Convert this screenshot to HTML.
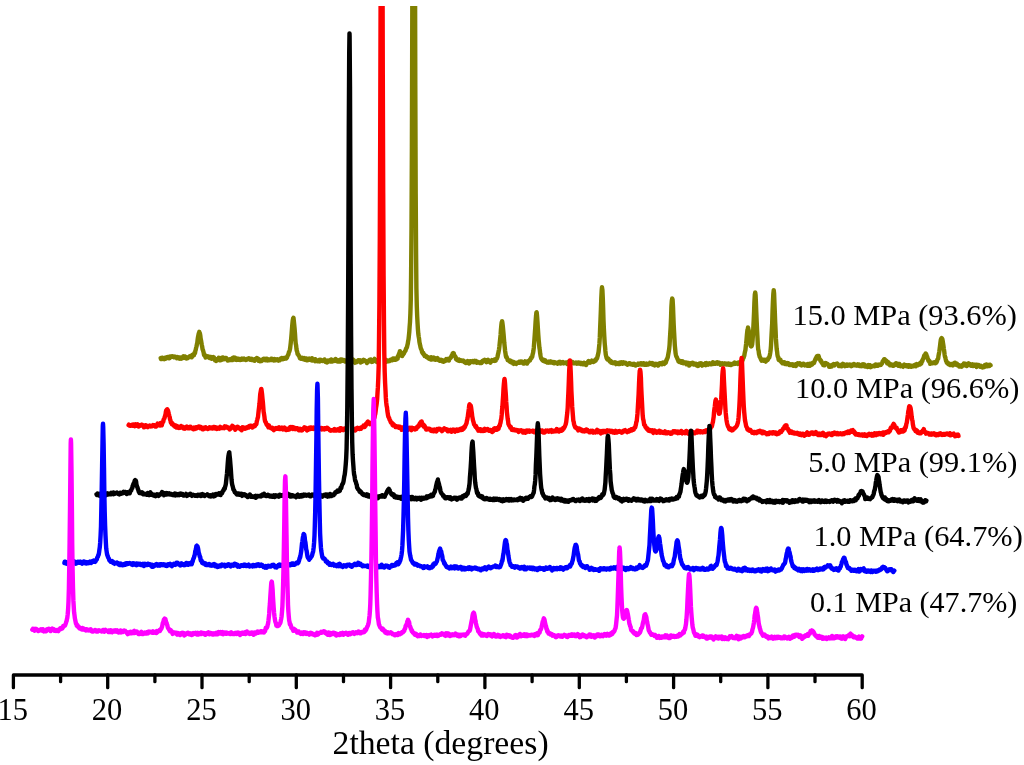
<!DOCTYPE html>
<html lang="en"><head><meta charset="utf-8"><title>XRD patterns</title>
<style>
html,body{margin:0;padding:0;background:#fff;}
body{width:1024px;height:765px;overflow:hidden;}
svg{display:block;}
svg text{font-family:"Liberation Serif","Times New Roman",serif;fill:#000;}
</style></head><body>
<svg width="1024" height="765" viewBox="0 0 1024 765">
<rect width="1024" height="765" fill="#fff"/>
<defs><clipPath id="plot"><rect x="0" y="6" width="1024" height="700"/></clipPath></defs>
<g clip-path="url(#plot)">
<polyline fill="#fff" stroke="#808000" stroke-width="4.4" stroke-linejoin="round" stroke-linecap="round" points="160.7,358.1 161.0,359.0 161.4,359.1 161.8,359.0 162.2,357.7 162.5,358.6 162.9,358.5 163.3,358.4 163.7,358.3 164.1,358.6 164.4,359.1 164.8,357.8 165.2,357.8 165.6,358.7 165.9,357.5 166.3,357.8 166.7,357.2 167.1,357.3 167.5,357.9 167.8,356.9 168.2,357.4 168.6,357.4 169.0,358.1 169.3,357.4 169.7,358.1 170.1,356.6 170.5,357.2 170.8,356.6 171.2,356.6 171.6,356.9 172.0,356.8 172.4,356.4 172.7,356.7 173.1,356.6 173.5,356.9 173.9,357.2 174.2,356.6 174.6,356.8 175.0,356.8 175.4,356.7 175.8,357.3 176.1,357.1 176.5,357.4 176.9,358.3 177.3,357.5 177.6,357.2 178.0,358.1 178.4,358.0 178.8,358.3 179.1,357.4 179.5,358.7 179.9,357.8 180.3,357.5 180.7,358.0 181.0,358.7 181.4,358.4 181.8,358.5 182.2,357.5 182.5,357.3 182.9,356.8 183.3,356.4 183.7,357.3 184.1,357.9 184.4,357.5 184.8,356.4 185.2,357.6 185.6,356.9 185.9,357.4 186.3,358.4 186.7,357.7 187.1,357.6 187.4,358.2 187.8,357.6 188.2,357.6 188.6,357.5 189.0,357.0 189.3,357.0 189.7,356.3 190.1,357.0 190.5,356.1 190.8,356.7 191.2,355.7 191.6,357.3 192.0,356.8 192.4,356.4 192.7,354.8 193.1,355.5 193.5,354.9 193.9,355.3 194.2,353.3 194.6,353.7 195.0,353.2 195.4,350.7 195.7,349.9 196.1,347.9 196.5,346.5 196.9,344.4 197.3,342.8 197.6,339.9 198.0,337.1 198.4,335.1 198.8,333.3 199.1,332.9 199.3,331.8 199.5,333.0 199.9,333.4 200.3,335.4 200.6,338.2 201.0,340.1 201.4,342.6 201.8,344.9 202.2,346.7 202.5,349.1 202.9,350.0 203.3,351.3 203.7,353.0 204.0,355.0 204.4,354.2 204.8,355.8 205.2,356.3 205.6,357.5 205.9,357.3 206.3,357.0 206.7,356.8 207.1,356.9 207.4,356.3 207.8,357.0 208.2,357.1 208.6,356.9 208.9,357.4 209.3,356.7 209.7,358.1 210.1,357.5 210.5,357.3 210.8,358.0 211.2,357.1 211.6,358.8 212.0,358.2 212.3,357.7 212.7,357.3 213.1,357.0 213.5,357.9 213.9,357.3 214.2,358.3 214.6,359.0 215.0,360.2 215.4,359.4 215.7,359.9 216.1,360.9 216.5,360.0 216.9,360.0 217.2,359.1 217.6,360.1 218.0,359.2 218.4,358.6 218.8,357.7 219.1,358.0 219.5,359.1 219.9,359.6 220.3,360.3 220.6,359.0 221.0,359.6 221.4,359.9 221.8,357.6 222.2,359.6 222.5,357.4 222.9,357.5 223.3,358.8 223.7,358.5 224.0,359.3 224.4,359.0 224.8,359.1 225.2,358.6 225.5,358.0 225.9,359.1 226.3,358.0 226.7,359.1 227.1,359.7 227.4,359.2 227.8,360.5 228.2,360.4 228.6,359.8 228.9,359.8 229.3,360.2 229.7,360.1 230.1,359.3 230.5,359.8 230.8,360.1 231.2,359.9 231.6,359.7 232.0,359.9 232.3,358.2 232.7,360.0 233.1,357.6 233.5,358.0 233.8,357.5 234.2,358.2 234.6,359.0 235.0,359.0 235.4,357.8 235.7,359.7 236.1,359.4 236.5,358.3 236.9,359.9 237.2,359.3 237.6,358.8 238.0,359.6 238.4,359.2 238.8,359.6 239.1,359.0 239.5,358.9 239.9,358.9 240.3,360.0 240.6,359.3 241.0,358.9 241.4,359.0 241.8,358.7 242.1,359.7 242.5,358.8 242.9,359.1 243.3,359.5 243.7,358.8 244.0,358.5 244.4,359.3 244.8,359.6 245.2,359.5 245.5,359.9 245.9,360.0 246.3,359.6 246.7,359.2 247.0,359.7 247.4,359.1 247.8,358.8 248.2,359.0 248.6,359.1 248.9,358.4 249.3,358.7 249.7,358.5 250.1,358.8 250.4,359.8 250.8,359.2 251.2,359.1 251.6,358.8 252.0,359.9 252.3,359.4 252.7,359.6 253.1,360.0 253.5,359.6 253.8,360.4 254.2,360.2 254.6,360.7 255.0,360.3 255.3,358.9 255.7,359.2 256.1,359.2 256.5,359.0 256.9,358.0 257.2,358.2 257.6,359.1 258.0,359.4 258.4,358.8 258.7,360.9 259.1,360.7 259.5,359.7 259.9,361.3 260.3,359.9 260.6,360.0 261.0,359.9 261.4,361.1 261.8,360.1 262.1,360.3 262.5,360.0 262.9,359.6 263.3,359.6 263.6,358.8 264.0,359.9 264.4,359.0 264.8,358.8 265.2,359.8 265.5,359.4 265.9,360.2 266.3,360.1 266.7,358.7 267.0,359.3 267.4,359.1 267.8,360.5 268.2,359.5 268.6,359.5 268.9,359.8 269.3,360.2 269.7,359.8 270.1,360.0 270.4,359.2 270.8,358.9 271.2,360.1 271.6,359.2 271.9,358.7 272.3,358.9 272.7,359.3 273.1,359.2 273.5,359.3 273.8,360.5 274.2,359.8 274.6,359.0 275.0,359.5 275.3,359.2 275.7,359.5 276.1,360.2 276.5,359.4 276.9,359.3 277.2,359.3 277.6,360.3 278.0,360.0 278.4,360.6 278.7,359.8 279.1,360.2 279.5,359.8 279.9,360.1 280.2,359.0 280.6,358.5 281.0,359.1 281.4,358.8 281.8,357.9 282.1,357.9 282.5,359.2 282.9,359.3 283.3,358.2 283.6,358.0 284.0,358.6 284.4,358.8 284.8,358.6 285.2,358.5 285.5,358.4 285.9,357.5 286.3,358.4 286.7,357.6 287.0,357.5 287.4,356.2 287.8,355.4 288.2,354.8 288.5,354.1 288.9,352.1 289.3,351.6 289.7,350.3 290.1,348.6 290.4,346.1 290.8,342.5 291.2,338.5 291.6,333.7 291.9,329.7 292.3,324.8 292.7,320.7 293.1,318.6 293.3,318.2 293.5,317.7 293.8,320.8 294.2,324.4 294.6,328.8 295.0,333.8 295.3,338.6 295.7,343.4 296.1,345.2 296.5,349.2 296.8,350.7 297.2,351.8 297.6,354.0 298.0,354.4 298.4,354.9 298.7,355.6 299.1,356.0 299.5,356.6 299.9,358.2 300.2,357.9 300.6,358.0 301.0,358.9 301.4,358.9 301.7,358.4 302.1,358.5 302.5,357.8 302.9,359.1 303.3,358.6 303.6,359.3 304.0,358.7 304.4,358.1 304.8,358.8 305.1,359.8 305.5,358.7 305.9,359.5 306.3,358.4 306.7,359.2 307.0,360.3 307.4,359.0 307.8,359.9 308.2,359.6 308.5,359.1 308.9,359.9 309.3,358.6 309.7,359.6 310.0,359.0 310.4,359.3 310.8,360.1 311.2,360.0 311.6,359.4 311.9,358.2 312.3,360.6 312.7,359.1 313.1,359.9 313.4,359.3 313.8,359.7 314.2,360.4 314.6,360.3 315.0,361.3 315.3,359.3 315.7,359.9 316.1,360.2 316.5,360.4 316.8,360.3 317.2,360.5 317.6,361.3 318.0,360.5 318.3,361.0 318.7,361.1 319.1,361.1 319.5,359.8 319.9,361.4 320.2,360.2 320.6,359.8 321.0,360.0 321.4,360.1 321.7,360.7 322.1,360.7 322.5,361.0 322.9,361.0 323.3,360.3 323.6,360.1 324.0,360.5 324.4,359.4 324.8,360.4 325.1,361.5 325.5,361.9 325.9,361.2 326.3,360.7 326.6,361.5 327.0,362.4 327.4,362.2 327.8,361.3 328.2,360.6 328.5,361.3 328.9,361.2 329.3,361.4 329.7,361.2 330.0,361.5 330.4,360.0 330.8,361.4 331.2,359.5 331.6,360.9 331.9,361.2 332.3,361.5 332.7,360.9 333.1,361.0 333.4,360.5 333.8,361.1 334.2,360.9 334.6,360.8 334.9,359.5 335.3,360.0 335.7,359.1 336.1,360.3 336.5,359.9 336.8,361.2 337.2,360.9 337.6,361.4 338.0,360.9 338.3,361.0 338.7,361.1 339.1,360.3 339.5,361.4 339.9,360.2 340.2,361.5 340.6,359.5 341.0,360.2 341.4,360.8 341.7,360.7 342.1,359.6 342.5,360.7 342.9,360.3 343.2,360.6 343.6,360.5 344.0,360.1 344.4,360.9 344.8,360.7 345.1,361.5 345.5,360.9 345.9,360.8 346.3,361.5 346.6,360.3 347.0,360.9 347.4,360.8 347.8,361.1 348.2,361.2 348.5,361.6 348.9,361.1 349.3,361.1 349.7,360.6 350.0,360.2 350.4,360.6 350.8,361.3 351.2,362.4 351.5,361.9 351.9,361.2 352.3,360.6 352.7,359.5 353.1,359.6 353.4,360.0 353.8,360.1 354.2,361.2 354.6,362.5 354.9,362.8 355.3,361.7 355.7,361.8 356.1,362.0 356.4,361.6 356.8,362.1 357.2,361.3 357.6,360.8 358.0,360.9 358.3,360.2 358.7,360.2 359.1,361.0 359.5,361.3 359.8,360.9 360.2,360.3 360.6,362.5 361.0,361.5 361.4,361.6 361.7,360.9 362.1,361.7 362.5,361.5 362.9,360.8 363.2,361.1 363.6,359.8 364.0,360.8 364.4,360.2 364.7,360.4 365.1,360.9 365.5,361.3 365.9,361.1 366.3,361.4 366.6,361.9 367.0,363.1 367.4,361.9 367.8,361.4 368.1,361.8 368.5,361.5 368.9,360.5 369.3,361.3 369.7,359.7 370.0,360.6 370.4,361.2 370.8,359.5 371.2,360.3 371.5,360.3 371.9,361.9 372.3,361.0 372.7,361.0 373.0,361.6 373.4,361.4 373.8,360.9 374.2,359.5 374.6,358.8 374.9,360.6 375.3,360.2 375.7,360.3 376.1,360.1 376.4,360.5 376.8,361.9 377.2,360.7 377.6,361.5 378.0,360.8 378.3,362.2 378.7,361.6 379.1,361.1 379.5,360.3 379.8,361.1 380.2,361.3 380.6,361.2 381.0,361.8 381.3,360.3 381.7,361.3 382.1,361.1 382.5,360.6 382.9,361.2 383.2,361.4 383.6,360.1 384.0,360.2 384.4,360.0 384.7,360.3 385.1,360.9 385.5,359.5 385.9,360.4 386.3,361.8 386.6,360.3 387.0,361.1 387.4,361.3 387.8,360.6 388.1,360.9 388.5,360.8 388.9,361.2 389.3,360.5 389.6,360.9 390.0,360.1 390.4,359.6 390.8,359.7 391.2,359.6 391.5,360.1 391.9,359.2 392.3,360.2 392.7,359.4 393.0,358.4 393.4,359.2 393.8,359.3 394.2,359.6 394.6,358.5 394.9,358.8 395.3,359.7 395.7,359.0 396.1,359.6 396.4,359.5 396.8,358.0 397.2,358.3 397.6,358.7 397.9,356.1 398.3,356.5 398.7,354.8 399.1,353.5 399.5,353.7 399.8,351.3 400.0,351.3 400.2,351.8 400.6,352.9 401.0,354.4 401.3,354.8 401.7,354.0 402.1,356.1 402.5,355.4 402.9,354.8 403.2,354.1 403.6,353.0 404.0,353.5 404.4,352.1 404.7,351.7 405.1,351.2 405.5,350.8 405.9,349.0 406.2,348.3 406.6,348.1 407.0,347.0 407.4,345.1 407.8,343.6 408.1,341.4 408.5,339.4 408.9,335.8 409.3,331.8 409.6,327.2 410.0,322.1 410.4,313.2 410.8,299.8 411.1,274.7 411.5,228.7 411.9,146.3 412.3,8.8 412.7,-185.7 413.0,-412.2 413.4,-598.3 413.7,-651.1 413.8,-644.6 414.2,-515.5 414.5,-297.8 414.9,-81.4 415.3,84.7 415.7,193.4 416.1,255.0 416.4,288.6 416.8,306.0 417.2,316.7 417.6,324.0 417.9,329.0 418.3,333.9 418.7,336.6 419.1,338.9 419.4,341.9 419.8,343.9 420.2,345.5 420.6,347.6 421.0,348.9 421.3,349.4 421.7,350.3 422.1,352.3 422.5,352.6 422.8,353.4 423.2,352.8 423.6,354.4 424.0,354.3 424.4,355.1 424.7,356.1 425.1,355.6 425.5,356.1 425.9,356.3 426.2,355.9 426.6,357.1 427.0,356.7 427.4,357.3 427.7,357.2 428.1,358.1 428.5,357.8 428.9,358.6 429.3,357.8 429.6,357.8 430.0,357.6 430.4,357.8 430.8,359.4 431.1,357.1 431.5,359.5 431.9,359.4 432.3,358.5 432.7,359.3 433.0,359.3 433.4,358.9 433.8,357.6 434.2,358.1 434.5,359.6 434.9,358.2 435.3,359.8 435.7,358.7 436.0,359.1 436.4,359.1 436.8,358.8 437.2,359.4 437.6,358.1 437.9,359.8 438.3,359.2 438.7,360.1 439.1,359.9 439.4,359.9 439.8,360.8 440.2,360.1 440.6,359.8 441.0,359.9 441.3,360.0 441.7,360.8 442.1,360.1 442.5,361.4 442.8,360.3 443.2,360.8 443.6,361.7 444.0,360.7 444.3,360.9 444.7,360.5 445.1,360.4 445.5,360.9 445.9,360.1 446.2,359.1 446.6,359.5 447.0,359.6 447.4,359.0 447.7,358.9 448.1,360.2 448.5,359.8 448.9,360.5 449.3,359.2 449.6,358.4 450.0,358.4 450.4,358.1 450.8,357.6 451.1,357.3 451.5,355.7 451.9,355.7 452.3,355.6 452.6,353.5 453.0,354.0 453.0,353.7 453.4,353.1 453.8,353.3 454.2,355.6 454.5,355.2 454.9,356.2 455.3,356.7 455.7,357.0 456.0,359.1 456.4,359.4 456.8,359.8 457.2,360.0 457.5,360.0 457.9,359.6 458.3,360.5 458.7,359.4 459.1,360.8 459.4,360.6 459.8,360.9 460.2,360.7 460.6,360.1 460.9,360.1 461.3,360.7 461.7,360.9 462.1,361.0 462.5,360.8 462.8,361.0 463.2,360.5 463.6,361.4 464.0,361.2 464.3,362.1 464.7,362.3 465.1,362.4 465.5,361.8 465.8,363.1 466.2,361.7 466.6,362.2 467.0,362.4 467.4,362.1 467.7,361.1 468.1,361.5 468.5,362.7 468.9,362.6 469.2,363.5 469.6,361.6 470.0,361.2 470.4,361.2 470.8,361.3 471.1,361.5 471.5,361.7 471.9,362.0 472.3,361.5 472.6,361.2 473.0,361.9 473.4,361.5 473.8,362.3 474.1,361.3 474.5,360.9 474.9,362.0 475.3,361.8 475.7,362.1 476.0,360.9 476.4,361.9 476.8,362.8 477.2,362.0 477.5,361.8 477.9,362.0 478.3,362.4 478.7,362.2 479.1,362.5 479.4,362.7 479.8,363.0 480.2,363.1 480.6,362.5 480.9,362.1 481.3,363.0 481.7,363.0 482.1,362.0 482.4,361.0 482.8,361.8 483.2,360.6 483.6,360.5 484.0,360.7 484.3,360.8 484.7,359.7 485.1,360.0 485.5,360.8 485.8,360.8 486.2,360.2 486.6,362.2 487.0,361.6 487.4,361.4 487.7,360.9 488.1,359.8 488.5,360.7 488.9,361.2 489.2,361.4 489.6,361.9 490.0,362.2 490.4,362.6 490.7,362.1 491.1,360.9 491.5,361.3 491.9,360.1 492.3,360.2 492.6,360.2 493.0,360.0 493.4,360.4 493.8,360.7 494.1,360.9 494.5,359.5 494.9,360.2 495.3,359.9 495.7,360.6 496.0,359.6 496.4,358.5 496.8,358.7 497.2,357.7 497.5,356.9 497.9,354.6 498.3,353.2 498.7,351.0 499.0,349.6 499.4,346.5 499.8,342.5 500.2,338.6 500.6,334.7 500.9,329.9 501.3,325.6 501.7,322.2 502.1,322.0 502.1,321.1 502.4,322.9 502.8,326.0 503.2,330.1 503.6,334.5 504.0,339.4 504.3,343.1 504.7,346.7 505.1,350.8 505.5,353.3 505.8,355.6 506.2,357.1 506.6,356.8 507.0,358.1 507.3,358.7 507.7,360.1 508.1,359.9 508.5,360.6 508.9,360.8 509.2,361.0 509.6,361.5 510.0,361.7 510.4,360.6 510.7,362.2 511.1,361.0 511.5,361.3 511.9,361.4 512.2,362.4 512.6,362.1 513.0,363.5 513.4,362.0 513.8,363.9 514.1,362.9 514.5,363.5 514.9,363.1 515.3,363.3 515.6,362.8 516.0,362.7 516.4,363.9 516.8,363.3 517.2,363.1 517.5,362.7 517.9,362.8 518.3,362.6 518.7,362.6 519.0,361.7 519.4,362.0 519.8,362.8 520.2,361.9 520.5,362.6 520.9,361.6 521.3,361.9 521.7,361.6 522.1,362.6 522.4,362.2 522.8,362.2 523.2,363.4 523.6,363.0 523.9,363.4 524.3,362.6 524.7,362.0 525.1,361.3 525.5,362.0 525.8,362.1 526.2,362.2 526.6,362.2 527.0,363.6 527.3,361.5 527.7,361.7 528.1,361.6 528.5,361.7 528.8,360.7 529.2,360.8 529.6,360.1 530.0,360.4 530.4,359.0 530.7,358.8 531.1,357.6 531.5,358.1 531.9,356.9 532.2,356.9 532.6,354.4 533.0,353.1 533.4,350.9 533.8,347.7 534.1,343.7 534.5,338.5 534.9,332.6 535.3,326.9 535.6,321.5 536.0,316.3 536.4,312.4 536.6,312.3 536.8,313.3 537.1,316.6 537.5,322.2 537.9,328.7 538.3,334.9 538.7,340.2 539.0,343.3 539.4,347.6 539.8,350.0 540.2,353.7 540.5,355.4 540.9,357.2 541.3,358.8 541.7,358.9 542.1,359.8 542.4,360.2 542.8,359.4 543.2,360.8 543.6,360.4 543.9,360.5 544.3,361.2 544.7,360.1 545.1,360.3 545.4,361.4 545.8,361.9 546.2,361.8 546.6,361.8 547.0,362.3 547.3,362.6 547.7,362.5 548.1,361.7 548.5,362.6 548.8,361.9 549.2,361.6 549.6,361.9 550.0,361.7 550.4,361.6 550.7,362.5 551.1,361.5 551.5,361.7 551.9,362.2 552.2,362.2 552.6,362.8 553.0,362.8 553.4,362.2 553.7,362.1 554.1,363.3 554.5,362.3 554.9,362.3 555.3,362.9 555.6,363.0 556.0,362.9 556.4,363.0 556.8,362.7 557.1,362.8 557.5,363.7 557.9,362.7 558.3,363.0 558.7,362.7 559.0,361.9 559.4,363.0 559.8,362.7 560.2,361.9 560.5,363.5 560.9,363.4 561.3,363.1 561.7,362.6 562.0,362.3 562.4,362.5 562.8,362.2 563.2,363.2 563.6,363.0 563.9,363.3 564.3,362.6 564.7,362.7 565.1,362.6 565.4,362.5 565.8,362.8 566.2,363.0 566.6,363.0 566.9,362.7 567.3,364.1 567.7,362.8 568.1,362.6 568.5,361.9 568.8,362.9 569.2,362.6 569.6,362.4 570.0,363.1 570.3,362.9 570.7,362.2 571.1,361.6 571.5,361.9 571.9,362.4 572.2,362.1 572.6,362.0 573.0,362.5 573.4,363.0 573.7,363.4 574.1,363.4 574.5,363.0 574.9,363.1 575.2,363.1 575.6,363.0 576.0,362.5 576.4,363.2 576.8,363.6 577.1,362.8 577.5,362.7 577.9,363.5 578.3,363.6 578.6,363.5 579.0,362.6 579.4,362.8 579.8,363.3 580.2,363.6 580.5,363.9 580.9,362.8 581.3,364.0 581.7,364.1 582.0,363.8 582.4,364.1 582.8,363.3 583.2,363.8 583.5,364.3 583.9,362.7 584.3,363.1 584.7,363.2 585.1,363.4 585.4,363.6 585.8,363.8 586.2,364.9 586.6,363.2 586.9,363.6 587.3,362.9 587.7,362.4 588.1,361.6 588.5,361.1 588.8,361.2 589.2,361.9 589.6,361.7 590.0,362.7 590.3,361.8 590.7,362.3 591.1,361.6 591.5,361.1 591.8,360.7 592.2,361.5 592.6,361.0 593.0,361.1 593.4,362.0 593.7,361.0 594.1,361.6 594.5,360.6 594.9,360.4 595.2,360.3 595.6,360.7 596.0,359.1 596.4,359.3 596.8,358.7 597.1,358.3 597.5,356.6 597.9,355.1 598.3,353.2 598.6,351.7 599.0,347.8 599.4,343.9 599.8,337.7 600.1,329.1 600.5,319.5 600.9,309.3 601.3,298.0 601.7,290.1 602.0,287.1 602.0,287.7 602.4,289.8 602.8,298.1 603.2,309.8 603.5,320.0 603.9,329.0 604.3,336.7 604.7,343.1 605.1,347.2 605.4,351.0 605.8,354.7 606.2,356.2 606.6,357.9 606.9,358.5 607.3,359.4 607.7,358.6 608.1,359.0 608.4,358.8 608.8,359.7 609.2,359.8 609.6,361.3 610.0,361.7 610.3,360.8 610.7,361.0 611.1,362.7 611.5,362.8 611.8,361.8 612.2,362.4 612.6,363.0 613.0,362.7 613.3,363.2 613.7,362.7 614.1,362.6 614.5,362.7 614.9,362.3 615.2,363.1 615.6,363.2 616.0,364.1 616.4,362.8 616.7,363.5 617.1,363.0 617.5,363.2 617.9,363.1 618.3,364.0 618.6,363.4 619.0,363.3 619.4,363.7 619.8,364.0 620.1,362.5 620.5,362.9 620.9,363.1 621.3,363.0 621.6,363.3 622.0,362.3 622.4,363.8 622.8,362.9 623.2,363.1 623.5,362.3 623.9,363.1 624.3,363.4 624.7,363.3 625.0,363.4 625.4,362.7 625.8,363.8 626.2,363.8 626.6,364.2 626.9,364.2 627.3,364.7 627.7,363.9 628.1,364.0 628.4,363.8 628.8,363.9 629.2,363.2 629.6,363.6 629.9,363.3 630.3,364.2 630.7,363.8 631.1,364.0 631.5,363.9 631.8,364.6 632.2,364.6 632.6,364.8 633.0,364.0 633.3,364.5 633.7,363.9 634.1,363.8 634.5,364.1 634.9,365.1 635.2,364.8 635.6,365.5 636.0,364.5 636.4,364.9 636.7,364.7 637.1,364.8 637.5,364.8 637.9,364.7 638.2,363.6 638.6,364.7 639.0,364.0 639.4,363.9 639.8,364.1 640.1,363.7 640.5,364.3 640.9,363.4 641.3,364.5 641.6,364.2 642.0,363.3 642.4,363.4 642.8,364.4 643.2,364.3 643.5,363.2 643.9,364.0 644.3,364.8 644.7,364.3 645.0,364.8 645.4,364.4 645.8,364.5 646.2,363.6 646.5,363.5 646.9,364.7 647.3,364.5 647.7,364.3 648.1,364.5 648.4,364.5 648.8,364.1 649.2,363.9 649.6,363.5 649.9,362.9 650.3,363.7 650.7,363.4 651.1,363.3 651.5,363.7 651.8,364.2 652.2,363.1 652.6,363.8 653.0,364.7 653.3,363.4 653.7,364.2 654.1,364.2 654.5,364.3 654.8,365.4 655.2,365.0 655.6,364.3 656.0,363.8 656.4,364.4 656.7,364.0 657.1,364.6 657.5,364.2 657.9,365.0 658.2,365.5 658.6,364.9 659.0,364.0 659.4,364.1 659.8,363.2 660.1,364.0 660.5,363.3 660.9,363.2 661.3,363.0 661.6,363.6 662.0,364.3 662.4,362.8 662.8,362.5 663.1,362.5 663.5,362.8 663.9,363.0 664.3,363.9 664.7,363.2 665.0,362.6 665.4,361.9 665.8,362.7 666.2,361.2 666.5,359.8 666.9,359.7 667.3,358.3 667.7,357.5 668.0,355.8 668.4,353.6 668.8,351.4 669.2,348.9 669.6,344.6 669.9,339.1 670.3,332.4 670.7,326.1 671.1,316.9 671.4,306.9 671.8,300.9 672.2,298.5 672.2,298.4 672.6,299.6 673.0,306.7 673.3,314.7 673.7,324.7 674.1,332.4 674.5,339.6 674.8,345.1 675.2,349.2 675.6,353.4 676.0,355.3 676.3,356.3 676.7,357.0 677.1,357.9 677.5,359.1 677.9,359.7 678.2,360.6 678.6,361.5 679.0,361.8 679.4,361.1 679.7,361.3 680.1,362.0 680.5,361.0 680.9,362.1 681.3,361.9 681.6,362.7 682.0,361.4 682.4,361.9 682.8,361.4 683.1,362.2 683.5,363.3 683.9,362.3 684.3,363.0 684.6,362.6 685.0,363.0 685.4,362.4 685.8,362.4 686.2,362.4 686.5,364.3 686.9,362.8 687.3,363.3 687.7,363.0 688.0,364.1 688.4,364.0 688.8,363.1 689.2,365.6 689.6,364.1 689.9,364.1 690.3,364.6 690.7,363.2 691.1,364.0 691.4,363.7 691.8,363.6 692.2,363.6 692.6,362.8 692.9,363.8 693.3,364.4 693.7,363.6 694.1,364.2 694.5,363.8 694.8,364.4 695.2,363.7 695.6,363.9 696.0,363.8 696.3,364.2 696.7,365.4 697.1,364.8 697.5,365.0 697.9,365.0 698.2,366.0 698.6,364.1 699.0,364.8 699.4,363.6 699.7,364.0 700.1,363.8 700.5,363.8 700.9,363.2 701.2,364.7 701.6,365.0 702.0,365.6 702.4,364.0 702.8,365.1 703.1,364.8 703.5,364.3 703.9,364.2 704.3,364.2 704.6,364.8 705.0,364.2 705.4,363.3 705.8,365.2 706.2,364.0 706.5,363.0 706.9,363.4 707.3,363.7 707.7,363.7 708.0,363.8 708.4,364.6 708.8,363.5 709.2,363.4 709.5,363.3 709.9,363.5 710.3,363.4 710.7,363.8 711.1,364.3 711.4,364.2 711.8,363.9 712.2,363.3 712.6,362.9 712.9,362.3 713.3,363.9 713.7,362.6 714.1,362.6 714.5,363.2 714.8,363.2 715.2,363.7 715.6,363.2 716.0,362.8 716.3,363.0 716.7,363.1 717.1,363.1 717.5,362.2 717.8,363.7 718.2,362.5 718.6,363.0 719.0,362.9 719.4,363.3 719.7,362.9 720.1,363.7 720.5,364.8 720.9,364.5 721.2,363.9 721.6,364.2 722.0,364.2 722.4,363.3 722.7,364.1 723.1,364.3 723.5,364.2 723.9,363.8 724.3,363.6 724.6,364.1 725.0,363.5 725.4,364.2 725.8,364.4 726.1,363.8 726.5,364.4 726.9,363.7 727.3,364.1 727.7,364.5 728.0,363.7 728.4,363.5 728.8,363.5 729.2,364.8 729.5,363.8 729.9,364.4 730.3,364.1 730.7,364.9 731.0,364.4 731.4,364.9 731.8,364.1 732.2,364.5 732.6,363.8 732.9,364.0 733.3,363.7 733.7,363.9 734.1,362.8 734.4,362.6 734.8,363.7 735.2,363.5 735.6,362.8 736.0,363.6 736.3,363.4 736.7,363.5 737.1,363.2 737.5,363.1 737.8,363.9 738.2,362.5 738.6,362.5 739.0,362.6 739.3,362.7 739.7,362.3 740.1,363.3 740.5,362.8 740.9,362.3 741.2,361.6 741.6,361.9 742.0,361.6 742.4,359.2 742.7,359.9 743.1,358.1 743.5,357.9 743.9,356.8 744.3,355.6 744.6,353.7 745.0,351.6 745.4,350.2 745.8,346.4 746.1,344.0 746.5,339.9 746.9,335.0 747.3,331.1 747.6,329.9 748.0,327.9 748.0,327.4 748.4,329.2 748.8,330.9 749.2,334.3 749.5,337.8 749.9,341.2 750.3,344.1 750.7,345.9 751.0,345.6 751.4,346.4 751.8,345.7 752.2,344.1 752.6,340.1 752.9,335.3 753.3,328.4 753.7,320.3 754.1,311.2 754.4,302.4 754.8,294.8 755.2,292.8 755.2,292.4 755.6,295.1 755.9,302.7 756.3,312.7 756.7,322.1 757.1,330.6 757.5,338.0 757.8,344.5 758.2,349.4 758.6,350.7 759.0,354.0 759.3,355.0 759.7,356.8 760.1,357.3 760.5,358.0 760.9,359.4 761.2,359.1 761.6,360.7 762.0,359.5 762.4,360.5 762.7,360.1 763.1,359.9 763.5,360.6 763.9,360.0 764.2,360.6 764.6,359.7 765.0,360.7 765.4,360.8 765.8,361.6 766.1,360.8 766.5,360.5 766.9,359.5 767.3,359.8 767.6,360.0 768.0,359.3 768.4,358.1 768.8,357.8 769.2,357.7 769.5,356.4 769.9,354.9 770.3,352.5 770.7,349.4 771.0,345.6 771.4,337.6 771.8,330.1 772.2,323.1 772.5,312.1 772.9,302.2 773.3,294.3 773.7,290.4 773.7,290.1 774.1,293.6 774.4,301.8 774.8,311.8 775.2,322.6 775.6,330.8 775.9,338.7 776.3,344.0 776.7,349.1 777.1,351.6 777.4,354.6 777.8,356.7 778.2,356.9 778.6,359.8 779.0,358.7 779.3,360.2 779.7,360.1 780.1,360.2 780.5,359.9 780.8,361.4 781.2,361.9 781.6,361.8 782.0,362.4 782.4,363.2 782.7,362.4 783.1,362.6 783.5,363.2 783.9,362.4 784.2,362.9 784.6,362.3 785.0,364.0 785.4,363.5 785.7,364.1 786.1,364.1 786.5,363.3 786.9,364.3 787.3,363.7 787.6,363.1 788.0,363.8 788.4,363.3 788.8,363.8 789.1,364.0 789.5,365.1 789.9,364.5 790.3,364.6 790.7,365.0 791.0,364.2 791.4,364.5 791.8,364.9 792.2,364.6 792.5,364.4 792.9,364.9 793.3,365.8 793.7,365.0 794.0,365.2 794.4,364.7 794.8,364.6 795.2,365.5 795.6,364.3 795.9,366.1 796.3,365.2 796.7,365.1 797.1,364.8 797.4,363.9 797.8,363.2 798.2,363.8 798.6,364.1 799.0,364.1 799.3,363.9 799.7,363.2 800.1,363.5 800.5,364.8 800.8,364.0 801.2,364.1 801.6,365.4 802.0,365.2 802.3,365.1 802.7,364.0 803.1,363.6 803.5,363.7 803.9,364.4 804.2,364.8 804.6,365.4 805.0,364.7 805.4,365.1 805.7,364.6 806.1,364.7 806.5,364.5 806.9,364.3 807.3,364.1 807.6,365.9 808.0,364.2 808.4,365.5 808.8,364.3 809.1,364.9 809.5,363.8 809.9,365.8 810.3,364.7 810.6,363.8 811.0,364.3 811.4,364.9 811.8,363.6 812.2,364.5 812.5,363.8 812.9,363.5 813.3,362.5 813.7,362.4 814.0,363.1 814.4,361.8 814.8,360.8 815.2,359.6 815.6,358.7 815.9,359.2 816.3,357.5 816.7,356.6 817.1,357.0 817.4,356.0 817.5,356.8 817.8,356.4 818.2,355.9 818.6,356.0 818.9,357.1 819.3,358.9 819.7,359.3 820.1,359.6 820.5,360.9 820.8,361.1 821.2,360.9 821.6,362.3 822.0,362.6 822.3,363.4 822.7,363.5 823.1,365.0 823.5,364.5 823.8,364.1 824.2,364.6 824.6,365.3 825.0,363.7 825.4,363.0 825.7,363.1 826.1,363.2 826.5,363.5 826.9,363.6 827.2,363.9 827.6,363.9 828.0,364.5 828.4,364.9 828.8,365.4 829.1,366.7 829.5,365.6 829.9,366.4 830.3,366.7 830.6,365.6 831.0,366.5 831.4,365.4 831.8,366.5 832.1,365.0 832.5,365.6 832.9,364.4 833.3,364.8 833.7,364.1 834.0,365.3 834.4,365.4 834.8,364.3 835.2,364.3 835.5,364.3 835.9,364.2 836.3,363.8 836.7,363.8 837.1,364.0 837.4,363.7 837.8,364.2 838.2,364.7 838.6,364.9 838.9,366.1 839.3,365.5 839.7,366.0 840.1,366.1 840.4,365.8 840.8,365.4 841.2,365.1 841.6,366.3 842.0,364.3 842.3,364.1 842.7,364.8 843.1,363.9 843.5,365.1 843.8,364.6 844.2,365.0 844.6,364.8 845.0,366.2 845.4,364.9 845.7,365.5 846.1,365.0 846.5,365.3 846.9,364.5 847.2,365.8 847.6,365.6 848.0,365.6 848.4,364.7 848.7,365.1 849.1,365.6 849.5,365.6 849.9,364.5 850.3,364.9 850.6,365.1 851.0,365.6 851.4,366.2 851.8,365.9 852.1,364.7 852.5,365.0 852.9,364.8 853.3,364.4 853.7,364.1 854.0,363.9 854.4,364.1 854.8,365.3 855.2,364.6 855.5,364.8 855.9,365.5 856.3,365.4 856.7,365.6 857.0,364.7 857.4,365.5 857.8,364.3 858.2,364.6 858.6,365.1 858.9,365.2 859.3,364.7 859.7,366.0 860.1,365.5 860.4,365.6 860.8,365.7 861.2,366.1 861.6,365.1 862.0,364.7 862.3,365.8 862.7,366.0 863.1,365.3 863.5,364.4 863.8,365.4 864.2,365.1 864.6,364.6 865.0,365.6 865.3,366.5 865.7,365.5 866.1,366.5 866.5,366.1 866.9,366.5 867.2,366.6 867.6,366.9 868.0,366.4 868.4,365.0 868.7,365.9 869.1,366.2 869.5,366.6 869.9,365.2 870.3,365.7 870.6,367.2 871.0,366.2 871.4,366.4 871.8,366.3 872.1,366.5 872.5,366.1 872.9,366.0 873.3,365.7 873.6,365.8 874.0,366.2 874.4,366.3 874.8,365.0 875.2,365.3 875.5,365.2 875.9,364.5 876.3,365.1 876.7,365.7 877.0,365.6 877.4,365.5 877.8,365.7 878.2,364.8 878.5,365.4 878.9,365.0 879.3,364.6 879.7,365.0 880.1,365.1 880.4,364.6 880.8,364.8 881.2,364.1 881.6,363.9 881.9,363.7 882.3,362.8 882.7,361.2 883.1,361.3 883.5,360.5 883.8,359.9 884.2,359.2 884.6,359.2 884.6,359.2 885.0,359.9 885.3,360.3 885.7,360.8 886.1,360.5 886.5,360.9 886.8,361.9 887.2,363.3 887.6,361.9 888.0,362.3 888.4,362.3 888.7,363.6 889.1,364.4 889.5,364.5 889.9,365.3 890.2,364.0 890.6,364.1 891.0,364.4 891.4,365.3 891.8,364.5 892.1,364.9 892.5,365.0 892.9,365.8 893.3,365.6 893.6,365.8 894.0,364.6 894.4,365.0 894.8,365.1 895.1,365.0 895.5,364.7 895.9,363.2 896.3,364.5 896.7,363.5 897.0,365.1 897.4,363.7 897.8,365.0 898.2,364.8 898.5,365.8 898.9,365.1 899.3,363.9 899.7,365.3 900.1,365.0 900.4,365.0 900.8,366.2 901.2,365.9 901.6,365.7 901.9,365.9 902.3,366.0 902.7,366.4 903.1,366.8 903.4,365.2 903.8,364.9 904.2,364.5 904.6,365.0 905.0,365.8 905.3,365.1 905.7,365.5 906.1,365.4 906.5,366.3 906.8,365.6 907.2,366.0 907.6,366.4 908.0,365.2 908.4,366.8 908.7,366.3 909.1,366.3 909.5,365.2 909.9,365.8 910.2,365.5 910.6,366.2 911.0,366.9 911.4,366.8 911.7,366.1 912.1,366.3 912.5,366.2 912.9,365.7 913.3,365.7 913.6,366.3 914.0,366.1 914.4,365.8 914.8,365.9 915.1,364.7 915.5,365.4 915.9,366.2 916.3,364.8 916.7,364.1 917.0,364.8 917.4,364.4 917.8,364.6 918.2,365.1 918.5,364.5 918.9,364.6 919.3,363.7 919.7,363.7 920.0,364.4 920.4,362.7 920.8,363.0 921.2,363.7 921.6,362.2 921.9,360.9 922.3,361.3 922.7,359.7 923.1,358.8 923.4,358.5 923.8,357.1 924.2,355.6 924.6,355.8 925.0,355.4 925.3,354.1 925.7,354.0 925.7,353.4 926.1,354.0 926.5,355.1 926.8,356.1 927.2,356.7 927.6,358.6 928.0,358.9 928.3,360.5 928.7,360.2 929.1,361.5 929.5,361.0 929.9,362.0 930.2,363.9 930.6,362.4 931.0,363.5 931.4,363.1 931.7,363.2 932.1,362.7 932.5,362.7 932.9,363.2 933.2,363.0 933.6,363.0 934.0,363.1 934.4,362.3 934.8,363.1 935.1,363.2 935.5,362.0 935.9,361.7 936.3,362.7 936.6,361.9 937.0,361.4 937.4,359.5 937.8,359.1 938.2,358.5 938.5,355.8 938.9,354.0 939.3,351.6 939.7,348.6 940.0,346.2 940.4,342.7 940.8,339.9 941.2,338.6 941.5,338.7 941.7,338.0 941.9,338.4 942.3,339.0 942.7,341.0 943.1,343.6 943.4,345.5 943.8,348.6 944.2,351.1 944.6,354.6 944.9,356.4 945.3,357.2 945.7,359.2 946.1,360.9 946.5,361.2 946.8,362.9 947.2,362.9 947.6,362.9 948.0,363.8 948.3,364.1 948.7,363.9 949.1,363.6 949.5,364.5 949.8,364.9 950.2,364.5 950.6,364.9 951.0,365.0 951.4,364.7 951.7,364.0 952.1,364.0 952.5,364.8 952.9,365.4 953.2,364.4 953.6,363.7 954.0,363.8 954.4,362.9 954.8,362.7 955.1,362.7 955.5,363.3 955.7,363.6 955.9,363.6 956.3,363.8 956.6,365.1 957.0,363.7 957.4,364.5 957.8,365.2 958.1,365.7 958.5,365.6 958.9,365.4 959.3,366.6 959.7,365.6 960.0,366.0 960.4,366.6 960.8,366.4 961.2,366.2 961.5,365.9 961.9,366.6 962.3,364.9 962.7,365.4 963.1,365.1 963.4,365.2 963.8,363.5 964.2,364.5 964.6,364.6 964.9,364.2 965.3,364.3 965.7,363.8 966.1,365.8 966.4,365.6 966.8,365.9 967.2,364.9 967.6,365.2 968.0,365.0 968.3,365.1 968.7,363.3 969.1,364.6 969.5,364.6 969.8,364.8 970.2,365.1 970.6,364.4 971.0,365.7 971.4,365.2 971.7,364.7 972.1,365.6 972.5,364.3 972.9,366.0 973.2,365.5 973.6,365.1 974.0,365.5 974.4,364.8 974.7,365.6 975.1,364.9 975.5,365.9 975.9,364.7 976.3,365.1 976.6,367.0 977.0,365.6 977.4,365.0 977.8,365.7 978.1,365.0 978.5,365.6 978.9,365.2 979.3,365.7 979.3,366.2 979.7,366.3 980.0,366.7 980.4,366.0 980.8,365.8 981.2,366.4 981.5,366.6 981.9,367.2 982.3,366.5 982.7,367.5 983.0,366.7 983.4,366.4 983.8,366.4 984.2,365.8 984.6,366.9 984.9,365.0 985.3,365.5 985.7,365.9 986.1,364.9 986.4,366.3 986.8,364.6 987.2,366.2 987.6,366.2 987.9,365.8 988.3,365.9 988.7,365.1 989.1,366.1 989.5,366.1 989.8,364.7 990.2,365.3 990.6,365.2"/>
<polyline fill="#fff" stroke="#ff0000" stroke-width="4.4" stroke-linejoin="round" stroke-linecap="round" points="128.6,425.1 128.9,424.6 129.3,425.6 129.7,425.7 130.1,425.6 130.4,425.3 130.8,425.7 131.2,425.5 131.6,425.5 132.0,425.4 132.3,424.7 132.7,425.7 133.1,424.7 133.5,425.2 133.8,425.3 134.2,424.5 134.6,425.5 135.0,426.2 135.4,425.0 135.7,424.2 136.1,424.6 136.5,425.3 136.9,425.0 137.2,424.8 137.6,424.4 138.0,425.8 138.4,425.7 138.7,426.5 139.1,426.3 139.5,426.2 139.9,425.3 140.3,425.3 140.6,425.5 141.0,425.3 141.4,424.8 141.8,425.4 142.1,424.8 142.5,425.1 142.9,425.4 143.3,426.0 143.7,425.6 144.0,427.4 144.4,427.2 144.8,426.8 145.2,425.8 145.5,425.1 145.9,425.1 146.3,425.5 146.7,426.2 147.0,426.5 147.4,427.1 147.8,427.2 148.2,426.5 148.6,426.2 148.9,426.0 149.3,426.1 149.7,425.5 150.1,426.2 150.4,426.4 150.8,426.0 151.2,425.8 151.6,425.9 152.0,426.3 152.3,425.7 152.7,425.7 153.1,425.1 153.5,425.4 153.8,425.4 154.2,425.2 154.6,425.2 155.0,425.5 155.3,426.5 155.7,425.3 156.1,426.6 156.5,425.8 156.9,425.7 157.2,424.3 157.6,423.6 158.0,424.9 158.4,424.4 158.7,425.4 159.1,425.4 159.5,425.0 159.9,425.5 160.3,424.8 160.6,422.9 161.0,423.8 161.4,424.7 161.8,425.3 162.1,423.8 162.5,423.0 162.9,421.9 163.3,421.6 163.6,419.7 164.0,419.0 164.4,418.3 164.8,417.0 165.2,415.4 165.5,414.5 165.9,411.6 166.3,410.2 166.7,409.9 167.0,409.4 167.2,409.3 167.4,410.5 167.8,410.1 168.2,411.6 168.5,412.4 168.9,414.2 169.3,415.8 169.7,417.2 170.1,419.6 170.4,420.0 170.8,422.5 171.2,422.3 171.6,422.9 171.9,424.3 172.3,423.1 172.7,423.8 173.1,424.9 173.5,425.3 173.8,425.7 174.2,425.3 174.6,425.3 175.0,426.8 175.3,426.4 175.7,425.5 176.1,426.3 176.5,427.6 176.8,426.7 177.2,426.1 177.6,426.8 178.0,427.2 178.4,427.9 178.7,428.0 179.1,427.1 179.5,427.2 179.9,427.8 180.2,427.5 180.6,427.5 181.0,426.0 181.4,426.3 181.8,427.2 182.1,426.7 182.5,427.6 182.9,427.5 183.3,427.1 183.6,428.5 184.0,428.0 184.4,427.8 184.8,428.2 185.1,428.6 185.5,427.2 185.9,427.2 186.3,426.9 186.7,426.6 187.0,427.8 187.4,427.7 187.8,428.3 188.2,427.4 188.5,427.8 188.9,427.7 189.3,427.2 189.7,428.2 190.1,426.9 190.4,426.8 190.8,427.7 191.2,427.9 191.6,427.8 191.9,428.6 192.3,427.9 192.7,428.2 193.1,427.9 193.4,429.3 193.8,427.7 194.2,428.5 194.6,429.0 195.0,427.5 195.3,427.6 195.7,427.9 196.1,427.2 196.5,428.4 196.8,427.2 197.2,427.7 197.6,427.4 198.0,426.9 198.4,427.3 198.7,426.4 199.1,427.5 199.5,426.6 199.9,427.0 200.2,428.3 200.6,426.9 201.0,428.1 201.4,427.8 201.7,427.9 202.1,428.5 202.5,429.2 202.9,427.7 203.3,429.3 203.6,428.6 204.0,428.2 204.4,427.9 204.8,428.0 205.1,427.5 205.5,427.3 205.9,428.4 206.3,428.2 206.7,428.3 207.0,428.3 207.4,428.6 207.8,428.9 208.2,428.0 208.5,427.9 208.9,428.5 209.3,428.3 209.7,427.3 210.0,427.7 210.4,427.6 210.8,428.1 211.2,428.4 211.6,428.4 211.9,427.6 212.3,428.4 212.7,427.7 213.1,428.4 213.4,427.7 213.8,427.0 214.2,426.9 214.6,427.6 214.9,427.6 215.3,428.4 215.7,427.3 216.1,428.5 216.5,428.0 216.8,428.9 217.2,428.6 217.6,427.8 218.0,428.1 218.3,428.2 218.7,428.4 219.1,428.0 219.5,428.7 219.9,427.7 220.2,426.8 220.6,428.0 221.0,427.5 221.4,427.9 221.7,428.0 222.1,427.9 222.5,428.0 222.9,427.5 223.2,427.5 223.6,427.4 224.0,427.6 224.4,428.1 224.8,426.3 225.1,427.5 225.5,427.1 225.9,427.2 226.3,426.6 226.6,426.8 227.0,427.5 227.4,427.8 227.8,427.2 228.2,427.7 228.5,427.9 228.9,427.7 229.3,427.7 229.7,429.4 230.0,429.2 230.4,428.4 230.8,428.5 231.2,427.6 231.5,427.2 231.9,426.9 232.3,425.9 232.7,427.5 233.1,427.2 233.4,427.5 233.8,427.7 234.2,427.7 234.6,427.2 234.9,428.5 235.3,429.7 235.7,428.7 236.1,427.8 236.5,427.4 236.8,427.6 237.2,427.5 237.6,426.7 238.0,427.5 238.3,427.2 238.7,428.2 239.1,428.0 239.5,427.9 239.8,428.4 240.2,429.1 240.6,429.4 241.0,429.3 241.4,429.6 241.7,430.2 242.1,428.1 242.5,427.2 242.9,428.0 243.2,427.6 243.6,428.3 244.0,427.6 244.4,428.4 244.8,428.7 245.1,428.8 245.5,427.8 245.9,427.7 246.3,428.1 246.6,428.2 247.0,427.3 247.4,427.3 247.8,427.7 248.1,427.1 248.5,426.6 248.9,427.5 249.3,426.0 249.7,426.2 250.0,426.5 250.4,425.8 250.8,426.6 251.2,425.8 251.5,426.8 251.9,426.8 252.3,427.5 252.7,426.4 253.1,426.2 253.4,426.1 253.8,426.6 254.2,425.3 254.6,425.7 254.9,426.2 255.3,425.3 255.7,425.0 256.1,423.9 256.4,424.0 256.8,421.4 257.2,420.0 257.6,418.3 258.0,417.1 258.3,413.9 258.7,410.2 259.1,407.1 259.5,403.6 259.8,399.9 260.2,394.4 260.6,392.1 261.0,390.0 261.2,389.0 261.4,389.0 261.7,391.3 262.1,394.4 262.5,398.8 262.9,402.6 263.2,406.2 263.6,411.7 264.0,413.8 264.4,416.5 264.7,419.3 265.1,421.2 265.5,422.2 265.9,422.2 266.3,423.8 266.6,424.6 267.0,425.1 267.4,425.1 267.8,426.0 268.1,426.6 268.5,427.3 268.9,425.4 269.3,426.9 269.6,427.1 270.0,427.6 270.4,427.5 270.8,427.4 271.2,428.3 271.5,428.3 271.9,427.8 272.3,427.7 272.7,429.0 273.0,428.4 273.4,429.7 273.8,430.1 274.2,429.5 274.6,429.2 274.9,428.5 275.3,429.1 275.7,428.7 276.1,428.2 276.4,428.5 276.8,428.2 277.2,428.0 277.6,428.7 277.9,428.2 278.3,427.6 278.7,427.4 279.1,429.0 279.5,428.2 279.8,427.8 280.2,428.5 280.6,428.9 281.0,427.7 281.3,428.8 281.7,428.2 282.1,427.6 282.5,427.6 282.9,428.5 283.2,429.5 283.6,428.0 284.0,428.9 284.4,429.1 284.7,427.6 285.1,428.4 285.5,429.3 285.9,429.1 286.2,430.1 286.6,429.1 287.0,429.3 287.4,429.6 287.8,429.6 288.1,429.0 288.5,429.7 288.9,428.2 289.3,428.9 289.6,429.4 290.0,427.3 290.4,428.3 290.8,427.0 291.2,427.3 291.5,427.3 291.9,427.0 292.3,428.2 292.7,428.2 293.0,429.0 293.4,428.3 293.8,427.4 294.2,428.7 294.5,427.8 294.9,427.9 295.3,429.2 295.7,428.7 296.1,428.7 296.4,428.8 296.8,428.2 297.2,429.0 297.6,428.4 297.9,429.1 298.3,429.2 298.7,430.2 299.1,429.6 299.5,430.3 299.8,429.7 300.2,428.7 300.6,429.2 301.0,429.5 301.3,430.1 301.7,429.6 302.1,430.4 302.5,429.4 302.8,429.7 303.2,429.0 303.6,428.3 304.0,428.8 304.4,427.3 304.7,427.4 305.1,427.4 305.5,428.0 305.9,428.1 306.2,428.8 306.6,429.4 307.0,430.4 307.4,428.4 307.8,428.7 308.1,429.9 308.5,428.5 308.9,428.0 309.3,427.9 309.6,427.7 310.0,428.1 310.4,429.0 310.8,427.4 311.1,427.9 311.5,428.8 311.9,428.5 312.3,428.5 312.7,428.1 313.0,428.7 313.4,427.6 313.8,428.9 314.2,428.3 314.5,428.1 314.9,427.9 315.3,428.5 315.7,428.4 316.1,428.2 316.4,428.5 316.8,428.4 317.2,429.5 317.6,429.7 317.9,429.4 318.3,429.0 318.7,428.9 319.1,427.9 319.4,428.3 319.8,428.3 320.2,428.3 320.6,428.7 321.0,428.0 321.3,427.9 321.7,429.4 322.1,428.6 322.5,429.2 322.8,428.3 323.2,428.6 323.6,429.2 324.0,429.4 324.3,428.2 324.7,428.8 325.1,428.9 325.5,428.4 325.9,428.7 326.2,429.0 326.6,428.3 327.0,427.7 327.4,428.3 327.7,428.0 328.1,428.5 328.5,429.0 328.9,429.3 329.3,429.5 329.6,430.2 330.0,430.0 330.4,430.7 330.8,430.6 331.1,430.6 331.5,430.2 331.9,430.3 332.3,430.3 332.6,430.1 333.0,430.0 333.4,430.4 333.8,429.8 334.2,430.3 334.5,429.1 334.9,429.8 335.3,430.6 335.7,430.5 336.0,429.5 336.4,430.5 336.8,430.3 337.2,429.6 337.6,429.3 337.9,429.9 338.3,429.7 338.7,430.6 339.1,430.6 339.4,430.6 339.8,430.7 340.2,428.1 340.6,429.1 340.9,429.1 341.3,428.3 341.7,428.5 342.1,428.6 342.5,429.7 342.8,429.5 343.2,430.1 343.6,429.7 344.0,429.1 344.3,428.8 344.7,428.4 345.1,428.5 345.5,429.0 345.9,428.6 346.2,427.9 346.6,427.6 347.0,428.6 347.4,428.5 347.7,428.4 348.1,427.8 348.5,427.9 348.9,427.9 349.2,427.5 349.6,428.1 350.0,427.5 350.4,427.8 350.8,427.4 351.1,428.3 351.5,429.8 351.9,428.9 352.3,430.0 352.6,429.6 353.0,429.6 353.4,429.4 353.8,429.3 354.2,429.9 354.5,429.1 354.9,429.3 355.3,430.5 355.7,428.9 356.0,428.5 356.4,429.4 356.8,428.7 357.2,428.2 357.5,427.9 357.9,428.8 358.3,428.5 358.7,428.3 359.1,428.5 359.4,428.9 359.8,428.2 360.2,428.6 360.6,428.6 360.9,427.6 361.3,428.6 361.7,427.5 362.1,427.6 362.5,426.9 362.8,426.8 363.2,426.3 363.6,425.5 364.0,427.0 364.3,427.0 364.7,427.1 365.1,426.0 365.5,425.9 365.8,425.3 366.2,423.6 366.6,423.2 367.0,422.8 367.4,422.6 367.7,421.8 367.9,421.6 368.1,422.0 368.5,422.9 368.9,422.6 369.2,423.8 369.6,424.1 370.0,423.0 370.4,424.1 370.8,423.5 371.1,423.7 371.5,422.9 371.9,422.4 372.3,422.2 372.6,421.8 373.0,421.5 373.4,421.0 373.8,418.4 374.1,418.3 374.5,417.5 374.9,415.2 375.3,413.6 375.7,410.6 376.0,407.9 376.4,405.6 376.8,402.8 377.2,398.5 377.5,393.2 377.9,387.2 378.3,378.0 378.7,365.4 379.0,341.2 379.4,303.3 379.8,238.6 380.2,138.9 380.6,1.1 380.9,-157.0 381.3,-291.6 381.6,-328.7 381.7,-325.1 382.1,-232.4 382.4,-76.1 382.8,75.7 383.2,193.0 383.6,276.1 384.0,325.4 384.3,354.1 384.7,372.3 385.1,383.0 385.5,390.5 385.8,397.2 386.2,402.2 386.6,405.8 387.0,407.4 387.3,410.6 387.7,413.1 388.1,415.7 388.5,417.0 388.9,417.5 389.2,418.2 389.6,419.8 390.0,420.2 390.4,421.0 390.7,422.1 391.1,422.7 391.5,422.5 391.9,422.9 392.3,423.3 392.6,425.0 393.0,425.4 393.4,424.2 393.8,424.9 394.1,424.9 394.5,425.8 394.9,425.5 395.3,425.9 395.6,427.1 396.0,426.9 396.4,426.6 396.8,427.0 397.2,426.5 397.5,427.0 397.9,426.6 398.3,426.6 398.7,427.6 399.0,426.5 399.4,426.7 399.8,426.6 400.2,426.6 400.6,427.9 400.9,428.2 401.3,427.5 401.7,429.9 402.1,429.4 402.4,428.2 402.8,428.7 403.2,428.4 403.6,427.7 403.9,427.0 404.3,427.7 404.7,427.9 405.1,428.9 405.5,428.5 405.8,428.6 406.2,429.1 406.6,429.4 407.0,430.0 407.3,429.1 407.7,430.0 408.1,429.4 408.5,428.1 408.9,429.3 409.2,428.3 409.6,428.7 410.0,427.7 410.4,429.0 410.7,429.1 411.1,428.9 411.5,430.2 411.9,427.7 412.2,428.6 412.6,428.0 413.0,428.3 413.4,428.5 413.8,428.6 414.1,428.4 414.5,428.5 414.9,429.4 415.3,428.6 415.6,428.7 416.0,428.5 416.4,428.9 416.8,427.1 417.2,426.9 417.5,427.4 417.9,426.7 418.3,425.7 418.7,426.3 419.0,425.4 419.4,424.4 419.8,423.6 420.2,423.3 420.5,422.3 420.9,422.5 420.9,421.9 421.3,421.6 421.7,421.5 422.1,423.8 422.4,423.6 422.8,425.5 423.2,425.7 423.6,424.5 423.9,426.6 424.3,426.3 424.7,426.1 425.1,427.8 425.4,427.6 425.8,428.6 426.2,429.5 426.6,429.5 427.0,429.3 427.3,429.2 427.7,429.2 428.1,428.6 428.5,428.8 428.8,429.1 429.2,429.3 429.6,428.8 430.0,429.5 430.4,430.1 430.7,429.5 431.1,430.8 431.5,430.5 431.9,431.0 432.2,430.6 432.6,430.2 433.0,429.8 433.4,431.3 433.7,431.1 434.1,430.2 434.5,429.7 434.9,430.3 435.3,430.8 435.6,430.5 436.0,429.8 436.4,431.4 436.8,429.9 437.1,429.0 437.5,429.9 437.9,429.7 438.3,429.6 438.7,429.6 439.0,428.9 439.4,429.3 439.8,428.8 440.2,429.5 440.5,429.4 440.9,430.0 441.3,430.1 441.7,430.0 442.0,431.2 442.4,429.4 442.8,429.9 443.2,429.9 443.6,429.7 443.9,429.3 444.3,428.2 444.7,428.9 445.1,429.3 445.4,429.0 445.8,429.4 446.2,429.2 446.6,429.3 447.0,429.4 447.3,430.5 447.7,431.3 448.1,431.3 448.5,429.9 448.8,430.9 449.2,431.1 449.6,430.9 450.0,430.9 450.3,430.5 450.7,430.8 451.1,429.9 451.5,431.8 451.9,430.8 452.2,431.3 452.6,430.1 453.0,429.7 453.4,431.0 453.7,429.7 454.1,430.4 454.5,431.3 454.9,431.6 455.3,430.7 455.6,430.9 456.0,430.3 456.4,430.5 456.8,429.5 457.1,430.5 457.5,430.8 457.9,430.0 458.3,429.7 458.6,430.7 459.0,429.8 459.4,429.2 459.8,429.8 460.2,429.8 460.5,428.8 460.9,428.8 461.3,429.9 461.7,429.5 462.0,429.6 462.4,429.8 462.8,428.1 463.2,427.6 463.6,428.9 463.9,428.4 464.3,427.5 464.7,427.5 465.1,426.5 465.4,425.3 465.8,424.8 466.2,423.9 466.6,423.0 466.9,420.8 467.3,419.5 467.7,417.4 468.1,414.1 468.5,411.2 468.8,409.1 469.2,405.5 469.6,404.3 470.0,404.8 470.0,405.4 470.3,405.2 470.7,405.6 471.1,407.2 471.5,410.4 471.9,413.3 472.2,416.2 472.6,418.1 473.0,420.3 473.4,421.6 473.7,422.8 474.1,424.4 474.5,424.8 474.9,425.5 475.2,426.0 475.6,427.0 476.0,426.1 476.4,427.4 476.8,427.4 477.1,428.7 477.5,429.1 477.9,429.2 478.3,430.7 478.6,429.2 479.0,429.6 479.4,429.4 479.8,429.3 480.1,430.7 480.5,429.3 480.9,431.1 481.3,430.8 481.7,430.2 482.0,429.8 482.4,430.1 482.8,429.8 483.2,431.0 483.5,429.6 483.9,429.7 484.3,430.1 484.7,428.8 485.1,430.7 485.4,429.5 485.8,429.9 486.2,429.8 486.6,429.2 486.9,430.1 487.3,430.0 487.7,429.1 488.1,429.8 488.4,429.7 488.8,430.6 489.2,429.8 489.6,430.1 490.0,430.8 490.3,430.6 490.7,430.2 491.1,431.2 491.5,431.4 491.8,430.3 492.2,432.0 492.6,431.2 493.0,431.5 493.4,431.0 493.7,429.1 494.1,428.5 494.5,429.0 494.9,428.3 495.2,429.9 495.6,428.4 496.0,429.2 496.4,428.2 496.7,429.9 497.1,429.7 497.5,428.2 497.9,428.7 498.3,428.2 498.6,428.8 499.0,426.1 499.4,426.3 499.8,425.7 500.1,423.9 500.5,422.8 500.9,420.2 501.3,418.8 501.7,414.9 502.0,410.4 502.4,406.6 502.8,400.3 503.2,395.0 503.5,388.7 503.9,383.8 504.3,379.9 504.5,378.9 504.7,379.9 505.0,382.9 505.4,389.1 505.8,394.2 506.2,401.7 506.6,406.7 506.9,412.0 507.3,415.5 507.7,419.0 508.1,421.0 508.4,424.0 508.8,424.6 509.2,425.6 509.6,426.2 510.0,426.2 510.3,427.7 510.7,426.7 511.1,428.0 511.5,429.0 511.8,429.8 512.2,429.3 512.6,429.9 513.0,430.1 513.3,429.9 513.7,430.0 514.1,429.4 514.5,430.1 514.9,429.6 515.2,429.6 515.6,430.0 516.0,430.5 516.4,430.0 516.7,429.9 517.1,430.4 517.5,430.8 517.9,430.2 518.3,431.1 518.6,431.9 519.0,430.9 519.4,431.1 519.8,430.5 520.1,430.4 520.5,430.8 520.9,431.1 521.3,431.0 521.6,430.4 522.0,431.2 522.4,430.9 522.8,432.4 523.2,431.6 523.5,432.5 523.9,430.9 524.3,431.3 524.7,432.3 525.0,431.6 525.4,432.6 525.8,432.1 526.2,432.3 526.6,430.6 526.9,431.3 527.3,430.8 527.7,431.4 528.1,430.6 528.4,430.9 528.8,430.8 529.2,430.6 529.6,431.7 529.9,431.5 530.3,431.6 530.7,431.0 531.1,431.3 531.5,431.1 531.8,431.1 532.2,431.3 532.6,430.7 533.0,431.7 533.3,430.8 533.7,431.3 534.1,432.3 534.5,431.2 534.8,431.2 535.2,432.1 535.6,431.3 536.0,430.4 536.4,430.3 536.7,431.1 537.1,429.9 537.5,429.9 537.9,430.8 538.2,430.5 538.6,430.6 539.0,430.2 539.4,430.7 539.8,430.1 540.1,430.4 540.5,430.8 540.9,431.3 541.3,431.7 541.6,431.5 542.0,430.4 542.4,431.0 542.8,431.8 543.1,432.5 543.5,432.2 543.9,432.2 544.3,432.5 544.7,432.4 545.0,432.3 545.4,431.2 545.8,430.7 546.2,431.2 546.5,430.7 546.9,431.0 547.3,430.7 547.7,431.3 548.1,431.2 548.4,431.3 548.8,431.7 549.2,431.2 549.6,430.6 549.9,431.1 550.3,430.6 550.7,430.3 551.1,430.3 551.4,430.0 551.8,431.9 552.2,431.3 552.6,431.5 553.0,430.9 553.3,431.2 553.7,431.4 554.1,430.7 554.5,431.4 554.8,431.4 555.2,430.7 555.6,430.5 556.0,431.3 556.4,430.4 556.7,429.1 557.1,429.2 557.5,429.6 557.9,430.0 558.2,430.4 558.6,430.5 559.0,431.6 559.4,431.0 559.7,430.9 560.1,430.1 560.5,429.5 560.9,430.6 561.3,430.5 561.6,430.7 562.0,429.8 562.4,430.2 562.8,429.2 563.1,428.1 563.5,428.9 563.9,428.2 564.3,427.5 564.7,426.8 565.0,426.0 565.4,425.0 565.8,423.9 566.2,422.0 566.5,419.6 566.9,416.0 567.3,412.6 567.7,407.8 568.0,400.3 568.4,392.0 568.8,381.8 569.2,370.5 569.6,364.7 569.9,360.5 569.9,360.5 570.3,363.7 570.7,371.3 571.1,381.5 571.4,391.0 571.8,398.4 572.2,406.7 572.6,411.7 573.0,416.7 573.3,420.7 573.7,421.7 574.1,424.4 574.5,425.6 574.8,426.2 575.2,427.4 575.6,427.1 576.0,427.4 576.3,427.5 576.7,428.5 577.1,428.8 577.5,428.2 577.9,429.4 578.2,430.4 578.6,429.2 579.0,429.7 579.4,428.5 579.7,429.8 580.1,429.3 580.5,429.8 580.9,430.4 581.2,429.4 581.6,430.2 582.0,430.9 582.4,430.7 582.8,431.2 583.1,430.6 583.5,431.0 583.9,430.3 584.3,430.2 584.6,431.4 585.0,430.7 585.4,430.6 585.8,430.5 586.2,429.4 586.5,430.9 586.9,430.4 587.3,430.5 587.7,430.2 588.0,431.3 588.4,431.1 588.8,431.3 589.2,432.1 589.5,432.3 589.9,431.8 590.3,432.1 590.7,431.5 591.1,430.8 591.4,431.0 591.8,431.0 592.2,431.9 592.6,430.9 592.9,431.7 593.3,432.6 593.7,431.6 594.1,431.5 594.5,432.3 594.8,432.0 595.2,432.5 595.6,432.0 596.0,432.1 596.3,431.3 596.7,430.9 597.1,429.8 597.5,430.9 597.8,432.2 598.2,431.5 598.6,432.0 599.0,432.1 599.4,430.9 599.7,431.7 600.1,432.0 600.5,432.8 600.9,433.3 601.2,431.7 601.6,432.0 602.0,431.8 602.4,431.0 602.8,432.2 603.1,432.4 603.5,431.0 603.9,431.8 604.3,431.0 604.6,432.0 605.0,431.9 605.4,431.1 605.8,431.4 606.1,432.3 606.5,431.2 606.9,431.6 607.3,430.3 607.7,430.5 608.0,431.5 608.4,431.0 608.8,431.1 609.2,430.8 609.5,431.3 609.9,430.7 610.3,431.4 610.7,432.0 611.1,431.5 611.4,431.0 611.8,431.1 612.2,431.8 612.6,431.0 612.9,432.6 613.3,432.0 613.7,431.9 614.1,431.8 614.4,431.7 614.8,432.8 615.2,431.4 615.6,430.9 616.0,431.9 616.3,431.4 616.7,432.6 617.1,432.1 617.5,431.6 617.8,432.1 618.2,431.7 618.6,431.3 619.0,431.6 619.4,431.2 619.7,431.6 620.1,431.4 620.5,431.9 620.9,431.7 621.2,432.4 621.6,432.0 622.0,432.7 622.4,431.6 622.7,431.9 623.1,431.8 623.5,430.9 623.9,431.5 624.3,430.7 624.6,430.3 625.0,430.1 625.4,430.8 625.8,431.1 626.1,431.3 626.5,431.4 626.9,431.6 627.3,432.1 627.7,431.0 628.0,431.4 628.4,430.8 628.8,431.5 629.2,430.4 629.5,430.0 629.9,430.5 630.3,430.8 630.7,429.8 631.0,430.4 631.4,429.4 631.8,430.4 632.2,429.5 632.6,429.0 632.9,429.2 633.3,429.8 633.7,429.6 634.1,428.0 634.4,428.0 634.8,427.3 635.2,427.4 635.6,425.8 635.9,424.7 636.3,422.0 636.7,421.3 637.1,417.4 637.5,413.5 637.8,408.3 638.2,401.1 638.6,394.3 639.0,384.6 639.3,377.7 639.7,371.1 640.1,370.0 640.1,369.6 640.5,371.8 640.9,377.6 641.2,386.8 641.6,395.1 642.0,402.3 642.4,410.1 642.7,415.3 643.1,418.9 643.5,420.3 643.9,423.0 644.2,424.8 644.6,425.2 645.0,425.3 645.4,427.0 645.8,426.9 646.1,427.8 646.5,428.3 646.9,429.0 647.3,428.4 647.6,429.8 648.0,429.5 648.4,430.6 648.8,430.4 649.2,430.9 649.5,431.0 649.9,430.1 650.3,430.7 650.7,430.5 651.0,431.1 651.4,430.5 651.8,430.2 652.2,430.2 652.5,430.4 652.9,432.0 653.3,432.9 653.7,431.7 654.1,431.8 654.4,430.5 654.8,432.0 655.2,430.9 655.6,431.2 655.9,431.4 656.3,431.9 656.7,432.8 657.1,432.5 657.5,432.2 657.8,431.7 658.2,431.5 658.6,431.8 659.0,432.4 659.3,430.6 659.7,431.8 660.1,432.8 660.5,432.3 660.8,431.5 661.2,431.7 661.6,432.5 662.0,431.8 662.4,432.2 662.7,432.8 663.1,432.5 663.5,432.3 663.9,432.8 664.2,432.5 664.6,432.0 665.0,431.4 665.4,432.9 665.8,433.2 666.1,432.2 666.5,432.2 666.9,432.5 667.3,432.6 667.6,433.3 668.0,432.3 668.4,432.3 668.8,432.8 669.1,432.6 669.5,432.9 669.9,432.9 670.3,432.5 670.7,433.8 671.0,433.2 671.4,433.0 671.8,433.5 672.2,432.1 672.5,432.1 672.9,432.0 673.3,431.2 673.7,431.4 674.1,431.4 674.4,432.3 674.8,431.3 675.2,431.9 675.6,431.8 675.9,432.6 676.3,431.6 676.7,432.1 677.1,432.4 677.4,432.7 677.8,433.1 678.2,431.6 678.6,432.8 679.0,432.6 679.3,432.3 679.7,432.9 680.1,432.0 680.5,431.9 680.8,432.8 681.2,431.0 681.6,433.1 682.0,431.6 682.4,433.4 682.7,432.0 683.1,432.9 683.5,432.8 683.9,432.2 684.2,432.7 684.6,432.2 685.0,433.2 685.4,432.8 685.7,431.4 686.1,431.0 686.5,433.0 686.9,431.1 687.3,432.2 687.6,432.2 688.0,432.3 688.4,432.2 688.8,433.9 689.1,433.0 689.5,431.9 689.9,432.3 690.3,432.0 690.6,433.0 691.0,431.8 691.4,431.4 691.8,433.0 692.2,433.1 692.5,433.3 692.9,433.2 693.3,432.0 693.7,432.4 694.0,432.8 694.4,433.2 694.8,433.2 695.2,433.0 695.6,432.3 695.9,432.2 696.3,432.1 696.7,431.8 697.1,430.8 697.4,432.6 697.8,430.8 698.2,430.9 698.6,431.3 698.9,431.0 699.3,432.1 699.7,432.0 700.1,432.3 700.5,431.3 700.8,431.2 701.2,431.7 701.6,431.5 702.0,431.9 702.3,432.3 702.7,431.9 703.1,431.6 703.5,432.2 703.9,431.9 704.2,431.5 704.6,430.9 705.0,431.0 705.4,431.9 705.7,430.5 706.1,430.2 706.5,430.7 706.9,430.6 707.2,430.5 707.6,430.2 708.0,430.4 708.4,430.7 708.8,430.1 709.1,429.6 709.5,429.8 709.9,429.5 710.3,428.6 710.6,427.5 711.0,427.5 711.4,426.4 711.8,426.6 712.2,424.9 712.5,423.4 712.9,422.1 713.3,419.3 713.7,416.6 714.0,412.5 714.4,409.1 714.8,406.5 715.2,402.6 715.5,400.6 715.9,399.6 715.9,400.6 716.3,401.9 716.7,401.3 717.1,404.4 717.4,406.1 717.8,409.6 718.2,409.6 718.6,411.9 718.9,413.7 719.3,413.7 719.7,413.4 720.1,410.4 720.5,408.2 720.8,403.8 721.2,399.4 721.6,391.7 722.0,384.0 722.3,375.9 722.7,371.0 723.1,368.3 723.1,368.1 723.5,370.3 723.8,377.6 724.2,385.7 724.6,393.1 725.0,400.6 725.4,408.1 725.7,412.7 726.1,416.4 726.5,420.1 726.9,422.4 727.2,423.8 727.6,425.1 728.0,426.5 728.4,427.0 728.8,427.8 729.1,428.7 729.5,429.4 729.9,429.6 730.3,428.7 730.6,428.5 731.0,429.1 731.4,429.8 731.8,430.3 732.1,429.7 732.5,430.3 732.9,430.1 733.3,428.8 733.7,428.9 734.0,428.6 734.4,428.7 734.8,428.0 735.2,427.5 735.5,427.4 735.9,427.1 736.3,426.5 736.7,425.9 737.1,425.2 737.4,424.1 737.8,423.0 738.2,420.6 738.6,417.2 738.9,413.1 739.3,407.1 739.7,399.1 740.1,390.1 740.4,379.2 740.8,369.8 741.2,361.6 741.6,358.0 741.6,358.4 742.0,361.9 742.3,370.3 742.7,380.5 743.1,391.2 743.5,400.3 743.8,406.5 744.2,412.0 744.6,416.3 745.0,420.2 745.3,421.7 745.7,423.6 746.1,425.8 746.5,426.9 746.9,427.5 747.2,428.6 747.6,429.6 748.0,429.8 748.4,429.6 748.7,429.7 749.1,430.6 749.5,430.8 749.9,429.8 750.3,429.9 750.6,430.3 751.0,431.1 751.4,431.2 751.8,431.6 752.1,432.7 752.5,432.5 752.9,431.8 753.3,432.7 753.6,432.3 754.0,433.2 754.4,431.9 754.8,432.6 755.2,432.9 755.5,432.9 755.9,432.5 756.3,433.2 756.7,433.1 757.0,431.8 757.4,432.1 757.8,432.0 758.2,432.2 758.6,431.2 758.9,432.0 759.3,431.6 759.7,431.9 760.1,430.9 760.4,432.3 760.8,432.3 761.2,431.4 761.6,432.1 761.9,432.4 762.3,433.3 762.7,431.6 763.1,432.4 763.5,432.1 763.8,433.0 764.2,432.1 764.6,432.3 765.0,432.7 765.3,433.2 765.7,433.1 766.1,432.9 766.5,433.1 766.9,434.2 767.2,434.1 767.6,433.3 768.0,433.6 768.4,433.9 768.7,434.0 769.1,433.9 769.5,432.4 769.9,433.2 770.2,432.8 770.6,433.0 771.0,432.6 771.4,432.8 771.8,433.2 772.1,432.4 772.5,433.5 772.9,432.2 773.3,433.3 773.6,432.6 774.0,433.2 774.4,432.4 774.8,432.4 775.2,433.3 775.5,433.7 775.9,432.6 776.3,433.3 776.7,434.2 777.0,433.8 777.4,434.0 777.8,433.1 778.2,433.7 778.5,433.4 778.9,433.5 779.3,432.6 779.7,432.4 780.1,431.3 780.4,432.1 780.8,431.8 781.2,432.0 781.6,430.9 781.9,430.6 782.3,430.4 782.7,429.4 783.1,428.8 783.5,428.2 783.8,428.5 784.2,427.6 784.6,426.4 785.0,426.0 785.3,426.0 785.4,425.6 785.7,425.8 786.1,425.3 786.5,425.4 786.8,427.0 787.2,428.6 787.6,428.4 788.0,428.8 788.4,430.1 788.7,430.9 789.1,430.3 789.5,431.5 789.9,432.7 790.2,431.4 790.6,432.2 791.0,431.9 791.4,431.5 791.7,431.5 792.1,432.9 792.5,432.8 792.9,432.3 793.3,433.2 793.6,432.4 794.0,433.1 794.4,433.4 794.8,432.7 795.1,432.9 795.5,433.2 795.9,433.4 796.3,433.6 796.7,433.7 797.0,433.5 797.4,432.9 797.8,434.1 798.2,433.2 798.5,434.1 798.9,434.5 799.3,434.8 799.7,434.8 800.0,433.5 800.4,434.8 800.8,434.2 801.2,434.6 801.6,435.2 801.9,434.6 802.3,434.6 802.7,433.6 803.1,433.6 803.4,433.9 803.8,435.2 804.2,435.7 804.6,434.9 805.0,434.8 805.3,435.0 805.7,434.9 806.1,434.7 806.5,434.7 806.8,432.9 807.2,432.4 807.6,433.6 808.0,434.0 808.3,434.2 808.7,434.8 809.1,433.9 809.5,434.6 809.9,433.4 810.2,433.9 810.6,432.9 811.0,432.7 811.4,432.5 811.7,433.4 812.1,433.4 812.5,433.5 812.9,432.5 813.3,433.2 813.6,434.1 814.0,433.7 814.4,433.4 814.8,433.6 815.1,433.4 815.5,433.4 815.9,432.1 816.3,434.0 816.6,434.1 817.0,433.7 817.4,433.9 817.8,433.9 818.2,435.1 818.5,433.6 818.9,433.4 819.3,434.0 819.7,433.8 820.0,434.0 820.4,435.1 820.8,434.0 821.2,435.0 821.6,433.8 821.9,434.2 822.3,434.5 822.7,434.1 823.1,432.8 823.4,433.6 823.8,434.4 824.2,435.6 824.6,434.7 824.9,434.4 825.3,434.9 825.7,435.1 826.1,436.1 826.5,435.4 826.8,434.2 827.2,434.4 827.6,434.9 828.0,433.9 828.3,434.4 828.7,434.4 829.1,434.4 829.5,433.5 829.9,433.7 830.2,433.8 830.6,434.4 831.0,434.8 831.4,434.1 831.7,435.1 832.1,434.4 832.5,433.4 832.9,433.7 833.2,434.2 833.6,434.2 834.0,433.1 834.4,432.6 834.8,433.0 835.1,433.1 835.5,433.5 835.9,433.0 836.3,433.6 836.6,434.1 837.0,433.7 837.4,433.0 837.8,433.8 838.2,433.8 838.5,434.3 838.9,433.6 839.3,434.1 839.7,433.9 840.0,433.7 840.4,433.4 840.8,434.1 841.2,434.2 841.5,433.9 841.9,433.7 842.3,434.2 842.7,433.8 843.1,433.4 843.4,433.9 843.8,433.2 844.2,434.1 844.6,433.3 844.9,433.0 845.3,432.9 845.7,432.6 846.1,432.3 846.4,433.1 846.8,432.6 847.2,432.4 847.6,433.0 848.0,431.5 848.3,432.9 848.7,432.6 849.1,432.5 849.5,432.8 849.8,432.4 850.2,431.7 850.6,431.8 851.0,430.6 851.4,431.1 851.7,430.7 852.1,431.6 852.5,430.9 852.5,430.5 852.9,430.2 853.2,431.1 853.6,431.8 854.0,431.3 854.4,431.8 854.7,433.5 855.1,433.5 855.5,433.2 855.9,434.6 856.3,434.3 856.6,433.9 857.0,434.2 857.4,434.6 857.8,434.3 858.1,434.3 858.5,434.8 858.9,434.2 859.3,434.7 859.7,434.7 860.0,435.2 860.4,435.0 860.8,435.2 861.2,435.2 861.5,435.3 861.9,434.5 862.3,435.0 862.7,434.6 863.0,435.7 863.4,435.3 863.8,434.8 864.2,435.0 864.6,434.4 864.9,435.7 865.3,434.9 865.7,435.3 866.1,435.4 866.4,435.0 866.8,436.1 867.2,435.3 867.6,434.7 868.0,434.4 868.3,435.0 868.7,434.3 869.1,433.9 869.5,435.0 869.8,434.4 870.2,434.6 870.6,434.4 871.0,435.1 871.3,433.9 871.7,434.0 872.1,435.7 872.5,435.0 872.9,435.2 873.2,435.2 873.6,435.5 874.0,433.9 874.4,433.8 874.7,433.2 875.1,434.7 875.5,434.4 875.9,434.3 876.3,435.1 876.6,433.8 877.0,433.4 877.4,433.7 877.8,434.5 878.1,433.4 878.5,433.7 878.9,433.7 879.3,433.0 879.6,433.2 880.0,433.4 880.4,434.1 880.8,433.2 881.2,434.3 881.5,433.6 881.9,434.0 882.3,433.1 882.7,433.9 883.0,432.4 883.4,434.8 883.8,433.9 884.2,432.6 884.6,433.0 884.9,433.2 885.3,433.0 885.7,432.3 886.1,432.9 886.4,432.2 886.8,431.8 887.2,432.0 887.6,432.1 887.9,431.3 888.3,431.6 888.7,432.3 889.1,431.3 889.5,430.5 889.8,431.0 890.2,430.1 890.6,428.3 891.0,427.5 891.3,428.3 891.7,427.9 892.1,426.8 892.5,426.1 892.9,425.0 893.2,425.1 893.6,423.8 893.6,424.8 894.0,425.0 894.4,425.0 894.7,425.8 895.1,426.5 895.5,427.7 895.9,427.3 896.2,428.6 896.6,427.8 897.0,429.5 897.4,429.6 897.8,430.5 898.1,431.4 898.5,431.7 898.9,432.5 899.3,432.3 899.6,431.9 900.0,432.1 900.4,432.0 900.8,430.2 901.1,431.0 901.5,430.4 901.9,431.6 902.3,431.5 902.7,431.3 903.0,431.6 903.4,431.4 903.8,430.5 904.2,428.9 904.5,430.6 904.9,429.1 905.3,427.1 905.7,427.6 906.1,425.6 906.4,423.7 906.8,422.7 907.2,419.6 907.6,416.8 907.9,414.7 908.3,411.3 908.7,409.7 909.1,406.9 909.4,406.2 909.6,407.1 909.8,407.1 910.2,406.9 910.6,408.1 911.0,410.9 911.3,413.1 911.7,417.2 912.1,419.5 912.5,420.8 912.8,424.0 913.2,426.0 913.6,428.2 914.0,428.3 914.4,429.4 914.7,429.5 915.1,429.9 915.5,431.1 915.9,429.8 916.2,431.1 916.6,431.7 917.0,430.5 917.4,431.3 917.7,432.7 918.1,432.2 918.5,432.7 918.9,432.6 919.3,433.3 919.6,433.3 920.0,432.5 920.4,432.5 920.8,433.3 921.1,432.2 921.5,432.2 921.9,432.1 922.3,431.6 922.7,430.6 923.0,430.5 923.4,430.8 923.6,429.5 923.8,429.1 924.2,430.7 924.5,431.6 924.9,432.2 925.3,432.3 925.7,432.4 926.0,433.7 926.4,433.2 926.8,432.9 927.2,433.3 927.6,433.2 927.9,433.0 928.3,433.2 928.7,433.3 929.1,433.7 929.4,434.6 929.8,433.5 930.2,434.0 930.6,434.3 931.0,434.6 931.3,433.4 931.7,434.0 932.1,433.8 932.5,434.3 932.8,433.9 933.2,433.7 933.6,433.5 934.0,434.1 934.3,433.4 934.7,434.7 935.1,434.4 935.5,434.5 935.9,434.2 936.2,435.3 936.6,434.2 937.0,434.2 937.4,435.0 937.7,434.2 938.1,434.0 938.5,434.9 938.9,434.3 939.3,434.7 939.6,434.5 940.0,433.4 940.4,433.3 940.8,433.6 941.1,433.7 941.5,434.5 941.9,434.2 942.3,434.9 942.6,434.3 943.0,434.6 943.4,434.8 943.8,434.1 944.2,434.5 944.5,433.9 944.9,433.9 945.3,434.6 945.7,433.9 946.0,434.0 946.4,433.8 946.8,433.9 947.2,433.6 947.2,433.6 947.6,434.0 947.9,433.9 948.3,434.5 948.7,434.0 949.1,434.8 949.4,434.4 949.8,433.2 950.2,434.6 950.6,435.3 950.9,434.8 951.3,434.2 951.7,434.5 952.1,434.7 952.5,433.9 952.8,434.0 953.2,433.8 953.6,433.6 954.0,434.3 954.3,434.8 954.7,435.0 955.1,436.2 955.5,435.5 955.8,435.9 956.2,435.6 956.6,435.2 957.0,434.7 957.4,434.6 957.7,435.1 958.1,434.6 958.5,436.0"/>
<polyline fill="#fff" stroke="#000000" stroke-width="4.4" stroke-linejoin="round" stroke-linecap="round" points="96.5,494.3 96.8,495.1 97.2,494.5 97.6,493.6 98.0,493.9 98.3,494.9 98.7,494.8 99.1,495.5 99.5,493.9 99.9,495.9 100.2,495.6 100.6,493.6 101.0,494.1 101.4,493.8 101.7,493.8 102.1,494.8 102.5,494.5 102.9,494.8 103.3,495.8 103.6,496.3 104.0,495.2 104.4,495.3 104.8,494.4 105.1,495.2 105.5,495.5 105.9,494.6 106.3,494.6 106.6,493.7 107.0,494.7 107.4,493.3 107.8,494.2 108.2,494.5 108.5,494.2 108.9,493.7 109.3,493.9 109.7,494.0 110.0,494.3 110.4,494.3 110.8,494.0 111.2,492.8 111.6,494.2 111.9,493.7 112.3,493.6 112.7,493.9 113.1,494.1 113.4,492.5 113.8,494.2 114.2,493.7 114.6,493.1 114.9,493.8 115.3,493.5 115.7,493.5 116.1,492.8 116.5,492.7 116.8,492.6 117.2,493.4 117.6,493.4 118.0,493.3 118.3,494.1 118.7,493.7 119.1,493.8 119.5,494.3 119.9,493.2 120.2,492.7 120.6,492.8 121.0,493.8 121.4,493.7 121.7,493.6 122.1,493.4 122.5,493.4 122.9,492.2 123.2,493.1 123.6,491.8 124.0,492.5 124.4,492.8 124.8,492.5 125.1,492.1 125.5,492.8 125.9,492.1 126.3,493.2 126.6,494.0 127.0,493.9 127.4,492.2 127.8,493.2 128.2,493.1 128.5,492.1 128.9,492.1 129.3,492.6 129.7,493.3 130.0,492.4 130.4,490.8 130.8,491.0 131.2,490.5 131.5,489.3 131.9,488.4 132.3,488.1 132.7,485.7 133.1,486.0 133.4,483.9 133.8,483.4 134.2,482.7 134.6,481.1 134.9,480.4 135.1,480.2 135.3,481.2 135.7,480.5 136.1,481.6 136.4,484.2 136.8,485.8 137.2,486.9 137.6,487.8 138.0,489.5 138.3,489.8 138.7,491.6 139.1,492.1 139.5,493.0 139.8,492.1 140.2,492.3 140.6,492.4 141.0,492.4 141.4,492.8 141.7,493.3 142.1,492.2 142.5,493.3 142.9,494.2 143.2,493.6 143.6,494.2 144.0,494.1 144.4,493.8 144.7,493.8 145.1,494.4 145.5,494.3 145.9,494.2 146.3,494.0 146.6,494.1 147.0,494.8 147.4,494.0 147.8,493.0 148.1,493.9 148.5,494.9 148.9,495.1 149.3,493.0 149.7,493.8 150.0,493.6 150.4,492.3 150.8,493.9 151.2,494.6 151.5,493.8 151.9,494.4 152.3,495.0 152.7,494.5 153.0,494.8 153.4,495.3 153.8,494.8 154.2,495.7 154.6,494.7 154.9,495.2 155.3,495.6 155.7,496.2 156.1,494.8 156.4,495.2 156.8,495.4 157.2,494.3 157.6,494.9 158.0,494.8 158.3,495.3 158.7,495.8 159.1,494.4 159.5,494.4 159.8,494.2 160.2,493.9 160.6,493.9 161.0,494.3 161.3,493.1 161.7,493.1 162.1,492.1 162.5,492.7 162.9,493.4 163.2,492.7 163.6,494.1 164.0,495.2 164.4,493.7 164.7,493.4 165.1,494.1 165.5,493.6 165.9,493.5 166.3,493.0 166.6,494.5 167.0,494.4 167.4,494.3 167.8,493.3 168.1,494.0 168.5,494.4 168.9,494.4 169.3,493.3 169.6,494.0 170.0,494.5 170.4,493.9 170.8,494.5 171.2,494.1 171.5,494.0 171.9,494.5 172.3,494.9 172.7,494.7 173.0,494.6 173.4,495.1 173.8,495.2 174.2,495.0 174.6,494.2 174.9,493.5 175.3,493.9 175.7,495.4 176.1,495.0 176.4,493.9 176.8,495.0 177.2,494.1 177.6,494.8 177.9,495.1 178.3,494.3 178.7,494.9 179.1,495.1 179.5,493.8 179.8,494.3 180.2,494.6 180.6,494.1 181.0,493.5 181.3,494.7 181.7,494.2 182.1,494.0 182.5,494.0 182.8,494.8 183.2,495.3 183.6,494.9 184.0,495.4 184.4,495.1 184.7,495.0 185.1,495.2 185.5,495.3 185.9,494.6 186.2,493.9 186.6,495.2 187.0,495.9 187.4,495.6 187.8,494.8 188.1,495.2 188.5,495.1 188.9,494.7 189.3,494.2 189.6,494.0 190.0,494.5 190.4,493.7 190.8,494.5 191.1,494.3 191.5,495.5 191.9,495.8 192.3,495.2 192.7,495.2 193.0,495.3 193.4,494.9 193.8,495.2 194.2,495.4 194.5,495.2 194.9,495.8 195.3,495.7 195.7,495.4 196.1,495.9 196.4,495.9 196.8,495.9 197.2,495.2 197.6,495.9 197.9,494.7 198.3,494.8 198.7,495.5 199.1,495.3 199.4,494.9 199.8,494.7 200.2,494.9 200.6,494.9 201.0,496.0 201.3,494.4 201.7,494.2 202.1,495.7 202.5,494.1 202.8,494.4 203.2,495.1 203.6,494.5 204.0,494.8 204.4,495.4 204.7,496.0 205.1,495.5 205.5,495.3 205.9,494.9 206.2,495.0 206.6,494.9 207.0,495.0 207.4,494.4 207.7,495.3 208.1,495.5 208.5,495.2 208.9,495.8 209.3,496.3 209.6,496.3 210.0,496.2 210.4,496.4 210.8,495.4 211.1,496.4 211.5,495.6 211.9,495.5 212.3,496.2 212.7,495.6 213.0,494.6 213.4,495.8 213.8,496.4 214.2,495.0 214.5,494.9 214.9,495.9 215.3,494.3 215.7,495.5 216.0,494.0 216.4,494.5 216.8,494.7 217.2,494.2 217.6,494.4 217.9,494.5 218.3,493.8 218.7,494.0 219.1,493.2 219.4,493.9 219.8,494.7 220.2,493.4 220.6,495.1 221.0,493.8 221.3,492.7 221.7,493.1 222.1,493.2 222.5,491.9 222.8,491.3 223.2,490.5 223.6,490.4 224.0,488.8 224.3,489.0 224.7,488.7 225.1,486.8 225.5,485.6 225.9,483.7 226.2,480.7 226.6,477.1 227.0,473.4 227.4,468.4 227.7,463.9 228.1,458.8 228.5,455.5 228.9,453.8 229.1,452.6 229.3,452.4 229.6,455.6 230.0,459.1 230.4,464.1 230.8,468.9 231.1,473.7 231.5,479.3 231.9,483.0 232.3,485.2 232.6,485.9 233.0,487.6 233.4,489.4 233.8,489.7 234.2,490.7 234.5,491.4 234.9,492.4 235.3,492.6 235.7,492.7 236.0,493.5 236.4,493.8 236.8,494.3 237.2,493.8 237.5,494.4 237.9,494.5 238.3,493.4 238.7,494.5 239.1,493.9 239.4,494.7 239.8,494.5 240.2,493.9 240.6,494.8 240.9,494.8 241.3,494.3 241.7,493.9 242.1,495.9 242.5,494.4 242.8,494.3 243.2,494.2 243.6,494.4 244.0,495.0 244.3,494.9 244.7,494.3 245.1,494.9 245.5,495.6 245.8,495.5 246.2,496.0 246.6,495.7 247.0,496.4 247.4,495.9 247.7,497.1 248.1,495.6 248.5,495.4 248.9,495.4 249.2,495.1 249.6,495.6 250.0,494.6 250.4,495.5 250.8,496.6 251.1,496.8 251.5,495.9 251.9,496.4 252.3,496.4 252.6,496.4 253.0,496.4 253.4,497.0 253.8,496.7 254.1,496.7 254.5,496.8 254.9,496.1 255.3,495.9 255.7,497.8 256.0,496.1 256.4,497.0 256.8,496.9 257.2,496.2 257.5,496.0 257.9,495.9 258.3,495.9 258.7,496.2 259.1,496.1 259.4,496.0 259.8,496.1 260.2,496.3 260.6,495.7 260.9,495.6 261.3,496.4 261.7,494.9 262.1,495.2 262.4,494.5 262.8,494.5 263.2,495.0 263.6,495.4 264.0,493.7 264.3,495.3 264.7,495.2 265.1,495.0 265.5,495.8 265.8,495.1 266.2,495.9 266.6,495.3 267.0,495.9 267.4,495.7 267.7,495.7 268.1,494.7 268.5,496.0 268.9,496.1 269.2,496.2 269.6,495.7 270.0,496.4 270.4,495.9 270.7,496.4 271.1,495.9 271.5,495.7 271.9,495.7 272.3,496.8 272.6,496.5 273.0,495.9 273.4,495.7 273.8,496.0 274.1,495.4 274.5,497.0 274.9,495.8 275.3,495.5 275.7,496.0 276.0,495.4 276.4,495.8 276.8,496.1 277.2,495.6 277.5,496.0 277.9,495.7 278.3,495.4 278.7,495.5 279.0,496.7 279.4,495.4 279.8,494.7 280.2,495.0 280.6,495.1 280.9,495.6 281.3,495.3 281.7,495.8 282.1,495.8 282.4,495.3 282.8,495.1 283.2,495.7 283.6,494.9 284.0,494.8 284.3,494.2 284.7,495.2 285.1,494.4 285.5,495.0 285.8,495.8 286.2,494.3 286.6,494.6 287.0,494.4 287.3,494.0 287.7,494.9 288.1,493.9 288.5,495.2 288.9,495.3 289.2,495.8 289.6,494.8 290.0,495.2 290.4,496.5 290.7,494.9 291.1,495.8 291.5,496.3 291.9,495.2 292.2,495.3 292.6,496.1 293.0,495.4 293.4,496.3 293.8,496.2 294.1,495.9 294.5,496.0 294.9,496.2 295.3,496.1 295.6,496.9 296.0,497.3 296.4,496.4 296.8,496.0 297.2,494.9 297.5,495.2 297.9,494.7 298.3,495.2 298.7,496.6 299.0,496.7 299.4,496.5 299.8,496.0 300.2,495.5 300.5,496.4 300.9,495.4 301.3,496.5 301.7,496.0 302.1,495.0 302.4,496.2 302.8,496.2 303.2,495.2 303.6,495.8 303.9,494.6 304.3,494.8 304.7,494.7 305.1,494.9 305.5,494.7 305.8,495.5 306.2,495.0 306.6,495.6 307.0,495.3 307.3,495.5 307.7,495.2 308.1,495.3 308.5,494.7 308.8,494.6 309.2,495.3 309.6,496.0 310.0,495.0 310.4,495.8 310.7,496.3 311.1,495.3 311.5,495.7 311.9,495.5 312.2,494.6 312.6,495.3 313.0,495.3 313.4,494.9 313.8,495.5 314.1,494.8 314.5,496.0 314.9,495.8 315.3,496.3 315.6,496.3 316.0,496.2 316.4,497.4 316.8,495.7 317.1,495.5 317.5,496.0 317.9,496.3 318.3,495.7 318.7,496.6 319.0,495.5 319.4,495.5 319.8,494.9 320.2,494.8 320.5,495.0 320.9,495.1 321.3,495.4 321.7,496.3 322.1,496.6 322.4,496.0 322.8,496.4 323.2,495.6 323.6,495.7 323.9,495.1 324.3,495.2 324.7,494.9 325.1,495.6 325.4,495.6 325.8,495.5 326.2,494.6 326.6,496.3 327.0,494.9 327.3,494.5 327.7,496.7 328.1,495.3 328.5,496.0 328.8,495.7 329.2,496.3 329.6,495.8 330.0,493.9 330.4,495.3 330.7,494.8 331.1,495.5 331.5,495.9 331.9,495.6 332.2,494.8 332.6,495.2 333.0,495.1 333.4,495.2 333.7,495.2 334.1,494.1 334.5,493.5 334.9,493.7 335.3,492.2 335.6,492.6 335.8,492.2 336.0,492.3 336.4,491.7 336.8,491.6 337.1,491.9 337.5,490.6 337.9,490.8 338.3,491.3 338.7,490.8 339.0,491.4 339.4,490.6 339.8,490.8 340.2,489.4 340.5,487.8 340.9,487.7 341.3,487.9 341.7,485.9 342.0,485.1 342.4,484.1 342.8,483.7 343.2,482.7 343.6,481.0 343.9,479.0 344.3,476.4 344.7,474.8 345.1,471.6 345.4,468.4 345.8,463.8 346.2,457.8 346.6,448.1 346.9,432.6 347.3,407.2 347.7,365.2 348.1,302.9 348.5,219.2 348.8,126.9 349.2,52.7 349.5,33.4 349.6,36.1 350.0,86.3 350.3,174.7 350.7,263.8 351.1,336.3 351.5,388.7 351.9,421.8 352.2,441.9 352.6,454.2 353.0,460.9 353.4,466.1 353.7,470.4 354.1,474.4 354.5,475.8 354.9,478.8 355.2,480.7 355.6,481.3 356.0,482.5 356.4,484.1 356.8,485.0 357.1,487.7 357.5,487.8 357.9,489.0 358.3,489.0 358.6,489.9 359.0,490.2 359.4,491.4 359.8,490.6 360.2,492.3 360.5,492.3 360.9,492.5 361.3,492.2 361.7,493.3 362.0,493.7 362.4,494.2 362.8,493.9 363.2,494.3 363.5,495.1 363.9,494.9 364.3,494.6 364.7,495.2 365.1,495.3 365.4,495.2 365.8,495.0 366.2,495.8 366.6,495.3 366.9,494.3 367.3,496.1 367.7,496.3 368.1,496.6 368.5,496.6 368.8,495.1 369.2,495.5 369.6,496.5 370.0,496.6 370.3,496.5 370.7,496.0 371.1,496.8 371.5,497.3 371.8,498.2 372.2,498.6 372.6,496.3 373.0,497.1 373.4,496.2 373.7,497.1 374.1,496.4 374.5,496.5 374.9,496.4 375.2,495.8 375.6,495.9 376.0,495.9 376.4,496.7 376.8,497.6 377.1,497.5 377.5,497.1 377.9,498.2 378.3,497.5 378.6,497.4 379.0,497.1 379.4,496.2 379.8,496.1 380.1,496.3 380.5,496.6 380.9,496.4 381.3,495.8 381.7,496.1 382.0,495.2 382.4,496.6 382.8,495.7 383.2,495.7 383.5,496.2 383.9,496.1 384.3,495.7 384.7,496.7 385.1,494.9 385.4,495.0 385.8,493.9 386.2,493.8 386.6,492.8 386.9,491.7 387.3,490.9 387.7,491.1 388.1,489.7 388.4,489.5 388.8,488.9 388.8,489.7 389.2,489.7 389.6,490.1 390.0,491.9 390.3,491.9 390.7,493.0 391.1,493.5 391.5,494.4 391.8,493.6 392.2,494.6 392.6,494.8 393.0,495.3 393.3,495.2 393.7,494.5 394.1,495.8 394.5,497.0 394.9,496.7 395.2,496.2 395.6,496.3 396.0,497.4 396.4,496.9 396.7,496.6 397.1,497.1 397.5,497.7 397.9,497.6 398.3,497.7 398.6,496.9 399.0,497.2 399.4,498.1 399.8,498.0 400.1,497.3 400.5,497.4 400.9,497.6 401.3,498.7 401.6,496.8 402.0,497.3 402.4,498.8 402.8,497.2 403.2,497.8 403.5,497.2 403.9,498.2 404.3,497.1 404.7,497.6 405.0,497.9 405.4,497.3 405.8,496.8 406.2,496.8 406.6,497.3 406.9,497.2 407.3,497.4 407.7,496.9 408.1,498.0 408.4,498.0 408.8,497.8 409.2,497.6 409.6,497.6 409.9,497.2 410.3,497.9 410.7,498.1 411.1,499.1 411.5,498.1 411.8,497.0 412.2,497.8 412.6,497.1 413.0,498.9 413.3,498.8 413.7,498.4 414.1,498.5 414.5,499.2 414.9,498.7 415.2,498.4 415.6,498.5 416.0,497.8 416.4,498.4 416.7,499.4 417.1,498.6 417.5,498.0 417.9,498.1 418.2,498.7 418.6,498.8 419.0,497.9 419.4,497.8 419.8,499.0 420.1,498.8 420.5,498.8 420.9,499.7 421.3,499.4 421.6,497.6 422.0,498.3 422.4,499.1 422.8,498.2 423.2,497.9 423.5,498.5 423.9,498.6 424.3,498.5 424.7,498.4 425.0,498.2 425.4,498.0 425.8,498.1 426.2,498.2 426.5,496.5 426.9,498.0 427.3,496.4 427.7,496.7 428.1,497.4 428.4,497.3 428.8,496.9 429.2,496.1 429.6,496.2 429.9,495.7 430.3,495.7 430.7,496.5 431.1,494.8 431.5,496.1 431.8,496.1 432.2,495.4 432.6,496.1 433.0,495.9 433.3,494.2 433.7,493.3 434.1,493.1 434.5,492.2 434.8,491.8 435.2,489.6 435.6,489.0 436.0,486.5 436.4,484.8 436.7,483.5 437.1,481.9 437.5,481.2 437.9,479.5 437.9,481.3 438.2,481.4 438.6,482.8 439.0,484.2 439.4,486.2 439.8,487.3 440.1,488.8 440.5,491.0 440.9,492.2 441.3,493.0 441.6,493.5 442.0,494.0 442.4,494.4 442.8,494.6 443.1,495.9 443.5,495.9 443.9,496.7 444.3,496.2 444.7,497.7 445.0,497.5 445.4,498.3 445.8,498.2 446.2,498.2 446.5,497.6 446.9,497.3 447.3,497.3 447.7,497.4 448.0,497.2 448.4,497.8 448.8,497.8 449.2,497.7 449.6,498.6 449.9,498.1 450.3,497.3 450.7,498.2 451.1,498.6 451.4,498.6 451.8,499.4 452.2,498.6 452.6,498.7 453.0,498.3 453.3,498.6 453.7,498.1 454.1,497.7 454.5,497.8 454.8,498.1 455.2,498.2 455.6,498.2 456.0,497.8 456.3,499.2 456.7,498.2 457.1,499.7 457.5,498.3 457.9,498.8 458.2,498.1 458.6,498.5 459.0,498.0 459.4,498.1 459.7,497.6 460.1,497.9 460.5,497.5 460.9,498.6 461.3,497.6 461.6,498.6 462.0,497.2 462.4,496.4 462.8,497.5 463.1,497.0 463.5,495.7 463.9,496.1 464.3,495.9 464.6,496.2 465.0,495.1 465.4,495.2 465.8,496.0 466.2,495.6 466.5,493.9 466.9,494.0 467.3,493.2 467.7,493.7 468.0,491.7 468.4,490.6 468.8,488.8 469.2,486.2 469.6,483.1 469.9,477.5 470.3,472.7 470.7,467.1 471.1,460.7 471.4,453.6 471.8,446.9 472.2,442.8 472.4,442.5 472.6,441.6 472.9,446.4 473.3,451.8 473.7,459.0 474.1,466.3 474.5,472.4 474.8,478.6 475.2,482.4 475.6,485.4 476.0,488.3 476.3,488.5 476.7,491.2 477.1,493.1 477.5,493.5 477.9,493.1 478.2,495.3 478.6,495.9 479.0,495.5 479.4,495.4 479.7,496.4 480.1,496.1 480.5,496.1 480.9,496.0 481.2,497.2 481.6,496.5 482.0,496.7 482.4,496.6 482.8,498.3 483.1,497.8 483.5,498.1 483.9,498.9 484.3,498.5 484.6,499.2 485.0,499.2 485.4,498.4 485.8,498.2 486.2,498.5 486.5,498.0 486.9,498.4 487.3,499.0 487.7,498.5 488.0,499.4 488.4,499.4 488.8,499.3 489.2,499.1 489.5,499.8 489.9,499.1 490.3,498.8 490.7,499.8 491.1,499.3 491.4,499.7 491.8,499.5 492.2,499.9 492.6,500.0 492.9,500.0 493.3,498.8 493.7,498.5 494.1,500.0 494.5,500.0 494.8,499.0 495.2,498.9 495.6,498.7 496.0,499.8 496.3,498.8 496.7,499.8 497.1,499.4 497.5,498.9 497.8,499.1 498.2,499.1 498.6,499.3 499.0,500.0 499.4,500.1 499.7,499.0 500.1,499.4 500.5,499.9 500.9,500.6 501.2,500.8 501.6,499.6 502.0,500.7 502.4,501.2 502.7,500.5 503.1,500.3 503.5,499.4 503.9,500.8 504.3,500.3 504.6,499.8 505.0,499.9 505.4,500.2 505.8,500.3 506.1,499.8 506.5,499.0 506.9,500.0 507.3,499.2 507.7,499.9 508.0,500.0 508.4,499.4 508.8,500.6 509.2,499.1 509.5,500.6 509.9,499.2 510.3,499.6 510.7,499.8 511.0,499.9 511.4,499.1 511.8,500.4 512.2,499.6 512.6,500.3 512.9,500.2 513.3,499.9 513.7,499.6 514.1,500.1 514.4,499.9 514.8,499.6 515.2,499.8 515.6,500.0 516.0,500.1 516.3,500.0 516.7,500.1 517.1,499.3 517.5,499.1 517.8,500.2 518.2,499.7 518.6,499.0 519.0,499.7 519.3,499.6 519.7,498.2 520.1,497.8 520.5,499.0 520.9,498.8 521.2,499.4 521.6,498.2 522.0,499.3 522.4,499.5 522.7,499.0 523.1,500.8 523.5,499.4 523.9,499.7 524.3,498.8 524.6,499.1 525.0,498.8 525.4,498.5 525.8,499.1 526.1,497.8 526.5,498.6 526.9,498.1 527.3,498.3 527.6,498.2 528.0,498.7 528.4,497.6 528.8,497.2 529.2,497.0 529.5,497.2 529.9,497.0 530.3,496.2 530.7,496.3 531.0,496.2 531.4,497.0 531.8,496.7 532.2,496.2 532.6,494.9 532.9,494.3 533.3,493.4 533.7,492.7 534.1,489.8 534.4,486.4 534.8,484.4 535.2,480.5 535.6,474.9 535.9,464.9 536.3,456.8 536.7,446.5 537.1,435.0 537.5,426.4 537.8,423.5 537.8,423.2 538.2,426.8 538.6,434.1 539.0,446.0 539.3,455.6 539.7,464.9 540.1,474.1 540.5,479.6 540.9,484.7 541.2,487.7 541.6,489.8 542.0,491.6 542.4,493.4 542.7,493.3 543.1,494.8 543.5,495.8 543.9,496.2 544.2,496.7 544.6,496.6 545.0,497.7 545.4,498.4 545.8,497.5 546.1,498.3 546.5,498.0 546.9,497.7 547.3,498.3 547.6,498.0 548.0,498.8 548.4,499.0 548.8,497.9 549.1,498.9 549.5,499.5 549.9,500.1 550.3,499.3 550.7,499.9 551.0,499.4 551.4,500.0 551.8,499.1 552.2,499.2 552.5,497.4 552.9,498.3 553.3,498.4 553.7,498.5 554.1,498.9 554.4,499.6 554.8,499.3 555.2,500.0 555.6,498.9 555.9,500.0 556.3,498.4 556.7,498.5 557.1,499.4 557.4,498.9 557.8,498.4 558.2,499.1 558.6,499.1 559.0,499.7 559.3,499.0 559.7,499.6 560.1,498.7 560.5,499.1 560.8,500.4 561.2,499.4 561.6,498.9 562.0,499.5 562.4,499.5 562.7,500.6 563.1,499.8 563.5,501.2 563.9,501.3 564.2,500.8 564.6,501.4 565.0,500.0 565.4,501.5 565.7,501.0 566.1,501.4 566.5,500.5 566.9,500.9 567.3,500.7 567.6,501.5 568.0,500.4 568.4,501.8 568.8,500.6 569.1,501.1 569.5,500.2 569.9,500.2 570.3,500.0 570.7,500.5 571.0,500.4 571.4,499.7 571.8,499.7 572.2,500.0 572.5,499.3 572.9,499.7 573.3,499.0 573.7,500.0 574.0,499.8 574.4,500.1 574.8,500.0 575.2,500.9 575.6,500.3 575.9,501.1 576.3,499.9 576.7,500.4 577.1,499.8 577.4,500.2 577.8,500.0 578.2,500.2 578.6,499.7 579.0,500.4 579.3,499.7 579.7,499.9 580.1,501.0 580.5,499.6 580.8,500.2 581.2,499.6 581.6,499.9 582.0,500.2 582.3,498.5 582.7,499.8 583.1,500.3 583.5,499.2 583.9,499.7 584.2,500.0 584.6,499.9 585.0,500.8 585.4,500.1 585.7,500.5 586.1,500.4 586.5,499.2 586.9,499.5 587.3,499.9 587.6,500.4 588.0,500.0 588.4,500.0 588.8,498.9 589.1,501.0 589.5,500.1 589.9,500.4 590.3,500.3 590.6,500.0 591.0,499.2 591.4,498.9 591.8,499.9 592.2,498.4 592.5,499.8 592.9,500.3 593.3,499.2 593.7,498.9 594.0,499.5 594.4,499.2 594.8,499.1 595.2,500.9 595.6,499.2 595.9,500.1 596.3,500.8 596.7,499.8 597.1,499.1 597.4,499.8 597.8,498.4 598.2,499.1 598.6,497.6 598.9,498.2 599.3,496.9 599.7,497.2 600.1,497.0 600.5,497.8 600.8,497.9 601.2,497.2 601.6,496.2 602.0,495.2 602.3,494.3 602.7,495.5 603.1,495.0 603.5,494.4 603.8,493.8 604.2,491.9 604.6,489.9 605.0,486.3 605.4,482.6 605.7,476.3 606.1,469.6 606.5,461.4 606.9,453.3 607.2,445.5 607.6,437.3 608.0,435.8 608.0,436.0 608.4,439.3 608.8,444.1 609.1,452.2 609.5,460.8 609.9,469.7 610.3,474.4 610.6,481.1 611.0,484.2 611.4,487.3 611.8,490.3 612.1,491.0 612.5,492.9 612.9,493.5 613.3,494.5 613.7,496.8 614.0,496.8 614.4,497.7 614.8,497.3 615.2,497.7 615.5,497.7 615.9,498.1 616.3,496.9 616.7,497.1 617.1,497.8 617.4,497.5 617.8,498.0 618.2,498.2 618.6,499.0 618.9,498.6 619.3,498.1 619.7,498.6 620.1,499.7 620.4,500.4 620.8,499.1 621.2,499.2 621.6,500.4 622.0,501.4 622.3,500.0 622.7,500.1 623.1,500.0 623.5,500.3 623.8,498.8 624.2,500.3 624.6,499.5 625.0,499.7 625.4,499.2 625.7,499.8 626.1,499.8 626.5,498.8 626.9,499.6 627.2,499.8 627.6,499.1 628.0,500.5 628.4,500.7 628.7,500.1 629.1,499.3 629.5,499.7 629.9,500.1 630.3,500.3 630.6,500.0 631.0,500.2 631.4,500.7 631.8,499.9 632.1,499.8 632.5,499.4 632.9,499.6 633.3,498.7 633.7,498.3 634.0,499.1 634.4,499.3 634.8,498.9 635.2,499.8 635.5,499.7 635.9,499.2 636.3,500.4 636.7,500.1 637.0,498.9 637.4,500.3 637.8,500.3 638.2,498.9 638.6,500.3 638.9,500.0 639.3,499.9 639.7,500.3 640.1,499.7 640.4,500.5 640.8,499.5 641.2,500.0 641.6,499.7 642.0,500.2 642.3,499.7 642.7,499.7 643.1,501.1 643.5,500.7 643.8,501.2 644.2,500.3 644.6,501.6 645.0,500.2 645.3,499.8 645.7,500.3 646.1,501.0 646.5,500.8 646.9,500.9 647.2,501.2 647.6,500.8 648.0,501.0 648.4,501.1 648.7,500.6 649.1,499.7 649.5,500.9 649.9,499.8 650.3,498.8 650.6,499.3 651.0,501.1 651.4,499.4 651.8,498.7 652.1,498.7 652.5,498.9 652.9,499.6 653.3,500.4 653.6,500.6 654.0,500.6 654.4,500.2 654.8,500.1 655.2,499.9 655.5,500.5 655.9,499.9 656.3,500.3 656.7,499.1 657.0,499.3 657.4,500.4 657.8,499.9 658.2,499.3 658.5,500.7 658.9,500.9 659.3,500.0 659.7,499.9 660.1,499.2 660.4,498.5 660.8,499.3 661.2,498.8 661.6,499.4 661.9,499.6 662.3,499.7 662.7,500.3 663.1,501.1 663.5,500.3 663.8,500.8 664.2,501.1 664.6,500.8 665.0,500.6 665.3,500.4 665.7,499.6 666.1,499.3 666.5,500.1 666.8,499.6 667.2,500.2 667.6,500.1 668.0,499.6 668.4,500.2 668.7,499.4 669.1,500.6 669.5,499.0 669.9,499.6 670.2,499.7 670.6,499.3 671.0,498.7 671.4,499.2 671.8,498.5 672.1,499.4 672.5,499.0 672.9,499.5 673.3,499.0 673.6,499.2 674.0,499.2 674.4,498.6 674.8,498.6 675.1,498.2 675.5,498.4 675.9,498.8 676.3,498.0 676.7,497.1 677.0,498.4 677.4,498.4 677.8,496.9 678.2,496.8 678.5,496.2 678.9,496.6 679.3,494.3 679.7,493.8 680.1,492.5 680.4,491.9 680.8,489.1 681.2,486.5 681.6,483.9 681.9,481.0 682.3,477.7 682.7,474.9 683.1,472.6 683.4,470.6 683.8,469.1 683.8,469.9 684.2,470.0 684.6,471.2 685.0,474.4 685.3,476.0 685.7,478.8 686.1,480.8 686.5,481.2 686.8,482.4 687.2,482.7 687.6,481.8 688.0,479.8 688.4,476.9 688.7,472.3 689.1,465.4 689.5,457.6 689.9,448.8 690.2,440.6 690.6,433.0 691.0,430.9 691.0,430.7 691.4,433.3 691.7,441.1 692.1,450.8 692.5,459.5 692.9,468.3 693.3,474.7 693.6,480.1 694.0,483.6 694.4,486.3 694.8,488.4 695.1,491.3 695.5,492.9 695.9,493.8 696.3,495.1 696.7,494.8 697.0,495.9 697.4,495.9 697.8,495.7 698.2,496.5 698.5,496.4 698.9,496.6 699.3,497.2 699.7,497.5 700.0,496.7 700.4,496.9 700.8,497.1 701.2,496.9 701.6,495.9 701.9,496.7 702.3,496.2 702.7,497.0 703.1,495.5 703.4,496.1 703.8,496.0 704.2,494.4 704.6,495.2 705.0,494.3 705.3,493.1 705.7,491.4 706.1,488.2 706.5,484.3 706.8,481.1 707.2,474.9 707.6,466.6 708.0,457.2 708.3,447.1 708.7,437.5 709.1,429.0 709.5,426.1 709.5,425.9 709.9,429.6 710.2,437.9 710.6,446.9 711.0,458.0 711.4,466.4 711.7,473.7 712.1,480.7 712.5,485.3 712.9,488.5 713.2,491.0 713.6,493.0 714.0,494.4 714.4,494.7 714.8,495.4 715.1,497.0 715.5,496.9 715.9,497.5 716.3,497.4 716.6,498.0 717.0,497.7 717.4,498.2 717.8,498.1 718.2,498.9 718.5,499.5 718.9,497.9 719.3,497.6 719.7,498.4 720.0,497.5 720.4,498.0 720.8,498.8 721.2,499.7 721.5,500.2 721.9,499.6 722.3,499.9 722.7,499.7 723.1,499.6 723.4,499.8 723.8,500.9 724.2,500.6 724.6,501.3 724.9,500.4 725.3,500.9 725.7,501.4 726.1,499.9 726.5,500.8 726.8,499.9 727.2,499.7 727.6,500.2 728.0,499.7 728.3,500.6 728.7,499.4 729.1,500.6 729.5,500.5 729.8,499.3 730.2,500.5 730.6,499.2 731.0,500.0 731.4,499.1 731.7,500.1 732.1,500.1 732.5,500.7 732.9,499.7 733.2,501.5 733.6,499.9 734.0,500.8 734.4,501.2 734.8,501.2 735.1,501.1 735.5,500.4 735.9,501.6 736.3,501.0 736.6,501.6 737.0,501.7 737.4,501.3 737.8,501.2 738.1,500.4 738.5,500.2 738.9,500.8 739.3,500.0 739.7,500.7 740.0,500.1 740.4,501.0 740.8,500.4 741.2,500.7 741.5,501.2 741.9,500.7 742.3,500.5 742.7,500.5 743.1,499.7 743.4,498.7 743.8,500.4 744.2,499.1 744.6,499.5 744.9,499.2 745.3,500.2 745.7,499.1 746.1,500.2 746.4,500.7 746.8,501.2 747.2,500.8 747.6,500.0 748.0,500.6 748.3,499.8 748.7,500.3 749.1,499.8 749.5,499.0 749.8,499.3 750.2,498.6 750.6,498.6 751.0,498.4 751.4,497.9 751.7,497.4 752.1,497.4 752.5,498.1 752.9,496.5 753.2,496.4 753.3,497.6 753.6,496.9 754.0,497.2 754.4,497.9 754.7,497.3 755.1,498.1 755.5,498.0 755.9,497.9 756.3,497.9 756.6,497.8 757.0,499.3 757.4,498.9 757.8,499.0 758.1,498.9 758.5,499.8 758.9,499.7 759.3,498.9 759.6,500.6 760.0,500.2 760.4,500.0 760.8,500.3 761.2,500.5 761.5,501.2 761.9,501.2 762.3,501.9 762.7,501.1 763.0,501.7 763.4,501.2 763.8,501.2 764.2,501.3 764.6,501.4 764.9,501.3 765.3,501.6 765.7,501.0 766.1,500.9 766.4,502.3 766.8,501.4 767.2,500.2 767.6,501.6 767.9,501.1 768.3,501.6 768.7,501.1 769.1,502.0 769.5,501.9 769.8,499.9 770.2,502.0 770.6,501.1 771.0,501.3 771.3,502.1 771.7,500.9 772.1,501.5 772.5,501.1 772.9,502.5 773.2,502.5 773.6,502.5 774.0,500.9 774.4,500.9 774.7,502.1 775.1,502.6 775.5,501.4 775.9,500.9 776.2,501.2 776.6,500.8 777.0,501.9 777.4,501.6 777.8,501.7 778.1,501.8 778.5,501.7 778.9,501.0 779.3,501.7 779.6,502.1 780.0,501.8 780.4,501.8 780.8,501.9 781.2,501.6 781.5,501.0 781.9,501.0 782.3,502.6 782.7,499.9 783.0,502.7 783.4,501.8 783.8,501.2 784.2,500.8 784.5,500.2 784.9,500.4 785.3,500.3 785.7,501.1 786.1,501.0 786.4,500.5 786.8,501.4 787.2,500.4 787.6,501.6 787.9,500.8 788.3,501.7 788.7,501.1 789.1,501.5 789.5,502.8 789.8,501.6 790.2,502.2 790.6,502.4 791.0,502.4 791.3,501.1 791.7,500.7 792.1,500.3 792.5,501.6 792.8,500.3 793.2,501.9 793.6,500.5 794.0,500.8 794.4,501.6 794.7,501.9 795.1,501.1 795.5,500.3 795.9,501.6 796.2,500.6 796.6,500.7 797.0,500.5 797.4,501.1 797.8,501.5 798.1,500.4 798.5,500.5 798.9,499.5 799.3,500.3 799.6,498.9 800.0,499.9 800.4,500.3 800.8,499.6 801.1,500.6 801.5,500.4 801.9,500.8 802.3,501.3 802.7,500.4 803.0,499.5 803.4,501.6 803.8,499.9 804.2,499.9 804.5,500.1 804.9,500.3 805.3,499.7 805.7,500.6 806.1,500.4 806.4,500.7 806.8,500.0 807.2,500.0 807.6,500.0 807.9,500.9 808.3,500.7 808.7,501.6 809.1,500.5 809.4,502.2 809.8,500.4 810.2,500.9 810.6,501.6 811.0,500.8 811.3,501.4 811.7,501.9 812.1,500.5 812.5,500.9 812.8,501.5 813.2,501.3 813.6,501.6 814.0,501.7 814.3,500.3 814.7,501.6 815.1,501.2 815.5,500.8 815.9,501.7 816.2,501.6 816.6,501.1 817.0,501.3 817.4,501.7 817.7,501.2 818.1,501.6 818.5,500.3 818.9,500.0 819.3,500.4 819.6,501.2 820.0,501.6 820.4,502.1 820.4,500.7 820.8,501.0 821.1,500.8 821.5,501.9 821.9,500.4 822.3,501.2 822.6,501.4 823.0,501.2 823.4,501.5 823.8,501.8 824.2,501.9 824.5,500.8 824.9,501.4 825.3,501.5 825.7,501.4 826.0,500.6 826.4,502.0 826.8,501.3 827.2,501.1 827.6,501.7 827.9,501.5 828.3,501.3 828.7,501.2 829.1,501.7 829.4,501.4 829.8,502.0 830.2,500.8 830.6,500.7 830.9,500.9 831.3,500.7 831.7,500.3 832.1,501.0 832.5,500.3 832.8,500.6 833.2,501.6 833.6,500.7 834.0,500.9 834.3,500.6 834.7,499.8 835.1,500.7 835.5,500.5 835.9,500.3 836.2,500.3 836.6,500.7 837.0,501.6 837.4,500.9 837.7,500.1 838.1,501.4 838.5,501.0 838.9,501.3 839.2,500.7 839.6,500.8 840.0,501.7 840.4,502.0 840.8,501.9 841.1,502.1 841.5,502.4 841.9,503.2 842.3,502.3 842.6,502.2 843.0,500.7 843.4,501.4 843.8,501.2 844.2,500.7 844.5,500.2 844.9,501.7 845.3,501.7 845.7,501.3 846.0,500.7 846.4,501.0 846.8,501.5 847.2,501.1 847.5,500.9 847.9,501.7 848.3,501.1 848.7,501.5 849.1,501.8 849.4,501.7 849.8,501.4 850.2,500.4 850.6,500.8 850.9,500.4 851.3,501.1 851.7,501.2 852.1,501.1 852.5,501.2 852.8,500.9 853.2,500.8 853.6,500.0 854.0,500.9 854.3,500.6 854.7,500.2 855.1,499.4 855.5,498.6 855.8,500.3 856.2,499.5 856.6,498.8 857.0,498.0 857.4,498.4 857.7,497.3 858.1,497.0 858.5,495.1 858.9,495.6 859.2,494.4 859.6,493.9 860.0,493.4 860.4,493.1 860.8,491.2 861.1,491.3 861.5,491.4 861.5,490.9 861.9,491.4 862.3,491.2 862.6,491.5 863.0,493.3 863.4,493.5 863.8,494.3 864.1,495.2 864.5,495.7 864.9,496.7 865.3,499.1 865.7,498.6 866.0,498.1 866.4,498.8 866.8,497.7 867.2,497.5 867.5,498.7 867.9,498.9 868.3,498.9 868.7,498.7 869.0,499.0 869.4,498.8 869.8,498.9 870.2,499.1 870.6,498.0 870.9,498.3 871.3,498.0 871.7,497.4 872.1,497.3 872.4,497.3 872.8,495.8 873.2,495.2 873.6,494.2 874.0,492.3 874.3,490.6 874.7,490.1 875.1,487.6 875.5,485.8 875.8,482.7 876.2,480.6 876.6,478.1 877.0,476.1 877.3,475.1 877.5,475.2 877.7,475.5 878.1,476.7 878.5,476.7 878.9,480.2 879.2,481.6 879.6,485.0 880.0,487.3 880.4,490.0 880.7,492.0 881.1,493.1 881.5,495.1 881.9,495.5 882.3,496.9 882.6,497.2 883.0,498.1 883.4,497.9 883.8,497.2 884.1,499.0 884.5,499.3 884.9,497.5 885.3,499.0 885.6,499.3 886.0,500.1 886.4,499.1 886.8,500.0 887.2,500.2 887.5,501.1 887.9,500.8 888.3,500.6 888.7,501.3 889.0,501.1 889.4,500.4 889.8,500.3 890.2,500.8 890.6,500.5 890.9,500.3 891.3,500.5 891.5,499.5 891.7,499.3 892.1,499.1 892.4,500.1 892.8,500.6 893.2,500.4 893.6,500.7 893.9,499.7 894.3,499.3 894.7,499.8 895.1,500.7 895.5,500.6 895.8,499.8 896.2,500.4 896.6,500.8 897.0,500.1 897.3,499.9 897.7,501.2 898.1,499.9 898.5,500.6 898.9,500.9 899.2,499.4 899.6,499.6 900.0,500.6 900.4,501.5 900.7,501.0 901.1,501.1 901.5,501.6 901.9,501.5 902.2,501.6 902.6,501.1 903.0,502.2 903.4,501.2 903.8,501.2 904.1,500.4 904.5,500.8 904.9,501.0 905.3,501.6 905.6,501.4 906.0,500.7 906.4,501.1 906.8,500.9 907.2,500.5 907.5,500.5 907.9,501.5 908.3,502.4 908.7,501.4 909.0,501.1 909.4,501.7 909.8,501.4 910.2,501.7 910.5,500.7 910.9,501.5 911.3,501.0 911.7,500.1 912.1,501.1 912.4,500.9 912.8,500.4 913.2,501.2 913.6,499.3 913.9,499.4 914.3,499.4 914.7,498.4 915.1,499.1 915.1,498.7 915.5,500.3 915.8,499.5 916.2,500.6 916.6,500.6 917.0,500.6 917.3,500.8 917.7,499.5 918.1,499.3 918.5,499.5 918.8,499.3 919.2,501.0 919.6,499.9 920.0,500.0 920.4,499.6 920.7,499.4 921.1,500.7 921.5,500.4 921.9,500.7 922.2,502.3 922.6,502.0 923.0,502.6 923.4,501.3 923.7,502.6 924.1,501.2 924.5,501.3 924.9,501.4 925.3,500.4 925.6,500.8 926.0,501.4 926.4,500.6"/>
<polyline fill="#fff" stroke="#0000ff" stroke-width="4.4" stroke-linejoin="round" stroke-linecap="round" points="64.4,563.1 64.7,561.8 65.1,562.7 65.5,561.9 65.9,563.4 66.2,562.1 66.6,562.6 67.0,563.2 67.4,562.7 67.8,564.1 68.1,562.7 68.5,562.9 68.9,563.1 69.3,563.4 69.6,562.7 70.0,563.8 70.4,563.0 70.8,562.5 71.2,562.7 71.5,562.4 71.9,561.9 72.3,562.1 72.7,563.0 73.0,563.7 73.4,562.7 73.8,562.5 74.2,561.3 74.5,562.2 74.9,562.3 75.3,563.2 75.7,563.6 76.1,563.2 76.4,563.4 76.8,562.9 77.2,562.1 77.6,562.4 77.9,561.6 78.3,561.6 78.7,562.1 79.1,562.1 79.5,562.8 79.8,561.7 80.2,562.5 80.6,562.5 81.0,561.8 81.3,563.1 81.7,563.2 82.1,563.6 82.5,562.7 82.8,563.2 83.2,562.6 83.6,561.4 84.0,562.7 84.4,562.1 84.7,562.9 85.1,563.3 85.5,563.0 85.9,562.0 86.2,563.5 86.6,562.5 87.0,562.9 87.4,562.3 87.8,562.4 88.1,563.2 88.5,562.4 88.9,562.9 89.3,562.5 89.6,562.8 90.0,561.6 90.4,562.3 90.8,561.7 91.1,563.1 91.5,562.2 91.9,561.4 92.3,561.3 92.7,560.9 93.0,561.0 93.4,560.7 93.8,561.8 94.2,560.9 94.5,561.0 94.9,561.4 95.3,561.8 95.7,561.0 96.1,559.9 96.4,559.9 96.8,559.4 97.2,557.8 97.6,557.0 97.9,556.7 98.3,555.0 98.7,554.8 99.1,552.1 99.4,549.8 99.8,547.1 100.2,542.2 100.6,535.3 101.0,526.0 101.3,510.9 101.7,490.2 102.1,466.6 102.5,442.9 102.8,425.9 103.0,423.7 103.2,427.0 103.6,443.1 104.0,467.7 104.3,491.0 104.7,511.5 105.1,525.6 105.5,535.4 105.9,543.1 106.2,548.3 106.6,551.2 107.0,553.9 107.4,555.5 107.7,555.9 108.1,557.4 108.5,558.0 108.9,558.7 109.3,560.0 109.6,560.5 110.0,560.8 110.4,561.6 110.8,561.2 111.1,561.8 111.5,561.3 111.9,561.7 112.3,561.2 112.6,562.6 113.0,561.8 113.4,563.1 113.8,562.4 114.2,563.5 114.5,563.8 114.9,563.4 115.3,563.3 115.7,562.8 116.0,562.6 116.4,562.7 116.8,562.5 117.2,563.5 117.6,563.2 117.9,563.5 118.3,564.3 118.7,563.3 119.1,563.6 119.4,563.7 119.8,565.1 120.2,564.6 120.6,565.0 120.9,563.6 121.3,564.2 121.7,564.6 122.1,564.7 122.5,565.3 122.8,564.6 123.2,564.5 123.6,565.1 124.0,565.1 124.3,564.5 124.7,563.9 125.1,563.6 125.5,564.6 125.9,563.3 126.2,563.1 126.6,563.1 127.0,564.2 127.4,564.1 127.7,563.2 128.1,563.3 128.5,563.8 128.9,563.6 129.2,563.3 129.6,563.0 130.0,563.2 130.4,563.4 130.8,563.8 131.1,564.0 131.5,563.9 131.9,564.7 132.3,564.9 132.6,563.3 133.0,564.3 133.4,563.8 133.8,563.3 134.2,564.1 134.5,563.9 134.9,564.5 135.3,563.9 135.7,564.9 136.0,564.2 136.4,563.7 136.8,565.2 137.2,563.6 137.5,564.6 137.9,563.7 138.3,563.7 138.7,563.6 139.1,563.6 139.4,563.9 139.8,564.7 140.2,564.8 140.6,563.9 140.9,564.9 141.3,564.3 141.7,565.0 142.1,565.0 142.5,564.8 142.8,565.5 143.2,563.8 143.6,565.6 144.0,565.9 144.3,564.7 144.7,564.4 145.1,563.8 145.5,564.7 145.8,564.4 146.2,564.4 146.6,564.3 147.0,565.0 147.4,564.6 147.7,563.8 148.1,564.5 148.5,563.9 148.9,564.8 149.2,564.1 149.6,564.7 150.0,565.2 150.4,564.7 150.7,564.5 151.1,565.4 151.5,565.4 151.9,566.7 152.3,566.4 152.6,564.8 153.0,565.2 153.4,566.7 153.8,565.7 154.1,565.3 154.5,565.9 154.9,565.4 155.3,565.3 155.7,564.5 156.0,565.3 156.4,564.7 156.8,564.2 157.2,565.0 157.5,565.0 157.9,565.6 158.3,565.2 158.7,565.3 159.0,564.4 159.4,564.9 159.8,564.7 160.2,565.6 160.6,564.2 160.9,564.6 161.3,564.9 161.7,564.3 162.1,564.9 162.4,564.6 162.8,564.6 163.2,565.2 163.6,564.3 164.0,564.6 164.3,564.8 164.7,565.0 165.1,564.6 165.5,564.8 165.8,565.7 166.2,565.0 166.6,566.1 167.0,566.1 167.3,564.6 167.7,565.0 168.1,564.4 168.5,564.7 168.9,565.0 169.2,564.3 169.6,564.7 170.0,564.7 170.4,563.9 170.7,564.8 171.1,565.6 171.5,565.2 171.9,566.2 172.3,564.7 172.6,565.1 173.0,564.6 173.4,565.0 173.8,563.8 174.1,564.4 174.5,564.6 174.9,564.3 175.3,564.9 175.6,563.8 176.0,564.2 176.4,562.8 176.8,563.2 177.2,563.5 177.5,562.8 177.9,563.4 178.3,564.1 178.7,563.9 179.0,564.5 179.4,564.8 179.8,565.0 180.2,565.4 180.6,565.0 180.9,563.5 181.3,565.2 181.7,563.4 182.1,564.2 182.4,564.1 182.8,564.4 183.2,564.7 183.6,564.5 183.9,565.2 184.3,565.2 184.7,564.7 185.1,564.9 185.5,563.9 185.8,564.2 186.2,563.1 186.6,563.6 187.0,563.1 187.3,564.3 187.7,563.5 188.1,564.8 188.5,563.9 188.9,563.4 189.2,564.4 189.6,563.7 190.0,564.2 190.4,563.0 190.7,563.4 191.1,563.8 191.5,563.1 191.9,564.1 192.2,561.7 192.6,561.7 193.0,559.9 193.4,558.6 193.8,558.1 194.1,557.1 194.5,555.7 194.9,554.1 195.3,551.1 195.6,550.4 196.0,548.6 196.4,546.1 196.8,545.7 197.0,546.5 197.2,546.3 197.5,546.3 197.9,547.8 198.3,549.7 198.7,552.6 199.0,553.4 199.4,554.9 199.8,556.8 200.2,556.8 200.5,559.2 200.9,560.6 201.3,561.0 201.7,560.8 202.1,562.9 202.4,562.6 202.8,562.5 203.2,562.4 203.6,563.6 203.9,563.2 204.3,563.6 204.7,564.0 205.1,563.2 205.4,564.7 205.8,563.6 206.2,564.7 206.6,565.1 207.0,565.0 207.3,564.8 207.7,564.4 208.1,564.2 208.5,564.9 208.8,564.7 209.2,564.0 209.6,564.5 210.0,564.6 210.4,565.5 210.7,565.3 211.1,565.5 211.5,565.3 211.9,565.7 212.2,565.5 212.6,564.4 213.0,565.4 213.4,565.4 213.7,564.5 214.1,564.1 214.5,565.8 214.9,564.3 215.3,566.3 215.6,566.1 216.0,566.0 216.4,565.7 216.8,565.7 217.1,566.6 217.5,566.9 217.9,565.6 218.3,566.7 218.7,566.0 219.0,566.6 219.4,566.3 219.8,565.8 220.2,565.3 220.5,565.4 220.9,566.3 221.3,566.0 221.7,565.1 222.0,564.5 222.4,564.8 222.8,564.9 223.2,565.0 223.6,565.4 223.9,565.0 224.3,565.8 224.7,564.8 225.1,566.6 225.4,565.9 225.8,565.2 226.2,565.5 226.6,565.0 227.0,565.1 227.3,565.8 227.7,564.5 228.1,565.2 228.5,564.7 228.8,564.3 229.2,564.7 229.6,564.7 230.0,565.1 230.3,566.1 230.7,566.5 231.1,565.1 231.5,565.2 231.9,564.8 232.2,565.6 232.6,564.8 233.0,564.7 233.4,565.2 233.7,565.7 234.1,564.9 234.5,563.7 234.9,565.2 235.3,565.1 235.6,564.8 236.0,565.4 236.4,564.3 236.8,565.4 237.1,565.7 237.5,564.7 237.9,566.7 238.3,566.3 238.6,566.2 239.0,565.9 239.4,566.7 239.8,566.8 240.2,565.7 240.5,565.7 240.9,565.4 241.3,565.9 241.7,565.4 242.0,565.7 242.4,565.5 242.8,565.2 243.2,565.4 243.6,564.9 243.9,566.0 244.3,564.7 244.7,565.0 245.1,565.5 245.4,564.8 245.8,565.8 246.2,566.0 246.6,566.1 246.9,565.9 247.3,565.7 247.7,565.2 248.1,565.0 248.5,564.7 248.8,565.9 249.2,566.1 249.6,566.4 250.0,565.7 250.3,566.2 250.7,565.9 251.1,565.5 251.5,565.8 251.9,566.0 252.2,565.5 252.6,566.5 253.0,565.1 253.4,565.4 253.7,565.1 254.1,565.9 254.5,566.1 254.9,565.3 255.2,566.0 255.6,564.9 256.0,566.1 256.4,565.3 256.8,565.7 257.1,564.5 257.5,565.5 257.9,565.2 258.3,564.7 258.6,564.4 259.0,565.7 259.4,565.9 259.8,565.3 260.1,565.9 260.5,565.9 260.9,565.8 261.3,564.6 261.7,565.7 262.0,565.7 262.4,565.1 262.8,566.1 263.2,566.0 263.5,567.1 263.9,566.4 264.3,566.7 264.7,567.1 265.1,567.6 265.4,567.2 265.8,566.1 266.2,567.5 266.6,567.2 266.9,567.6 267.3,566.5 267.7,565.9 268.1,565.7 268.4,566.4 268.8,566.5 269.2,566.0 269.6,566.1 270.0,566.1 270.3,566.4 270.7,566.1 271.1,566.5 271.5,565.6 271.8,565.8 272.2,565.1 272.6,565.8 273.0,565.8 273.4,564.7 273.7,564.9 274.1,565.7 274.5,566.6 274.9,566.6 275.2,567.3 275.6,566.9 276.0,566.2 276.4,566.3 276.7,567.5 277.1,566.1 277.5,565.8 277.9,565.7 278.3,565.1 278.6,565.9 279.0,565.8 279.4,564.6 279.8,566.0 280.1,565.8 280.5,565.3 280.9,564.9 281.3,565.2 281.7,565.3 282.0,566.0 282.4,565.1 282.8,566.0 283.2,566.2 283.5,565.1 283.9,564.9 284.3,565.5 284.7,565.9 285.0,563.8 285.4,564.4 285.8,563.5 286.2,564.6 286.6,564.5 286.9,564.1 287.3,564.9 287.7,565.8 288.1,563.9 288.4,564.2 288.8,564.2 289.2,564.6 289.6,565.2 290.0,564.7 290.3,565.3 290.7,564.8 291.1,564.5 291.5,564.5 291.8,563.6 292.2,564.2 292.6,564.6 293.0,563.9 293.3,564.8 293.7,563.6 294.1,564.6 294.5,564.0 294.9,564.7 295.2,563.7 295.6,563.8 296.0,563.5 296.4,562.9 296.7,563.4 297.1,562.5 297.5,562.4 297.9,563.2 298.3,562.7 298.6,561.8 299.0,560.7 299.4,559.1 299.8,557.4 300.1,557.5 300.5,555.5 300.9,553.1 301.3,550.6 301.6,547.4 302.0,543.5 302.4,541.3 302.8,537.9 303.2,536.0 303.5,534.4 303.7,534.0 303.9,534.2 304.3,534.8 304.7,537.3 305.0,540.6 305.4,542.2 305.8,545.5 306.2,549.4 306.6,550.7 306.9,552.6 307.3,555.4 307.7,557.2 308.1,557.9 308.4,558.4 308.8,558.0 309.2,559.8 309.6,557.9 309.9,557.5 310.3,558.2 310.7,557.6 311.1,556.9 311.5,556.5 311.8,556.1 312.2,554.9 312.6,553.1 313.0,552.2 313.3,550.3 313.7,547.2 314.1,542.5 314.5,535.6 314.8,526.0 315.2,511.4 315.6,491.2 316.0,464.9 316.4,437.4 316.7,409.9 317.1,389.5 317.4,383.8 317.5,384.9 317.9,398.1 318.2,423.0 318.6,452.7 319.0,480.2 319.4,502.6 319.8,521.1 320.1,533.3 320.5,541.1 320.9,547.2 321.3,551.1 321.6,552.9 322.0,555.2 322.4,557.3 322.8,557.2 323.1,558.4 323.5,558.1 323.9,558.3 324.3,558.8 324.7,559.0 325.0,559.4 325.4,559.8 325.8,561.4 326.2,561.7 326.5,561.9 326.9,561.8 327.3,561.5 327.7,563.4 328.1,563.4 328.4,563.7 328.8,563.7 329.2,563.5 329.6,564.7 329.9,563.3 330.3,564.2 330.7,564.6 331.1,564.6 331.4,565.0 331.8,564.5 332.2,563.9 332.6,563.9 333.0,563.8 333.3,565.1 333.7,564.8 334.1,565.6 334.5,564.7 334.8,564.8 335.2,565.3 335.6,565.2 336.0,565.8 336.4,566.1 336.7,565.4 337.1,565.7 337.5,565.6 337.9,564.5 338.2,564.8 338.6,564.6 339.0,566.2 339.4,565.0 339.7,563.8 340.1,565.0 340.5,564.8 340.9,566.2 341.3,565.7 341.6,565.5 342.0,565.8 342.4,566.6 342.8,566.9 343.1,566.6 343.5,566.0 343.9,565.4 344.3,565.8 344.7,565.8 345.0,565.5 345.4,565.9 345.8,565.7 346.2,566.5 346.5,565.5 346.9,564.9 347.3,564.8 347.7,565.4 348.0,565.0 348.4,564.9 348.8,564.9 349.2,565.4 349.6,564.6 349.9,565.1 350.3,565.9 350.7,565.8 351.1,565.6 351.4,565.9 351.8,566.8 352.2,566.1 352.6,565.0 353.0,565.2 353.3,565.1 353.7,565.0 354.1,564.5 354.5,564.9 354.8,563.8 355.2,565.0 355.6,564.3 356.0,564.8 356.3,564.3 356.7,564.6 356.7,563.6 357.1,564.9 357.5,563.5 357.9,563.5 358.2,562.8 358.6,564.2 359.0,563.5 359.4,564.6 359.7,564.8 360.1,564.5 360.5,563.7 360.9,565.0 361.2,564.7 361.6,565.3 362.0,565.7 362.4,566.2 362.8,565.3 363.1,565.4 363.5,565.9 363.9,565.8 364.3,566.0 364.6,566.0 365.0,565.9 365.4,566.0 365.8,566.0 366.2,566.0 366.5,566.1 366.9,565.8 367.3,566.7 367.7,566.2 368.0,565.6 368.4,565.9 368.8,567.1 369.2,566.4 369.5,566.6 369.9,565.9 370.3,566.9 370.7,567.5 371.1,567.2 371.4,566.7 371.8,567.0 372.2,567.0 372.6,566.2 372.9,565.9 373.3,565.5 373.7,566.9 374.1,566.6 374.5,566.2 374.8,566.2 375.2,566.5 375.6,567.0 376.0,566.7 376.3,565.8 376.7,565.5 377.1,566.2 377.5,566.5 377.8,566.5 378.2,566.2 378.6,566.0 379.0,567.2 379.4,566.4 379.7,566.8 380.1,566.6 380.5,566.5 380.9,566.9 381.2,565.3 381.6,564.7 382.0,566.3 382.4,567.1 382.8,567.0 383.1,567.2 383.5,566.8 383.9,566.6 384.3,567.5 384.6,566.1 385.0,566.5 385.4,565.7 385.8,566.1 386.1,565.6 386.5,565.9 386.9,566.1 387.3,565.8 387.7,566.3 388.0,566.1 388.4,567.2 388.8,566.4 389.2,566.4 389.5,567.8 389.9,566.6 390.3,566.3 390.7,566.3 391.1,565.8 391.4,566.0 391.8,564.9 392.2,566.2 392.6,565.1 392.9,565.2 393.3,565.2 393.7,565.6 394.1,564.9 394.4,565.0 394.8,565.4 395.2,564.9 395.6,565.1 396.0,563.9 396.3,563.0 396.7,564.4 397.1,562.9 397.5,562.2 397.8,563.4 398.2,564.2 398.6,563.9 399.0,562.6 399.4,562.5 399.7,561.5 400.1,561.0 400.5,559.6 400.9,557.7 401.2,556.4 401.6,554.3 402.0,550.9 402.4,545.4 402.7,538.8 403.1,530.2 403.5,516.4 403.9,499.5 404.3,478.8 404.6,457.0 405.0,435.0 405.4,419.5 405.8,412.8 405.8,413.5 406.1,418.5 406.5,436.3 406.9,457.8 407.3,479.4 407.7,500.9 408.0,517.4 408.4,531.0 408.8,540.3 409.2,546.9 409.5,551.4 409.9,553.9 410.3,556.1 410.7,557.9 411.0,559.5 411.4,560.4 411.8,560.7 412.2,561.7 412.6,562.4 412.9,563.0 413.3,563.3 413.7,563.7 414.1,563.5 414.4,564.4 414.8,563.5 415.2,563.9 415.6,563.9 415.9,564.2 416.3,564.8 416.7,564.1 417.1,564.8 417.5,565.1 417.8,565.6 418.2,565.3 418.6,565.2 419.0,565.5 419.3,565.5 419.7,565.7 420.1,566.3 420.5,566.4 420.9,566.4 421.2,566.2 421.6,566.7 422.0,566.9 422.4,566.9 422.7,567.0 423.1,567.9 423.5,567.4 423.9,566.6 424.2,567.8 424.6,566.3 425.0,566.6 425.4,567.1 425.8,567.0 426.1,566.8 426.5,566.6 426.9,566.7 427.3,566.4 427.6,567.1 428.0,567.7 428.4,567.1 428.8,567.7 429.2,568.1 429.5,567.3 429.9,568.1 430.3,568.0 430.7,567.6 431.0,567.2 431.4,567.6 431.8,567.5 432.2,566.7 432.5,565.4 432.9,566.6 433.3,564.2 433.7,565.3 434.1,563.6 434.4,564.6 434.8,564.3 435.2,564.0 435.6,563.8 435.9,563.2 436.3,562.2 436.7,561.8 437.1,560.6 437.5,558.6 437.8,557.8 438.2,555.3 438.6,553.6 439.0,551.5 439.3,550.6 439.7,549.7 440.1,548.5 440.3,549.2 440.5,550.7 440.8,551.5 441.2,551.2 441.6,553.8 442.0,554.9 442.4,557.0 442.7,559.9 443.1,560.1 443.5,561.3 443.9,562.1 444.2,563.6 444.6,563.0 445.0,564.1 445.4,564.9 445.8,565.2 446.1,566.0 446.5,567.0 446.9,566.5 447.3,566.8 447.6,567.5 448.0,567.4 448.4,567.2 448.8,567.9 449.1,568.1 449.5,568.4 449.9,567.4 450.3,567.9 450.7,567.7 451.0,566.6 451.4,567.3 451.8,568.3 452.2,567.3 452.5,568.1 452.9,567.3 453.3,566.9 453.7,566.5 454.1,567.2 454.4,566.7 454.8,568.4 455.2,566.3 455.6,567.5 455.9,566.8 456.3,567.5 456.7,566.5 457.1,567.5 457.4,567.3 457.8,568.4 458.2,568.6 458.6,568.1 459.0,567.6 459.3,567.8 459.7,567.9 460.1,567.6 460.5,567.0 460.8,567.9 461.2,567.0 461.6,568.0 462.0,569.4 462.4,568.7 462.7,567.8 463.1,568.5 463.5,569.3 463.9,568.7 464.2,567.8 464.6,567.9 465.0,569.4 465.4,569.0 465.7,569.2 466.1,568.6 466.5,568.6 466.9,568.7 467.3,568.1 467.6,568.8 468.0,568.2 468.4,567.7 468.8,568.9 469.1,568.3 469.5,568.3 469.9,567.4 470.3,568.3 470.6,568.1 471.0,568.1 471.4,567.9 471.8,569.4 472.2,568.8 472.5,568.8 472.9,568.5 473.3,568.4 473.7,568.2 474.0,568.5 474.4,567.7 474.8,568.3 475.2,567.6 475.6,567.9 475.9,567.9 476.3,568.6 476.7,568.0 477.1,568.7 477.4,568.9 477.8,569.3 478.2,569.1 478.6,568.8 478.9,568.9 479.3,568.8 479.7,569.6 480.1,569.0 480.5,569.4 480.8,570.3 481.2,569.8 481.6,569.3 482.0,568.6 482.3,568.5 482.7,568.4 483.1,568.8 483.5,569.1 483.9,568.2 484.2,567.9 484.6,568.7 485.0,567.3 485.4,567.5 485.7,568.8 486.1,568.8 486.5,569.3 486.9,567.8 487.2,568.4 487.6,567.9 488.0,567.6 488.4,567.7 488.8,566.5 489.1,567.5 489.5,567.2 489.9,568.0 490.3,567.5 490.6,568.2 491.0,568.0 491.4,567.8 491.8,567.6 492.2,567.0 492.5,567.2 492.9,566.7 493.3,566.7 493.7,566.4 494.0,566.2 494.4,566.5 494.8,566.6 495.2,566.4 495.5,565.6 495.9,565.8 496.3,567.0 496.7,566.0 497.1,566.4 497.4,566.9 497.8,566.7 498.2,566.6 498.6,566.6 498.9,567.2 499.3,566.6 499.7,567.2 500.1,566.9 500.5,565.9 500.8,565.1 501.2,564.2 501.6,562.7 502.0,560.8 502.3,561.1 502.7,559.0 503.1,555.5 503.5,553.9 503.8,551.4 504.2,548.4 504.6,545.1 505.0,542.1 505.4,540.4 505.7,540.1 505.7,540.8 506.1,540.5 506.5,543.3 506.9,544.3 507.2,547.4 507.6,550.9 508.0,552.4 508.4,555.7 508.8,558.1 509.1,560.0 509.5,561.7 509.9,563.2 510.3,563.7 510.6,565.4 511.0,565.6 511.4,565.4 511.8,565.7 512.1,566.8 512.5,566.5 512.9,566.3 513.3,566.8 513.7,566.2 514.0,567.3 514.4,567.3 514.8,567.7 515.2,566.5 515.5,567.1 515.9,566.3 516.3,566.4 516.7,566.4 517.0,566.8 517.4,566.5 517.8,566.9 518.2,567.0 518.6,567.2 518.9,568.1 519.3,567.2 519.7,567.8 520.1,568.6 520.4,567.6 520.8,567.6 521.2,567.2 521.6,567.1 522.0,568.2 522.3,567.7 522.7,568.1 523.1,568.5 523.5,567.7 523.8,568.2 524.2,566.7 524.6,569.4 525.0,569.1 525.3,568.1 525.7,569.0 526.1,569.2 526.5,567.7 526.9,567.8 527.2,567.7 527.6,567.4 528.0,567.6 528.4,568.1 528.7,567.9 529.1,568.0 529.5,568.0 529.9,567.5 530.3,568.0 530.6,568.8 531.0,568.5 531.4,567.7 531.8,568.3 532.1,567.9 532.5,569.2 532.9,567.7 533.3,569.1 533.6,567.9 534.0,568.4 534.4,569.2 534.8,568.6 535.2,569.4 535.5,568.6 535.9,569.2 536.3,568.9 536.7,568.6 537.0,568.9 537.4,570.1 537.8,568.4 538.2,568.3 538.6,569.1 538.9,568.7 539.3,568.0 539.7,567.8 540.1,569.0 540.4,568.4 540.8,568.0 541.2,568.7 541.6,568.7 541.9,568.5 542.3,568.4 542.7,569.0 543.1,568.2 543.5,568.3 543.8,569.7 544.2,569.1 544.6,569.7 545.0,569.0 545.3,568.9 545.7,568.6 546.1,567.6 546.5,567.8 546.9,568.6 547.2,568.3 547.6,568.7 548.0,568.5 548.4,568.2 548.7,567.7 549.1,568.1 549.5,568.0 549.9,567.1 550.2,568.4 550.6,568.4 551.0,569.1 551.4,568.6 551.8,569.0 552.1,570.5 552.5,569.0 552.9,569.2 553.3,569.5 553.6,568.0 554.0,569.0 554.4,568.8 554.8,568.6 555.2,569.1 555.5,568.4 555.9,568.9 556.3,569.0 556.7,568.1 557.0,569.3 557.4,568.0 557.8,568.4 558.2,568.4 558.5,568.2 558.9,568.3 559.3,568.5 559.7,569.0 560.1,568.5 560.4,567.3 560.8,568.8 561.2,568.2 561.6,567.6 561.9,568.8 562.3,568.7 562.7,569.3 563.1,569.6 563.5,569.0 563.8,568.3 564.2,568.8 564.6,567.8 565.0,567.6 565.3,567.8 565.7,567.2 566.1,567.1 566.5,568.3 566.8,567.8 567.2,568.2 567.6,567.7 568.0,567.4 568.4,566.9 568.7,566.9 569.1,566.2 569.5,565.6 569.9,565.1 570.2,566.5 570.6,565.5 571.0,564.2 571.4,563.6 571.7,563.8 572.1,562.2 572.5,560.8 572.9,559.5 573.3,557.0 573.6,555.8 574.0,552.6 574.4,549.7 574.8,547.4 575.1,546.7 575.5,544.9 575.9,544.8 575.9,545.4 576.3,545.5 576.7,546.7 577.0,549.4 577.4,552.0 577.8,553.3 578.2,555.0 578.5,557.3 578.9,560.2 579.3,561.3 579.7,561.6 580.0,563.4 580.4,563.9 580.8,564.5 581.2,565.4 581.6,564.7 581.9,565.9 582.3,566.3 582.7,566.9 583.1,567.0 583.4,567.0 583.8,567.0 584.2,566.4 584.6,567.0 585.0,567.3 585.3,568.1 585.7,567.9 586.1,567.4 586.5,566.9 586.8,566.3 587.2,566.3 587.6,567.0 588.0,567.7 588.3,568.0 588.7,568.1 589.1,568.3 589.5,569.8 589.9,569.2 590.2,569.0 590.6,569.4 591.0,568.9 591.4,567.8 591.7,568.4 592.1,568.7 592.5,569.3 592.9,568.5 593.3,569.6 593.6,570.0 594.0,569.8 594.4,569.4 594.8,569.2 595.1,569.3 595.5,569.3 595.9,569.8 596.3,569.5 596.6,569.8 597.0,569.9 597.4,569.7 597.8,570.1 598.2,570.3 598.5,569.5 598.9,570.1 599.3,570.8 599.7,570.0 600.0,568.8 600.4,568.2 600.8,569.0 601.2,569.2 601.6,569.3 601.9,568.7 602.3,568.9 602.7,569.1 603.1,568.5 603.4,569.3 603.8,568.1 604.2,568.1 604.6,569.1 604.9,568.7 605.3,568.5 605.7,569.1 606.1,568.8 606.5,569.6 606.8,568.6 607.2,568.5 607.6,569.0 608.0,569.0 608.3,569.1 608.7,568.5 609.1,568.7 609.5,569.5 609.9,569.5 610.2,569.4 610.6,567.8 611.0,567.7 611.4,568.8 611.7,568.3 612.1,568.5 612.5,568.5 612.9,568.4 613.2,568.5 613.6,568.5 614.0,567.3 614.4,567.8 614.8,567.9 615.1,568.0 615.5,567.5 615.9,568.4 616.3,567.9 616.6,569.0 617.0,568.1 617.4,566.7 617.8,567.4 618.2,566.6 618.5,566.7 618.9,567.1 619.3,568.0 619.7,566.7 620.0,567.2 620.4,567.8 620.8,568.5 621.2,568.5 621.5,569.2 621.9,567.5 622.3,568.0 622.7,568.5 623.1,568.9 623.4,567.7 623.8,567.7 624.2,568.3 624.6,568.6 624.9,568.8 625.3,568.3 625.7,570.0 626.1,569.0 626.4,568.3 626.8,568.0 627.2,568.1 627.6,568.8 628.0,569.4 628.3,569.4 628.7,568.5 629.1,568.1 629.5,569.0 629.8,568.6 630.2,567.5 630.6,567.2 631.0,568.0 631.4,567.8 631.7,567.7 632.1,567.7 632.5,567.7 632.9,569.1 633.2,568.5 633.6,568.5 634.0,568.7 634.4,569.3 634.7,568.8 635.1,569.4 635.5,568.2 635.9,568.2 636.3,567.7 636.6,569.0 637.0,568.2 637.4,567.9 637.8,568.3 638.1,568.3 638.5,566.8 638.9,567.1 639.3,566.4 639.7,565.1 640.0,566.9 640.4,567.2 640.8,567.3 641.2,566.9 641.5,567.5 641.9,567.3 642.3,567.8 642.7,567.9 643.0,567.0 643.4,566.8 643.8,567.2 644.2,566.1 644.6,566.4 644.9,565.3 645.3,565.5 645.7,565.9 646.1,565.7 646.4,565.0 646.8,564.0 647.2,562.3 647.6,561.3 648.0,559.5 648.3,556.6 648.7,552.7 649.1,548.8 649.5,545.1 649.8,537.9 650.2,530.5 650.6,522.7 651.0,515.7 651.3,509.6 651.7,507.6 651.7,507.7 652.1,508.5 652.5,514.3 652.9,521.7 653.2,528.9 653.6,536.0 654.0,542.0 654.4,545.9 654.7,548.6 655.1,551.0 655.5,551.5 655.9,551.1 656.3,550.1 656.6,549.6 657.0,546.2 657.4,542.9 657.8,540.5 658.1,538.4 658.5,537.1 658.9,536.4 658.9,536.9 659.3,537.7 659.6,539.7 660.0,543.3 660.4,545.7 660.8,548.7 661.2,551.3 661.5,553.9 661.9,556.1 662.3,557.4 662.7,559.3 663.0,560.7 663.4,561.1 663.8,562.3 664.2,563.6 664.6,565.2 664.9,564.0 665.3,564.5 665.7,564.7 666.1,564.8 666.4,566.5 666.8,565.7 667.2,566.3 667.6,566.3 667.9,567.2 668.3,567.4 668.7,567.3 669.1,566.8 669.5,566.1 669.8,565.8 670.2,566.1 670.6,565.9 671.0,565.8 671.3,565.7 671.7,564.8 672.1,566.2 672.5,564.9 672.9,563.5 673.2,564.0 673.6,561.3 674.0,559.3 674.4,557.8 674.7,556.9 675.1,553.4 675.5,550.6 675.9,547.7 676.2,545.7 676.6,542.0 677.0,540.9 677.4,540.3 677.4,540.5 677.8,541.2 678.1,542.5 678.5,545.5 678.9,548.2 679.3,550.3 679.6,553.2 680.0,556.2 680.4,559.3 680.8,559.3 681.1,561.5 681.5,562.2 681.9,563.7 682.3,564.8 682.7,564.8 683.0,565.6 683.4,565.7 683.8,566.8 684.2,567.0 684.5,567.9 684.9,567.9 685.3,568.2 685.7,568.4 686.1,568.4 686.4,568.5 686.8,568.4 687.2,567.4 687.6,568.2 687.9,567.7 688.3,567.2 688.7,567.9 689.1,568.1 689.4,568.1 689.8,568.9 690.2,569.4 690.6,569.2 691.0,569.3 691.3,569.2 691.7,569.0 692.1,568.8 692.5,569.2 692.8,568.0 693.2,569.3 693.6,568.5 694.0,570.2 694.4,569.3 694.7,568.7 695.1,568.3 695.5,568.8 695.9,568.1 696.2,568.5 696.6,568.1 697.0,568.8 697.4,568.3 697.7,569.2 698.1,569.2 698.5,568.5 698.9,569.3 699.3,569.3 699.6,569.2 700.0,569.5 700.4,568.5 700.8,569.5 701.1,569.5 701.5,568.4 701.9,568.9 702.3,569.1 702.7,567.8 703.0,568.9 703.4,568.2 703.8,569.3 704.2,568.9 704.5,569.8 704.9,569.0 705.3,569.4 705.7,569.7 706.0,569.5 706.4,569.1 706.8,569.4 707.2,568.5 707.6,568.7 707.9,569.2 708.3,569.5 708.7,569.3 709.1,569.2 709.4,568.1 709.8,567.9 710.2,567.3 710.6,566.1 711.0,565.9 711.3,566.9 711.7,567.3 712.1,568.4 712.5,568.1 712.8,568.7 713.2,568.2 713.6,567.5 714.0,567.5 714.3,567.2 714.7,565.9 715.1,566.0 715.5,565.1 715.9,565.3 716.2,565.3 716.6,564.8 717.0,563.4 717.4,562.1 717.7,560.8 718.1,557.6 718.5,555.6 718.9,551.4 719.3,546.2 719.6,543.5 720.0,539.2 720.4,533.3 720.8,529.5 721.1,528.0 721.2,528.6 721.5,528.4 721.9,531.4 722.3,535.4 722.6,540.3 723.0,545.1 723.4,549.6 723.8,553.2 724.2,556.4 724.5,559.5 724.9,561.8 725.3,562.3 725.7,564.3 726.0,566.1 726.4,565.1 726.8,566.6 727.2,566.5 727.5,568.3 727.9,567.4 728.3,568.0 728.7,568.5 729.1,567.9 729.4,568.8 729.8,568.4 730.2,568.0 730.6,568.2 730.9,567.8 731.3,568.1 731.7,568.8 732.1,568.8 732.5,569.2 732.8,568.8 733.2,569.2 733.6,569.4 734.0,569.6 734.3,569.3 734.7,568.7 735.1,569.7 735.5,569.7 735.8,570.0 736.2,569.7 736.6,570.0 737.0,570.6 737.4,570.1 737.7,569.7 738.1,569.6 738.5,568.7 738.9,570.3 739.2,570.1 739.6,570.5 740.0,570.0 740.4,570.0 740.8,570.0 741.1,569.6 741.5,570.9 741.9,570.6 742.3,571.1 742.6,570.6 743.0,570.5 743.4,568.2 743.8,569.6 744.1,568.6 744.5,568.5 744.9,567.7 745.3,568.2 745.7,570.3 746.0,568.6 746.4,569.9 746.8,569.8 747.2,570.4 747.5,569.9 747.9,570.6 748.3,569.6 748.7,569.9 749.1,570.4 749.4,570.8 749.8,569.9 750.2,570.2 750.6,570.6 750.9,570.6 751.3,569.7 751.7,571.0 752.1,570.4 752.4,570.0 752.8,569.5 753.2,570.4 753.6,571.1 754.0,571.0 754.3,571.2 754.7,571.3 755.1,571.1 755.5,570.6 755.8,570.3 756.2,571.1 756.6,570.1 757.0,570.3 757.4,570.1 757.7,570.2 758.1,569.5 758.5,570.2 758.9,569.4 759.2,569.8 759.6,570.1 760.0,571.0 760.4,570.3 760.7,569.6 761.1,570.8 761.5,571.5 761.9,570.5 762.3,570.2 762.6,570.4 763.0,569.0 763.4,569.9 763.8,569.4 764.1,570.6 764.5,570.5 764.9,570.8 765.3,570.6 765.7,569.4 766.0,568.8 766.4,569.2 766.8,569.7 767.2,569.7 767.5,568.6 767.9,571.2 768.3,571.0 768.7,570.8 769.0,570.6 769.4,570.5 769.8,569.9 770.2,569.6 770.6,569.3 770.9,568.4 771.3,569.5 771.7,569.9 772.1,569.5 772.4,569.9 772.8,570.1 773.2,570.5 773.6,570.2 774.0,570.3 774.3,570.3 774.7,569.5 775.1,570.8 775.5,571.6 775.8,570.5 776.2,571.1 776.6,570.4 777.0,570.9 777.3,570.6 777.7,570.6 778.1,569.9 778.5,570.2 778.9,569.7 779.2,570.5 779.6,569.7 780.0,569.4 780.4,569.6 780.7,569.3 781.1,569.5 781.5,568.3 781.9,568.2 782.2,567.3 782.6,566.5 783.0,565.6 783.4,564.7 783.8,564.7 784.1,564.2 784.5,563.7 784.9,563.1 785.3,561.7 785.6,559.4 786.0,557.9 786.4,555.4 786.8,553.2 787.2,552.7 787.5,550.1 787.9,549.1 788.3,549.3 788.3,548.5 788.7,548.8 789.0,550.7 789.4,551.8 789.8,553.3 790.2,555.6 790.5,556.1 790.9,558.9 791.3,561.3 791.7,562.8 792.1,563.8 792.4,565.0 792.8,566.4 793.2,566.8 793.6,566.2 793.9,567.0 794.3,568.1 794.7,567.1 795.1,567.8 795.5,568.8 795.8,567.8 796.2,568.6 796.6,568.6 797.0,569.4 797.3,569.2 797.7,569.8 798.1,570.4 798.5,569.7 798.8,569.4 799.2,568.8 799.6,570.0 800.0,569.9 800.4,569.8 800.7,571.0 801.1,569.9 801.5,570.1 801.9,570.0 802.2,569.4 802.6,571.2 803.0,569.7 803.4,569.2 803.8,569.5 804.1,570.5 804.5,570.9 804.9,570.2 805.3,569.9 805.6,569.6 806.0,570.0 806.4,570.6 806.8,569.9 807.1,568.9 807.5,570.1 807.9,569.5 808.3,570.4 808.7,570.2 809.0,570.2 809.4,569.3 809.8,569.6 810.2,570.0 810.5,570.6 810.9,570.1 811.3,570.2 811.7,569.9 812.1,569.6 812.4,570.7 812.8,570.2 813.2,569.4 813.6,570.8 813.9,570.6 814.3,570.3 814.7,569.7 815.1,570.3 815.4,569.2 815.8,569.4 816.2,569.2 816.6,569.8 817.0,568.6 817.3,569.5 817.7,569.8 818.1,570.2 818.5,570.1 818.8,570.1 819.2,569.8 819.6,568.9 820.0,568.5 820.4,568.5 820.7,569.4 821.1,568.8 821.5,568.9 821.9,569.1 822.2,568.8 822.6,569.5 823.0,568.1 823.4,568.4 823.7,569.2 824.1,568.3 824.5,567.0 824.9,567.6 825.3,566.7 825.6,567.7 826.0,566.7 826.4,566.7 826.8,566.7 827.1,566.4 827.5,566.4 827.9,565.4 828.3,565.7 828.3,566.0 828.7,566.2 829.0,566.0 829.4,566.5 829.8,566.0 830.2,565.4 830.5,566.6 830.9,566.8 831.3,568.3 831.7,568.2 832.0,568.9 832.4,568.9 832.8,569.0 833.2,569.4 833.6,568.8 833.9,569.9 834.3,568.8 834.7,568.9 835.1,568.8 835.4,569.1 835.8,569.4 836.2,569.6 836.6,568.3 836.9,569.2 837.3,569.2 837.7,569.6 838.1,569.0 838.5,570.6 838.8,569.8 839.2,568.8 839.6,567.7 840.0,568.2 840.3,567.0 840.7,566.6 841.1,565.0 841.5,564.0 841.9,562.1 842.2,561.5 842.6,561.3 843.0,559.4 843.4,558.8 843.7,558.4 843.9,557.7 844.1,558.8 844.5,557.9 844.9,559.8 845.2,560.6 845.6,561.7 846.0,562.2 846.4,564.6 846.8,564.8 847.1,566.4 847.5,567.0 847.9,568.1 848.3,567.8 848.6,567.5 849.0,567.8 849.4,568.1 849.8,569.2 850.2,569.1 850.5,569.2 850.9,569.9 851.3,570.7 851.7,569.9 852.0,570.0 852.4,569.6 852.8,569.7 853.2,570.7 853.5,569.8 853.9,570.3 854.3,570.0 854.7,570.7 855.1,569.8 855.4,571.1 855.8,571.1 856.2,570.7 856.6,571.2 856.9,570.6 857.3,570.5 857.7,570.9 858.1,570.8 858.5,569.1 858.8,570.1 859.2,571.6 859.6,570.3 860.0,570.2 860.3,569.7 860.7,569.0 861.1,570.4 861.5,569.7 861.8,569.8 862.2,570.1 862.6,569.9 863.0,569.8 863.4,568.6 863.7,568.4 864.1,570.3 864.5,571.2 864.9,571.2 865.2,571.0 865.6,571.3 866.0,571.2 866.4,571.8 866.8,570.6 867.1,571.6 867.5,570.8 867.9,571.0 868.3,570.6 868.6,571.6 869.0,571.2 869.4,570.9 869.8,570.7 870.1,571.0 870.5,571.9 870.9,571.7 871.3,570.4 871.7,571.5 872.0,571.9 872.4,572.0 872.8,571.9 873.2,570.9 873.5,570.8 873.9,571.3 874.3,571.0 874.7,570.8 875.1,570.7 875.4,571.2 875.8,571.8 876.2,571.6 876.6,570.8 876.9,571.5 877.3,570.6 877.7,570.5 878.1,571.0 878.4,570.7 878.8,570.7 879.2,570.3 879.6,569.5 880.0,569.9 880.3,570.0 880.7,569.5 881.1,568.9 881.5,569.1 881.8,568.4 882.2,567.2 882.6,567.2 883.0,566.8 883.0,566.8 883.4,567.6 883.7,567.7 884.1,567.7 884.5,567.4 884.9,568.2 885.2,567.9 885.6,569.0 886.0,569.3 886.4,570.3 886.7,569.7 887.1,571.3 887.5,570.5 887.9,571.0 888.3,569.9 888.6,569.6 889.0,570.1 889.4,569.6 889.8,569.3 890.1,569.7 890.5,569.3 890.9,569.5 891.3,569.3 891.6,570.5 892.0,570.4 892.4,570.2 892.8,570.4 893.2,572.1 893.5,571.7 893.9,571.2 894.3,570.7"/>
<polyline fill="#fff" stroke="#ff00ff" stroke-width="4.4" stroke-linejoin="round" stroke-linecap="round" points="32.3,629.6 32.6,629.8 33.0,628.8 33.4,629.3 33.8,629.1 34.1,629.7 34.5,630.7 34.9,629.0 35.3,629.3 35.7,629.0 36.0,630.0 36.4,629.1 36.8,629.4 37.2,630.2 37.5,630.5 37.9,629.8 38.3,631.1 38.7,630.3 39.1,630.5 39.4,630.1 39.8,630.5 40.2,629.6 40.6,629.4 40.9,630.1 41.3,630.3 41.7,629.6 42.1,630.1 42.4,630.6 42.8,629.2 43.2,631.0 43.6,631.3 44.0,630.5 44.3,630.9 44.7,630.6 45.1,631.3 45.5,630.4 45.8,630.9 46.2,631.1 46.6,629.6 47.0,630.6 47.4,629.8 47.7,629.2 48.1,629.6 48.5,629.6 48.9,628.8 49.2,629.3 49.6,629.8 50.0,629.4 50.4,629.3 50.7,631.0 51.1,630.4 51.5,630.1 51.9,629.6 52.3,628.5 52.6,629.1 53.0,629.3 53.4,628.9 53.8,629.1 54.1,629.7 54.5,630.8 54.9,630.1 55.3,630.1 55.7,630.1 56.0,630.9 56.4,630.1 56.8,630.4 57.2,630.1 57.5,630.0 57.9,630.5 58.3,631.1 58.7,629.8 59.0,629.8 59.4,629.2 59.8,629.4 60.2,628.2 60.6,629.3 60.9,628.5 61.3,628.5 61.7,627.8 62.1,628.6 62.4,628.1 62.8,627.8 63.2,626.0 63.6,626.4 64.0,626.3 64.3,625.7 64.7,625.3 65.1,625.4 65.5,624.1 65.8,623.4 66.2,621.9 66.6,621.0 67.0,618.8 67.3,617.8 67.7,614.2 68.1,609.5 68.5,601.5 68.9,588.4 69.2,570.5 69.6,542.8 70.0,509.2 70.4,470.9 70.7,443.4 70.9,439.4 71.1,443.4 71.5,470.9 71.9,508.8 72.2,543.4 72.6,569.6 73.0,588.0 73.4,600.9 73.8,607.5 74.1,612.3 74.5,615.1 74.9,618.4 75.3,620.3 75.6,621.8 76.0,623.7 76.4,623.7 76.8,625.7 77.2,626.2 77.5,625.2 77.9,626.2 78.3,627.1 78.7,626.6 79.0,627.0 79.4,628.3 79.8,627.8 80.2,628.0 80.5,628.9 80.9,629.1 81.3,628.4 81.7,628.8 82.1,629.5 82.4,627.9 82.8,628.8 83.2,628.3 83.6,628.9 83.9,629.3 84.3,629.7 84.7,629.6 85.1,629.8 85.5,630.2 85.8,629.2 86.2,630.5 86.6,630.3 87.0,629.5 87.3,629.5 87.7,629.6 88.1,629.8 88.5,630.4 88.8,630.0 89.2,629.8 89.6,629.6 90.0,630.2 90.4,629.4 90.7,629.3 91.1,631.1 91.5,630.0 91.9,630.9 92.2,631.4 92.6,631.1 93.0,630.9 93.4,631.4 93.8,630.7 94.1,630.8 94.5,630.3 94.9,631.0 95.3,630.0 95.6,630.2 96.0,630.8 96.4,631.5 96.8,631.2 97.1,631.4 97.5,631.1 97.9,631.4 98.3,630.4 98.7,630.3 99.0,630.9 99.4,630.6 99.8,630.7 100.2,630.8 100.5,630.8 100.9,631.1 101.3,631.3 101.7,631.5 102.1,630.8 102.4,630.4 102.8,630.1 103.2,630.0 103.6,629.9 103.9,630.8 104.3,631.8 104.7,630.7 105.1,630.5 105.4,629.7 105.8,630.8 106.2,630.7 106.6,630.9 107.0,630.9 107.3,631.1 107.7,630.8 108.1,630.7 108.5,632.1 108.8,631.6 109.2,630.4 109.6,631.2 110.0,630.8 110.4,632.0 110.7,630.2 111.1,631.3 111.5,631.5 111.9,632.0 112.2,632.3 112.6,631.4 113.0,630.7 113.4,631.1 113.7,630.8 114.1,631.0 114.5,630.6 114.9,630.4 115.3,631.5 115.6,631.1 116.0,630.6 116.4,630.6 116.8,630.7 117.1,630.4 117.5,632.1 117.9,630.8 118.3,631.1 118.6,632.5 119.0,631.8 119.4,632.1 119.8,631.6 120.2,631.8 120.5,630.5 120.9,631.6 121.3,632.4 121.7,631.5 122.0,631.4 122.4,631.5 122.8,632.0 123.2,630.7 123.6,630.7 123.9,630.6 124.3,631.4 124.7,630.6 125.1,630.6 125.4,631.3 125.8,631.8 126.2,631.8 126.6,632.2 126.9,633.1 127.3,632.8 127.7,634.2 128.1,633.3 128.5,633.6 128.8,632.5 129.2,633.3 129.6,632.1 130.0,631.9 130.3,633.2 130.7,632.8 131.1,632.7 131.5,632.0 131.9,633.2 132.2,633.1 132.6,633.1 133.0,633.1 133.4,633.0 133.7,631.2 134.1,630.9 134.5,633.0 134.9,631.7 135.2,632.8 135.6,632.2 136.0,632.5 136.4,632.3 136.8,631.5 137.1,632.5 137.5,632.8 137.9,633.4 138.3,633.9 138.6,633.0 139.0,633.5 139.4,634.0 139.8,632.6 140.2,632.6 140.5,632.5 140.9,632.3 141.3,631.9 141.7,633.0 142.0,633.9 142.4,633.4 142.8,633.0 143.2,632.9 143.5,633.9 143.9,633.0 144.3,633.1 144.7,632.7 145.1,633.6 145.4,633.6 145.8,633.1 146.2,632.6 146.6,632.3 146.9,632.9 147.3,633.5 147.7,632.0 148.1,633.3 148.5,631.6 148.8,631.5 149.2,632.0 149.6,631.7 150.0,632.2 150.3,632.2 150.7,631.7 151.1,631.8 151.5,632.4 151.8,632.2 152.2,632.8 152.6,631.8 153.0,631.3 153.4,632.1 153.7,631.7 154.1,632.8 154.5,632.2 154.9,632.6 155.2,632.5 155.6,632.6 156.0,632.2 156.4,633.0 156.8,631.1 157.1,632.4 157.5,632.0 157.9,631.6 158.3,631.1 158.6,631.0 159.0,630.7 159.4,630.2 159.8,631.0 160.1,630.5 160.5,629.9 160.9,629.0 161.3,628.9 161.7,627.6 162.0,627.1 162.4,625.1 162.8,622.9 163.2,622.3 163.5,621.4 163.9,619.4 164.3,619.9 164.7,618.5 164.9,618.9 165.1,618.9 165.4,619.1 165.8,620.9 166.2,622.3 166.6,622.8 166.9,624.4 167.3,625.1 167.7,627.1 168.1,628.3 168.4,628.4 168.8,629.0 169.2,629.9 169.6,630.5 170.0,631.3 170.3,630.5 170.7,630.1 171.1,630.6 171.5,631.3 171.8,631.3 172.2,632.6 172.6,633.9 173.0,632.9 173.3,632.4 173.7,632.9 174.1,633.1 174.5,632.5 174.9,633.0 175.2,633.3 175.6,632.7 176.0,632.9 176.4,632.8 176.7,634.0 177.1,634.6 177.5,632.9 177.9,633.5 178.3,633.4 178.6,634.0 179.0,633.7 179.4,633.5 179.8,634.1 180.1,635.1 180.5,634.9 180.9,633.2 181.3,633.6 181.6,633.5 182.0,633.7 182.4,632.8 182.8,633.8 183.2,634.4 183.5,634.6 183.9,633.1 184.3,635.5 184.7,634.0 185.0,633.5 185.4,634.3 185.8,634.5 186.2,633.9 186.6,633.6 186.9,633.2 187.3,633.1 187.7,632.6 188.1,632.6 188.4,633.0 188.8,634.0 189.2,634.3 189.6,633.5 189.9,633.6 190.3,633.5 190.7,634.2 191.1,633.5 191.5,635.0 191.8,634.0 192.2,634.1 192.6,634.7 193.0,634.1 193.3,633.1 193.7,633.5 194.1,633.5 194.5,633.7 194.9,633.2 195.2,633.3 195.6,632.8 196.0,633.8 196.4,633.9 196.7,633.2 197.1,634.6 197.5,634.5 197.9,632.8 198.2,633.4 198.6,634.4 199.0,633.5 199.4,633.5 199.8,633.8 200.1,633.0 200.5,633.9 200.9,633.2 201.3,632.5 201.6,634.0 202.0,633.3 202.4,633.4 202.8,633.6 203.2,633.5 203.5,633.5 203.9,632.9 204.3,633.1 204.7,634.4 205.0,633.5 205.4,634.8 205.8,634.5 206.2,633.4 206.5,634.2 206.9,632.9 207.3,632.8 207.7,632.6 208.1,632.4 208.4,633.1 208.8,633.9 209.2,634.3 209.6,634.2 209.9,633.0 210.3,633.1 210.7,633.9 211.1,633.1 211.5,633.2 211.8,633.6 212.2,633.6 212.6,634.5 213.0,633.9 213.3,634.5 213.7,633.9 214.1,633.4 214.5,634.3 214.8,633.8 215.2,633.4 215.6,634.2 216.0,633.4 216.4,632.8 216.7,633.3 217.1,634.0 217.5,634.2 217.9,632.9 218.2,633.3 218.6,632.1 219.0,633.6 219.4,633.3 219.8,633.4 220.1,632.8 220.5,632.9 220.9,632.1 221.3,633.2 221.6,632.6 222.0,633.2 222.4,633.9 222.8,632.1 223.1,634.3 223.5,633.2 223.9,633.3 224.3,633.5 224.7,633.4 225.0,632.6 225.4,633.2 225.8,633.7 226.2,632.5 226.5,633.8 226.9,633.8 227.3,632.7 227.7,633.1 228.0,633.2 228.4,633.3 228.8,633.2 229.2,633.7 229.6,633.1 229.9,633.9 230.3,632.9 230.7,633.6 231.1,634.0 231.4,632.3 231.8,633.5 232.2,633.7 232.6,634.0 233.0,633.8 233.3,633.9 233.7,633.8 234.1,633.5 234.5,634.0 234.8,633.1 235.2,633.6 235.6,633.0 236.0,632.7 236.3,632.9 236.7,633.9 237.1,633.6 237.5,632.9 237.9,633.2 238.2,632.6 238.6,632.7 239.0,632.7 239.4,633.7 239.7,634.1 240.1,635.0 240.5,633.7 240.9,633.7 241.3,633.2 241.6,633.2 242.0,632.6 242.4,632.6 242.8,633.6 243.1,632.8 243.5,633.7 243.9,633.3 244.3,633.7 244.6,633.6 245.0,632.3 245.4,634.1 245.8,632.5 246.2,632.8 246.5,633.3 246.9,631.5 247.3,632.7 247.7,633.3 248.0,632.9 248.4,632.7 248.8,632.8 249.2,632.8 249.6,633.0 249.9,634.0 250.3,633.1 250.7,632.7 251.1,632.9 251.4,633.5 251.8,633.6 252.2,632.6 252.6,633.7 252.9,632.7 253.3,633.5 253.7,634.7 254.1,634.1 254.5,633.4 254.8,632.6 255.2,632.9 255.6,632.8 256.0,632.9 256.3,633.3 256.7,632.6 257.1,631.9 257.5,632.6 257.9,632.2 258.2,631.6 258.6,632.7 259.0,632.0 259.4,632.3 259.7,632.1 260.1,632.2 260.5,632.0 260.9,631.2 261.2,631.7 261.6,632.1 262.0,631.2 262.4,632.2 262.8,631.5 263.1,632.3 263.5,631.5 263.9,632.5 264.3,631.7 264.6,631.7 265.0,631.2 265.4,629.6 265.8,627.7 266.2,627.8 266.5,628.0 266.9,627.8 267.3,626.8 267.7,624.6 268.0,623.9 268.4,621.1 268.8,617.4 269.2,613.9 269.5,608.2 269.9,603.8 270.3,597.0 270.7,591.2 271.1,585.3 271.4,582.1 271.6,582.0 271.8,581.6 272.2,585.0 272.6,589.4 272.9,595.6 273.3,601.8 273.7,608.0 274.1,612.9 274.5,616.6 274.8,618.6 275.2,621.3 275.6,622.4 276.0,623.2 276.3,625.5 276.7,624.7 277.1,626.0 277.5,625.3 277.8,625.5 278.2,625.9 278.6,624.6 279.0,625.3 279.4,624.2 279.7,623.8 280.1,623.3 280.5,622.4 280.9,620.2 281.2,618.7 281.6,616.3 282.0,611.7 282.4,606.5 282.7,597.8 283.1,585.0 283.5,568.0 283.9,546.5 284.3,521.8 284.6,498.3 285.0,480.6 285.3,476.8 285.4,476.3 285.8,487.1 286.1,510.0 286.5,534.7 286.9,559.5 287.3,578.1 287.7,593.4 288.0,604.8 288.4,611.6 288.8,616.6 289.2,620.7 289.5,621.7 289.9,624.3 290.3,624.1 290.7,625.0 291.0,626.1 291.4,627.7 291.8,628.0 292.2,628.7 292.6,629.0 292.9,629.7 293.3,630.8 293.7,629.4 294.1,628.9 294.4,630.1 294.8,629.5 295.2,629.7 295.6,630.0 296.0,631.2 296.3,631.4 296.7,631.3 297.1,632.4 297.5,632.2 297.8,631.8 298.2,632.5 298.6,631.4 299.0,632.6 299.3,632.1 299.7,632.5 300.1,633.4 300.5,632.6 300.9,633.9 301.2,633.8 301.6,633.4 302.0,632.6 302.4,633.5 302.7,633.6 303.1,633.9 303.5,632.8 303.9,632.2 304.3,633.6 304.6,632.4 305.0,632.9 305.4,632.5 305.8,633.7 306.1,633.9 306.5,633.6 306.9,632.8 307.3,633.8 307.6,633.7 308.0,633.9 308.4,634.1 308.8,634.0 309.2,634.6 309.5,633.3 309.9,634.1 310.3,633.8 310.7,632.9 311.0,634.0 311.4,633.7 311.8,633.2 312.2,634.1 312.6,633.8 312.9,634.5 313.3,633.7 313.7,634.6 314.1,634.4 314.4,634.2 314.8,634.6 315.2,635.3 315.6,634.2 315.9,634.2 316.3,633.8 316.7,633.7 317.1,632.7 317.5,634.7 317.8,634.4 318.2,634.2 318.6,633.6 319.0,633.0 319.3,632.9 319.7,633.1 320.1,633.1 320.5,632.6 320.9,632.8 321.2,631.8 321.6,632.1 322.0,632.7 322.4,631.7 322.7,631.7 323.1,631.6 323.5,631.3 323.9,631.7 324.2,631.7 324.6,631.9 324.6,631.4 325.0,631.6 325.4,633.1 325.8,632.8 326.1,632.9 326.5,633.8 326.9,633.0 327.3,634.4 327.6,634.8 328.0,634.7 328.4,632.4 328.8,634.0 329.1,634.0 329.5,634.1 329.9,635.0 330.3,633.0 330.7,633.6 331.0,634.6 331.4,634.1 331.8,634.1 332.2,633.7 332.5,633.1 332.9,632.7 333.3,632.8 333.7,632.8 334.1,633.7 334.4,633.9 334.8,633.0 335.2,634.7 335.6,634.1 335.9,633.4 336.3,635.6 336.7,634.4 337.1,634.6 337.4,634.6 337.8,634.0 338.2,634.7 338.6,634.9 339.0,634.2 339.3,635.0 339.7,635.0 340.1,634.4 340.5,633.3 340.8,633.6 341.2,633.9 341.6,634.4 342.0,634.0 342.4,633.8 342.7,632.8 343.1,633.7 343.5,634.7 343.9,633.6 344.2,633.3 344.6,633.8 345.0,633.9 345.4,633.3 345.7,633.4 346.1,632.7 346.5,633.6 346.9,633.6 347.3,633.8 347.6,633.6 348.0,634.8 348.4,633.8 348.8,634.1 349.1,632.9 349.5,633.1 349.9,633.2 350.3,634.3 350.7,633.6 351.0,633.0 351.4,633.2 351.8,632.9 352.2,633.3 352.5,632.5 352.9,632.3 353.3,633.0 353.7,633.4 354.0,633.4 354.4,633.9 354.8,633.1 355.2,633.1 355.6,633.1 355.9,632.3 356.3,632.8 356.7,632.7 357.1,632.6 357.4,633.1 357.8,632.7 358.2,632.4 358.6,631.5 359.0,632.9 359.3,633.0 359.7,632.0 360.1,633.2 360.5,633.1 360.8,633.2 361.2,633.0 361.6,632.0 362.0,632.6 362.3,632.3 362.7,632.4 363.1,632.4 363.5,632.3 363.9,631.4 364.2,632.0 364.6,630.7 365.0,629.4 365.4,630.8 365.7,630.1 366.1,629.7 366.5,628.5 366.9,627.6 367.3,626.7 367.6,626.2 368.0,625.2 368.4,623.9 368.8,622.1 369.1,619.1 369.5,616.0 369.9,611.5 370.3,603.8 370.6,594.3 371.0,577.0 371.4,557.7 371.8,531.6 372.2,500.5 372.5,466.8 372.9,433.6 373.3,409.1 373.7,399.6 373.7,399.0 374.0,409.4 374.4,433.8 374.8,466.1 375.2,500.7 375.6,531.9 375.9,558.0 376.3,578.1 376.7,593.0 377.1,604.3 377.4,610.9 377.8,617.2 378.2,619.2 378.6,621.9 378.9,624.3 379.3,625.0 379.7,626.2 380.1,627.2 380.5,627.6 380.8,627.7 381.2,627.9 381.6,629.1 382.0,629.0 382.3,629.8 382.7,628.6 383.1,630.0 383.5,630.1 383.8,629.9 384.2,631.1 384.6,631.7 385.0,631.0 385.4,632.6 385.7,632.2 386.1,633.0 386.5,633.3 386.9,633.0 387.2,633.0 387.6,633.3 388.0,632.3 388.4,632.8 388.8,633.2 389.1,633.2 389.5,633.0 389.9,632.7 390.3,633.1 390.6,633.1 391.0,632.4 391.4,632.7 391.8,633.1 392.1,633.6 392.5,634.2 392.9,633.8 393.3,633.9 393.7,634.3 394.0,634.5 394.4,634.4 394.8,635.3 395.2,635.3 395.5,634.9 395.9,634.5 396.3,634.0 396.7,634.3 397.1,635.0 397.4,635.0 397.8,635.0 398.2,634.4 398.6,633.0 398.9,634.2 399.3,633.8 399.7,634.1 400.1,634.3 400.4,634.0 400.8,633.3 401.2,632.7 401.6,633.2 402.0,632.8 402.3,632.0 402.7,632.1 403.1,632.2 403.5,631.1 403.8,631.1 404.2,631.0 404.6,629.3 405.0,628.7 405.4,627.5 405.7,625.7 406.1,625.5 406.5,624.4 406.9,623.3 407.2,621.9 407.6,620.7 408.0,621.2 408.0,619.7 408.4,621.1 408.7,621.4 409.1,622.1 409.5,624.7 409.9,626.5 410.3,626.6 410.6,628.1 411.0,629.2 411.4,629.5 411.8,631.3 412.1,630.5 412.5,631.6 412.9,632.5 413.3,632.7 413.7,633.1 414.0,633.5 414.4,634.1 414.8,634.6 415.2,633.6 415.5,634.4 415.9,633.7 416.3,634.1 416.7,635.5 417.0,635.7 417.4,635.9 417.8,636.2 418.2,635.8 418.6,635.4 418.9,635.9 419.3,635.2 419.7,635.1 420.1,635.9 420.4,634.4 420.8,634.6 421.2,635.9 421.6,636.1 422.0,635.8 422.3,635.6 422.7,635.5 423.1,635.5 423.5,635.5 423.8,635.8 424.2,635.1 424.6,635.3 425.0,636.0 425.3,635.2 425.7,635.8 426.1,635.4 426.5,635.0 426.9,635.2 427.2,637.0 427.6,635.5 428.0,635.4 428.4,635.2 428.7,635.9 429.1,636.1 429.5,635.3 429.9,635.1 430.3,634.9 430.6,634.8 431.0,634.6 431.4,635.2 431.8,635.1 432.1,635.2 432.5,636.4 432.9,635.3 433.3,635.1 433.6,635.0 434.0,635.3 434.4,635.3 434.8,635.6 435.2,634.7 435.5,635.2 435.9,635.1 436.3,634.9 436.7,635.7 437.0,634.7 437.4,636.1 437.8,635.7 438.2,635.8 438.5,635.6 438.9,634.9 439.3,634.7 439.7,634.7 440.1,634.3 440.4,634.1 440.8,634.8 441.2,634.7 441.6,633.9 441.9,633.4 442.3,633.7 442.7,634.0 443.1,633.7 443.5,634.0 443.8,634.0 444.2,634.6 444.6,635.3 445.0,635.5 445.3,635.8 445.7,635.3 446.1,633.3 446.5,635.5 446.8,634.5 447.2,633.3 447.6,633.5 448.0,633.5 448.4,633.4 448.7,634.5 449.1,634.4 449.5,635.8 449.9,636.0 450.2,634.4 450.6,635.1 451.0,635.6 451.4,635.2 451.8,634.7 452.1,634.4 452.5,634.3 452.9,634.4 453.3,635.2 453.6,635.1 454.0,634.4 454.4,634.2 454.8,635.1 455.1,634.7 455.5,633.5 455.9,634.6 456.3,634.5 456.7,634.9 457.0,634.9 457.4,635.8 457.8,634.6 458.2,636.0 458.5,635.0 458.9,636.2 459.3,634.9 459.7,635.3 460.1,634.8 460.4,636.2 460.8,635.6 461.2,635.2 461.6,635.2 461.9,634.7 462.3,634.7 462.7,634.8 463.1,634.6 463.4,634.9 463.8,635.2 464.2,635.1 464.6,634.7 465.0,635.3 465.3,635.7 465.7,634.7 466.1,634.4 466.5,634.0 466.8,634.1 467.2,633.9 467.6,633.3 468.0,632.3 468.4,631.6 468.7,631.6 469.1,631.0 469.5,630.9 469.9,630.2 470.2,628.7 470.6,626.5 471.0,624.4 471.4,622.1 471.7,620.7 472.1,619.0 472.5,615.8 472.9,614.1 473.3,613.0 473.6,612.7 473.6,613.2 474.0,613.1 474.4,614.8 474.8,616.7 475.1,619.4 475.5,620.6 475.9,623.2 476.3,624.8 476.7,626.7 477.0,627.5 477.4,628.3 477.8,629.2 478.2,631.4 478.5,631.1 478.9,632.0 479.3,632.0 479.7,633.5 480.0,633.5 480.4,634.5 480.8,633.3 481.2,634.2 481.6,635.6 481.9,634.7 482.3,634.5 482.7,633.8 483.1,634.9 483.4,635.5 483.8,634.4 484.2,634.8 484.6,634.4 484.9,634.8 485.3,635.4 485.7,635.3 486.1,635.3 486.5,635.8 486.8,635.9 487.2,634.8 487.6,635.1 488.0,633.9 488.3,634.6 488.7,634.8 489.1,634.8 489.5,634.3 489.9,635.2 490.2,634.3 490.6,634.6 491.0,635.8 491.4,634.6 491.7,635.5 492.1,636.4 492.5,635.9 492.9,635.3 493.2,634.7 493.6,634.9 494.0,634.0 494.4,635.9 494.8,635.4 495.1,635.5 495.5,636.6 495.9,636.6 496.3,636.2 496.6,636.5 497.0,635.8 497.4,635.2 497.8,634.8 498.2,636.3 498.5,636.2 498.9,635.5 499.3,636.6 499.7,635.6 500.0,635.9 500.4,636.9 500.8,636.0 501.2,636.1 501.5,636.3 501.9,636.0 502.3,635.8 502.7,636.1 503.1,635.2 503.4,635.6 503.8,636.2 504.2,635.7 504.6,636.1 504.9,636.8 505.3,635.8 505.7,636.6 506.1,637.1 506.5,635.4 506.8,634.8 507.2,635.0 507.6,635.5 508.0,636.1 508.3,636.1 508.7,636.0 509.1,635.3 509.5,635.9 509.8,636.7 510.2,635.5 510.6,636.3 511.0,636.4 511.4,637.1 511.7,637.5 512.1,637.5 512.5,637.7 512.9,637.3 513.2,637.7 513.6,636.9 514.0,636.9 514.4,636.3 514.8,636.9 515.1,635.1 515.5,636.2 515.9,635.0 516.3,636.2 516.6,636.0 517.0,637.6 517.4,636.5 517.8,636.3 518.1,636.7 518.5,635.9 518.9,634.8 519.3,635.2 519.7,635.8 520.0,633.9 520.4,634.5 520.8,635.2 521.2,636.3 521.5,635.0 521.9,635.2 522.3,635.0 522.7,635.6 523.1,635.8 523.4,635.1 523.8,634.5 524.2,634.3 524.6,635.6 524.9,636.0 525.3,634.9 525.7,634.8 526.1,636.0 526.4,634.5 526.8,634.4 527.2,636.2 527.6,635.9 528.0,635.9 528.3,635.0 528.7,635.7 529.1,635.1 529.5,635.6 529.8,635.6 530.2,635.5 530.6,635.4 531.0,635.0 531.4,634.8 531.7,635.2 532.1,635.0 532.5,635.3 532.9,634.9 533.2,635.3 533.6,635.6 534.0,634.7 534.4,635.9 534.7,634.9 535.1,634.4 535.5,635.4 535.9,634.0 536.3,634.3 536.6,634.4 537.0,633.2 537.4,633.8 537.8,635.2 538.1,634.6 538.5,632.7 538.9,632.9 539.3,632.5 539.6,632.6 540.0,630.5 540.4,629.7 540.8,629.7 541.2,628.4 541.5,627.6 541.9,625.8 542.3,623.7 542.7,621.6 543.0,620.8 543.4,619.6 543.8,618.3 543.8,619.6 544.2,618.9 544.6,620.2 544.9,622.1 545.3,623.8 545.7,625.6 546.1,626.4 546.4,629.0 546.8,628.7 547.2,631.5 547.6,630.7 547.9,632.0 548.3,633.1 548.7,633.6 549.1,633.5 549.5,633.8 549.8,633.9 550.2,633.3 550.6,634.6 551.0,633.9 551.3,634.5 551.7,634.0 552.1,634.9 552.5,635.6 552.9,635.0 553.2,635.1 553.6,635.4 554.0,635.3 554.4,635.7 554.7,635.5 555.1,636.4 555.5,637.0 555.9,636.6 556.2,637.1 556.6,636.7 557.0,635.8 557.4,636.1 557.8,636.1 558.1,635.9 558.5,635.3 558.9,635.5 559.3,636.0 559.6,635.9 560.0,636.3 560.4,636.5 560.8,636.0 561.2,635.5 561.5,636.6 561.9,636.7 562.3,636.8 562.7,636.0 563.0,636.2 563.4,635.6 563.8,635.3 564.2,634.9 564.5,635.6 564.9,635.2 565.3,635.7 565.7,635.7 566.1,635.7 566.4,635.5 566.8,636.8 567.2,636.6 567.6,636.9 567.9,636.4 568.3,636.4 568.7,635.8 569.1,635.0 569.5,635.6 569.8,635.8 570.2,634.9 570.6,635.0 571.0,635.6 571.3,634.4 571.7,635.6 572.1,634.4 572.5,635.8 572.8,635.8 573.2,634.8 573.6,634.6 574.0,634.8 574.4,635.0 574.7,634.7 575.1,636.1 575.5,636.0 575.9,635.7 576.2,636.1 576.6,635.2 577.0,634.9 577.4,635.3 577.8,634.0 578.1,634.6 578.5,634.9 578.9,635.8 579.3,636.8 579.6,637.1 580.0,635.7 580.4,637.1 580.8,636.7 581.1,635.2 581.5,636.1 581.9,635.2 582.3,635.4 582.7,634.5 583.0,635.9 583.4,635.1 583.8,635.0 584.2,635.6 584.5,636.2 584.9,635.5 585.3,636.3 585.7,636.3 586.1,636.6 586.4,637.2 586.8,637.3 587.2,636.3 587.6,635.9 587.9,635.7 588.3,635.6 588.7,636.3 589.1,636.0 589.4,634.6 589.8,636.3 590.2,634.6 590.6,634.7 591.0,635.2 591.3,636.7 591.7,635.7 592.1,636.6 592.5,636.0 592.8,635.5 593.2,635.5 593.6,635.2 594.0,635.5 594.3,635.6 594.7,637.6 595.1,635.5 595.5,636.2 595.9,635.2 596.2,636.5 596.6,635.7 597.0,634.9 597.4,635.6 597.7,634.4 598.1,635.3 598.5,635.7 598.9,634.6 599.3,635.9 599.6,636.2 600.0,636.2 600.4,636.0 600.8,636.0 601.1,635.1 601.5,635.9 601.9,634.8 602.3,635.0 602.6,635.8 603.0,636.1 603.4,634.9 603.8,635.6 604.2,634.5 604.5,634.1 604.9,634.5 605.3,634.5 605.7,634.3 606.0,634.3 606.4,635.7 606.8,634.2 607.2,633.9 607.6,634.3 607.9,634.9 608.3,635.1 608.7,635.4 609.1,635.0 609.4,635.4 609.8,634.1 610.2,635.0 610.6,633.5 610.9,634.9 611.3,633.3 611.7,632.9 612.1,633.2 612.5,633.7 612.8,631.9 613.2,632.5 613.6,631.7 614.0,631.0 614.3,631.4 614.7,630.2 615.1,628.9 615.5,628.3 615.9,625.9 616.2,623.2 616.6,619.2 617.0,615.5 617.4,607.2 617.7,598.8 618.1,587.2 618.5,574.6 618.9,561.2 619.2,551.6 619.6,547.5 619.6,547.4 620.0,551.5 620.4,561.4 620.8,574.5 621.1,586.2 621.5,597.2 621.9,605.0 622.3,611.7 622.6,614.6 623.0,617.6 623.4,618.4 623.8,618.7 624.2,618.1 624.5,617.0 624.9,614.6 625.3,613.6 625.7,611.7 626.0,611.4 626.4,610.4 626.8,610.5 626.8,609.9 627.2,611.2 627.5,612.6 627.9,614.5 628.3,616.9 628.7,619.4 629.1,621.4 629.4,623.8 629.8,624.6 630.2,626.1 630.6,626.8 630.9,628.7 631.3,630.2 631.7,630.7 632.1,630.8 632.5,630.8 632.8,631.7 633.2,631.3 633.6,632.4 634.0,633.1 634.3,632.9 634.7,633.1 635.1,633.8 635.5,633.3 635.8,633.1 636.2,633.5 636.6,635.1 637.0,634.2 637.4,634.2 637.7,634.8 638.1,634.7 638.5,633.8 638.9,633.2 639.2,633.3 639.6,632.8 640.0,632.5 640.4,631.3 640.8,629.9 641.1,628.6 641.5,628.3 641.9,627.9 642.3,626.3 642.6,624.5 643.0,622.7 643.4,621.3 643.8,619.8 644.1,617.5 644.5,615.2 644.9,614.5 645.3,615.2 645.3,614.3 645.7,615.4 646.0,616.0 646.4,617.4 646.8,620.7 647.2,621.9 647.5,624.2 647.9,625.6 648.3,627.6 648.7,630.1 649.0,630.8 649.4,631.3 649.8,632.4 650.2,632.5 650.6,633.5 650.9,634.0 651.3,634.8 651.7,634.0 652.1,634.4 652.4,634.2 652.8,634.8 653.2,634.5 653.6,635.1 654.0,635.4 654.3,634.8 654.7,636.1 655.1,634.9 655.5,635.6 655.8,636.3 656.2,636.5 656.6,636.4 657.0,637.8 657.3,637.4 657.7,637.0 658.1,636.5 658.5,636.1 658.9,636.0 659.2,637.4 659.6,637.9 660.0,637.4 660.4,637.5 660.7,637.2 661.1,637.1 661.5,637.8 661.9,636.4 662.3,637.3 662.6,637.3 663.0,637.4 663.4,636.9 663.8,637.2 664.1,636.5 664.5,636.4 664.9,635.9 665.3,635.4 665.6,636.1 666.0,637.3 666.4,637.1 666.8,635.5 667.2,636.8 667.5,636.7 667.9,637.1 668.3,636.2 668.7,638.0 669.0,636.5 669.4,636.4 669.8,637.3 670.2,637.8 670.6,636.2 670.9,635.4 671.3,636.7 671.7,636.4 672.1,636.5 672.4,636.1 672.8,636.0 673.2,636.7 673.6,636.1 673.9,636.7 674.3,636.0 674.7,637.0 675.1,636.4 675.5,636.3 675.8,636.2 676.2,636.8 676.6,636.3 677.0,635.8 677.3,635.6 677.7,636.5 678.1,635.8 678.5,636.3 678.9,635.7 679.2,635.0 679.6,634.0 680.0,635.1 680.4,635.5 680.7,634.5 681.1,634.2 681.5,634.3 681.9,633.7 682.2,633.9 682.6,633.1 683.0,632.1 683.4,632.3 683.8,632.7 684.1,630.8 684.5,629.9 684.9,629.7 685.3,628.0 685.6,626.2 686.0,623.9 686.4,619.8 686.8,614.3 687.2,607.8 687.5,600.0 687.9,592.1 688.3,583.9 688.7,577.6 689.0,574.5 689.1,574.1 689.4,575.6 689.8,580.9 690.2,589.4 690.5,596.7 690.9,606.2 691.3,612.3 691.7,617.7 692.1,621.9 692.4,625.2 692.8,627.8 693.2,628.9 693.6,630.7 693.9,632.3 694.3,632.8 694.7,633.9 695.1,634.6 695.4,635.8 695.8,635.6 696.2,635.0 696.6,634.6 697.0,635.2 697.3,635.9 697.7,634.9 698.1,635.8 698.5,636.3 698.8,636.8 699.2,636.8 699.6,637.2 700.0,636.7 700.4,636.3 700.7,636.5 701.1,636.4 701.5,636.0 701.9,636.3 702.2,635.4 702.6,636.8 703.0,636.0 703.4,635.8 703.7,636.6 704.1,636.1 704.5,636.8 704.9,637.2 705.3,637.4 705.6,637.7 706.0,637.4 706.4,638.4 706.8,636.6 707.1,637.5 707.5,638.4 707.9,637.6 708.3,637.7 708.7,637.1 709.0,637.8 709.4,636.9 709.8,637.3 710.2,637.2 710.5,636.4 710.9,637.4 711.3,637.7 711.7,638.0 712.0,636.7 712.4,638.0 712.8,637.7 713.2,637.9 713.6,639.6 713.9,638.3 714.3,638.2 714.7,637.6 715.1,637.1 715.4,637.1 715.8,636.4 716.2,637.0 716.6,637.4 717.0,637.0 717.3,638.2 717.7,637.0 718.1,637.7 718.5,638.5 718.8,636.8 719.2,637.0 719.6,637.7 720.0,636.7 720.3,637.0 720.7,637.5 721.1,637.2 721.5,637.6 721.9,636.6 722.2,639.0 722.6,637.9 723.0,637.1 723.4,637.7 723.7,638.1 724.1,638.1 724.5,639.0 724.9,638.0 725.3,637.4 725.6,638.2 726.0,637.9 726.4,637.9 726.8,638.2 727.1,639.0 727.5,638.6 727.9,638.8 728.3,639.1 728.6,637.8 729.0,637.6 729.4,637.9 729.8,636.3 730.2,636.5 730.5,636.5 730.9,636.8 731.3,637.2 731.7,636.1 732.0,636.5 732.4,637.6 732.8,637.3 733.2,638.0 733.6,637.2 733.9,638.1 734.3,638.0 734.7,638.0 735.1,638.2 735.4,637.1 735.8,636.9 736.2,636.8 736.6,635.7 736.9,636.6 737.3,636.0 737.7,637.8 738.1,637.2 738.5,639.3 738.8,637.7 739.2,636.5 739.6,637.9 740.0,637.4 740.3,638.4 740.7,638.5 741.1,636.7 741.5,638.1 741.9,637.0 742.2,636.9 742.6,637.3 743.0,637.1 743.4,636.8 743.7,636.1 744.1,636.4 744.5,637.2 744.9,637.2 745.2,636.8 745.6,636.0 746.0,636.1 746.4,636.5 746.8,636.3 747.1,635.8 747.5,635.2 747.9,635.5 748.3,635.3 748.6,635.5 749.0,636.0 749.4,634.4 749.8,634.9 750.1,634.4 750.5,634.1 750.9,633.6 751.3,633.4 751.7,632.3 752.0,631.9 752.4,629.6 752.8,628.4 753.2,626.8 753.5,625.0 753.9,622.6 754.3,619.7 754.7,615.2 755.1,613.6 755.4,611.4 755.8,608.7 756.2,607.8 756.2,608.6 756.6,608.3 756.9,610.0 757.3,613.0 757.7,615.3 758.1,617.9 758.4,620.7 758.8,623.9 759.2,625.5 759.6,627.5 760.0,628.8 760.3,629.7 760.7,631.4 761.1,632.7 761.5,632.6 761.8,633.3 762.2,634.2 762.6,635.0 763.0,635.7 763.4,635.2 763.7,634.6 764.1,634.9 764.5,634.6 764.9,635.6 765.2,635.9 765.6,635.4 766.0,636.7 766.4,637.0 766.7,636.8 767.1,637.4 767.5,637.5 767.9,636.6 768.3,637.1 768.6,638.4 769.0,638.0 769.4,637.1 769.8,637.2 770.1,637.2 770.5,637.4 770.9,637.2 771.3,637.9 771.7,636.6 772.0,637.7 772.4,637.4 772.8,637.4 773.2,638.7 773.5,637.5 773.9,637.4 774.3,637.2 774.7,636.8 775.0,638.2 775.4,637.1 775.8,638.1 776.2,637.3 776.6,637.3 776.9,637.7 777.3,636.8 777.7,637.9 778.1,637.2 778.4,637.5 778.8,636.9 779.2,637.6 779.6,637.4 780.0,637.8 780.3,637.3 780.7,638.2 781.1,637.4 781.5,638.3 781.8,638.3 782.2,637.9 782.6,638.1 783.0,638.2 783.3,637.7 783.7,637.2 784.1,636.5 784.5,638.2 784.9,636.9 785.2,636.8 785.6,637.9 786.0,637.9 786.4,637.5 786.7,637.5 787.1,638.4 787.5,638.1 787.9,637.4 788.3,637.1 788.6,637.3 789.0,636.8 789.4,637.4 789.8,638.0 790.1,638.8 790.5,637.2 790.9,637.4 791.3,637.2 791.6,637.3 792.0,637.6 792.4,635.9 792.8,635.6 793.2,636.2 793.5,636.3 793.9,635.6 794.3,636.7 794.7,636.1 795.0,635.5 795.4,634.8 795.8,634.6 796.2,634.7 796.2,635.4 796.6,635.1 796.9,635.4 797.3,635.5 797.7,635.3 798.1,634.9 798.4,635.4 798.8,636.3 799.2,636.8 799.6,635.4 799.9,636.4 800.3,636.6 800.7,635.6 801.1,637.5 801.5,637.6 801.8,638.1 802.2,638.8 802.6,637.1 803.0,637.3 803.3,637.0 803.7,637.5 804.1,636.6 804.5,636.9 804.8,635.7 805.2,635.4 805.6,636.2 806.0,635.8 806.4,635.9 806.7,635.8 807.1,635.1 807.5,635.0 807.9,634.0 808.2,635.9 808.6,634.5 809.0,634.2 809.4,633.7 809.8,633.6 810.1,633.1 810.5,631.2 810.9,630.7 811.3,630.8 811.6,630.5 811.8,630.9 812.0,630.5 812.4,630.8 812.8,631.1 813.1,631.4 813.5,631.7 813.9,632.7 814.3,633.5 814.7,634.7 815.0,634.9 815.4,635.2 815.8,635.9 816.2,636.2 816.5,635.6 816.9,636.7 817.3,637.3 817.7,637.7 818.1,636.8 818.4,637.8 818.8,637.8 819.2,636.0 819.6,636.5 819.9,637.9 820.3,637.8 820.7,637.5 821.1,637.3 821.4,637.5 821.8,636.9 822.2,637.5 822.6,638.8 823.0,638.1 823.3,638.5 823.7,637.5 824.1,638.2 824.5,638.4 824.8,638.5 825.2,638.2 825.6,638.1 826.0,638.3 826.4,637.6 826.7,639.1 827.1,638.0 827.5,637.9 827.9,638.4 828.2,638.3 828.6,638.0 829.0,637.3 829.4,637.9 829.7,637.9 830.1,638.4 830.5,638.2 830.9,637.6 831.3,638.4 831.6,638.4 832.0,636.0 832.4,637.5 832.8,637.5 833.1,636.6 833.5,637.1 833.9,637.2 834.3,638.3 834.7,636.9 835.0,637.6 835.4,637.7 835.8,636.9 836.2,636.3 836.5,636.7 836.9,636.8 837.3,637.3 837.7,636.2 838.0,637.1 838.4,636.8 838.8,637.3 839.2,637.7 839.6,636.6 839.9,637.2 840.3,637.1 840.7,636.7 841.1,638.4 841.4,637.4 841.8,638.0 842.2,638.7 842.6,636.9 843.0,637.6 843.3,636.3 843.7,637.4 844.1,637.4 844.5,637.3 844.8,637.1 845.2,639.1 845.6,637.8 846.0,637.3 846.3,636.8 846.7,636.3 847.1,636.4 847.5,635.9 847.9,635.9 848.2,636.0 848.6,635.3 849.0,635.8 849.4,635.8 849.7,636.1 850.1,634.1 850.5,633.7 850.9,634.5 850.9,634.6 851.3,634.9 851.6,634.5 852.0,636.1 852.4,635.6 852.8,635.8 853.1,636.2 853.5,637.2 853.9,637.0 854.3,637.3 854.6,637.2 855.0,636.7 855.4,637.6 855.8,637.6 856.2,637.3 856.5,638.0 856.9,637.6 857.3,638.4 857.7,638.1 858.0,638.5 858.4,637.0 858.8,637.4 859.2,636.6 859.5,638.6 859.9,637.5 860.3,638.1 860.7,637.8 861.1,638.6 861.4,637.0 861.8,637.1 862.2,636.4"/>
</g>
<g stroke="#000" stroke-width="3.3" stroke-linecap="round" stroke-linejoin="round" fill="none">
<path d="M13.4 687.7 L13.4 675.0 L862.2 675.0 L862.2 687.7"/>
<path d="M60.6 675.0 V681.7"/>
<path d="M107.7 675.0 V687.7"/>
<path d="M154.9 675.0 V681.7"/>
<path d="M202.0 675.0 V687.7"/>
<path d="M249.2 675.0 V681.7"/>
<path d="M296.3 675.0 V687.7"/>
<path d="M343.5 675.0 V681.7"/>
<path d="M390.6 675.0 V687.7"/>
<path d="M437.8 675.0 V681.7"/>
<path d="M484.9 675.0 V687.7"/>
<path d="M532.1 675.0 V681.7"/>
<path d="M579.3 675.0 V687.7"/>
<path d="M626.4 675.0 V681.7"/>
<path d="M673.6 675.0 V687.7"/>
<path d="M720.7 675.0 V681.7"/>
<path d="M767.9 675.0 V687.7"/>
<path d="M815.0 675.0 V681.7"/>
</g>
<g>
<text x="12.8" y="720.3" text-anchor="middle" font-size="30.5">15</text>
<text x="107.1" y="720.3" text-anchor="middle" font-size="30.5">20</text>
<text x="201.4" y="720.3" text-anchor="middle" font-size="30.5">25</text>
<text x="295.7" y="720.3" text-anchor="middle" font-size="30.5">30</text>
<text x="390.0" y="720.3" text-anchor="middle" font-size="30.5">35</text>
<text x="484.3" y="720.3" text-anchor="middle" font-size="30.5">40</text>
<text x="578.7" y="720.3" text-anchor="middle" font-size="30.5">45</text>
<text x="673.0" y="720.3" text-anchor="middle" font-size="30.5">50</text>
<text x="767.3" y="720.3" text-anchor="middle" font-size="30.5">55</text>
<text x="861.6" y="720.3" text-anchor="middle" font-size="30.5">60</text>
</g>
<g>
<text x="1017.0" y="325.0" text-anchor="end" font-size="30.4">15.0 MPa (93.6%)</text>
<text x="1019.5" y="398.3" text-anchor="end" font-size="30.4">10.0 MPa (96.6%)</text>
<text x="1017.5" y="471.8" text-anchor="end" font-size="30.4">5.0 MPa (99.1%)</text>
<text x="1022.8" y="545.8" text-anchor="end" font-size="30.4">1.0 MPa (64.7%)</text>
<text x="1017.3" y="611.7" text-anchor="end" font-size="30.1">0.1 MPa (47.7%)</text>
</g>
<text x="440.6" y="753.8" text-anchor="middle" font-size="33.7">2theta (degrees)</text>
</svg>
</body></html>
